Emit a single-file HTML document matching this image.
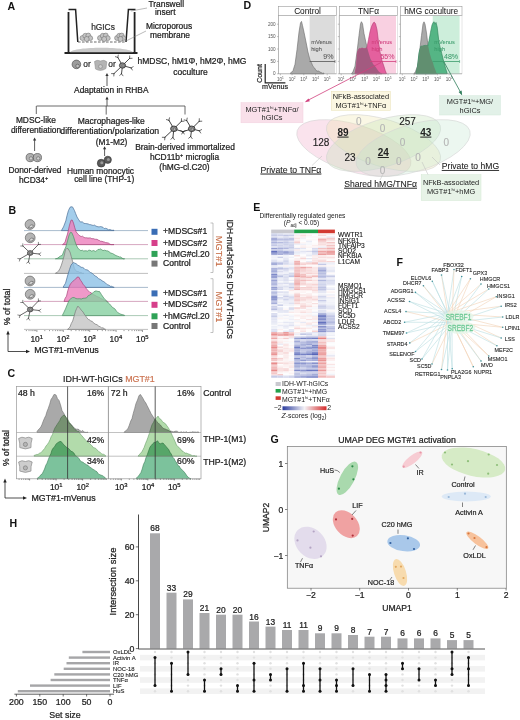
<!DOCTYPE html><html><head><meta charset="utf-8"><style>html,body{margin:0;padding:0;background:#fff;width:520px;height:720px;overflow:hidden}svg{display:block}text{font-family:"Liberation Sans",sans-serif}</style></head><body>
<svg width="520" height="720" viewBox="0 0 520 720">
<rect width="520" height="720" fill="#fff"/>
<text x="7.6" y="10.2" font-size="10.6" text-anchor="start" fill="#111" stroke="#111" stroke-width="0" font-weight="bold" >A</text>
<path d="M68.5,12 L68.5,53 M64.5,53 L137.5,53 M134.6,12 L134.6,53" stroke="#222" stroke-width="1.8" fill="none"/>
<path d="M70,52.2 C73,46.2 130,46.2 133,52.2 Z" fill="#c9c9c9"/>
<path d="M68.5,9.5 L75.6,9.5 L77.8,42 M126,42 L128.4,9.5 L135.5,9.5" stroke="#222" stroke-width="1.5" fill="none"/>
<line x1="78" y1="42" x2="126" y2="42" stroke="#444" stroke-width="0.8" stroke-dasharray="2.6,1.4"/>
<circle cx="82.5" cy="38" r="2.5" fill="#c4c4c4" stroke="#666" stroke-width="0.5"/>
<circle cx="85.3" cy="35.8" r="2.5" fill="#c4c4c4" stroke="#666" stroke-width="0.5"/>
<circle cx="88.3" cy="35.5" r="2.4" fill="#c4c4c4" stroke="#666" stroke-width="0.5"/>
<circle cx="90.3" cy="38.2" r="2.4" fill="#c4c4c4" stroke="#666" stroke-width="0.5"/>
<circle cx="86.7" cy="39" r="2.5" fill="#c4c4c4" stroke="#666" stroke-width="0.5"/>
<circle cx="100.0" cy="38" r="2.5" fill="#c4c4c4" stroke="#666" stroke-width="0.5"/>
<circle cx="102.8" cy="35.8" r="2.5" fill="#c4c4c4" stroke="#666" stroke-width="0.5"/>
<circle cx="105.8" cy="35.5" r="2.4" fill="#c4c4c4" stroke="#666" stroke-width="0.5"/>
<circle cx="107.8" cy="38.2" r="2.4" fill="#c4c4c4" stroke="#666" stroke-width="0.5"/>
<circle cx="104.2" cy="39" r="2.5" fill="#c4c4c4" stroke="#666" stroke-width="0.5"/>
<circle cx="117.1" cy="38" r="2.5" fill="#c4c4c4" stroke="#666" stroke-width="0.5"/>
<circle cx="119.3" cy="35.8" r="2.5" fill="#c4c4c4" stroke="#666" stroke-width="0.5"/>
<circle cx="121.7" cy="35.5" r="2.4" fill="#c4c4c4" stroke="#666" stroke-width="0.5"/>
<circle cx="123.3" cy="38.2" r="2.4" fill="#c4c4c4" stroke="#666" stroke-width="0.5"/>
<circle cx="120.5" cy="39" r="2.5" fill="#c4c4c4" stroke="#666" stroke-width="0.5"/>
<text x="103" y="29.5" font-size="8.4" text-anchor="middle" fill="#333" stroke="#333" stroke-width="0.235" font-weight="normal" >hGICs</text>
<line x1="131" y1="11" x2="147" y2="8" stroke="#777" stroke-width="0.5" />
<line x1="126" y1="41" x2="146" y2="31" stroke="#777" stroke-width="0.5" />
<text x="148.5" y="7.1" font-size="8.4" text-anchor="start" fill="#222" stroke="#222" stroke-width="0.235" font-weight="normal" >Transwell</text>
<text x="155" y="15.3" font-size="8.4" text-anchor="start" fill="#222" stroke="#222" stroke-width="0.235" font-weight="normal" >insert</text>
<text x="146" y="29.3" font-size="8.4" text-anchor="start" fill="#222" stroke="#222" stroke-width="0.235" font-weight="normal" >Microporous</text>
<text x="150" y="37.6" font-size="8.4" text-anchor="start" fill="#222" stroke="#222" stroke-width="0.235" font-weight="normal" >membrane</text>
<circle cx="76.4" cy="64.4" r="4.3" fill="#9c9c9c" stroke="#555" stroke-width="0.7"/>
<circle cx="77.6" cy="66" r="1.8" fill="#bdbdbd" stroke="#444" stroke-width="0.5"/>
<text x="87" y="66.6" font-size="8.4" text-anchor="middle" fill="#333" stroke="#333" stroke-width="0.235" font-weight="normal" >or</text>
<path d="M94.5,61.5 Q97,59.5 100.5,61 Q104,59.3 106.8,61.8 L106,68.5 Q100.5,72 95.5,69 Z" fill="#b4b4b4" stroke="#888" stroke-width="0.5"/>
<circle cx="100.5" cy="66.5" r="1.9" fill="#cfcfcf" stroke="#777" stroke-width="0.5"/>
<text x="112" y="66.6" font-size="8.4" text-anchor="middle" fill="#333" stroke="#333" stroke-width="0.235" font-weight="normal" >or</text>
<line x1="122.5" y1="65.5" x2="117.8" y2="57.4" stroke="#2a2a2a" stroke-width="0.85" stroke-linecap="round"/>
<line x1="117.8" y1="57.4" x2="118.3" y2="55.0" stroke="#2a2a2a" stroke-width="0.66" stroke-linecap="round"/>
<line x1="117.8" y1="57.4" x2="115.4" y2="56.7" stroke="#2a2a2a" stroke-width="0.66" stroke-linecap="round"/>
<line x1="122.5" y1="65.5" x2="129.6" y2="58.4" stroke="#2a2a2a" stroke-width="0.85" stroke-linecap="round"/>
<line x1="129.6" y1="58.4" x2="132.1" y2="58.3" stroke="#2a2a2a" stroke-width="0.66" stroke-linecap="round"/>
<line x1="129.6" y1="58.4" x2="129.7" y2="55.9" stroke="#2a2a2a" stroke-width="0.66" stroke-linecap="round"/>
<line x1="122.5" y1="65.5" x2="114.0" y2="73.6" stroke="#2a2a2a" stroke-width="0.85" stroke-linecap="round"/>
<line x1="114.0" y1="73.6" x2="111.5" y2="73.6" stroke="#2a2a2a" stroke-width="0.66" stroke-linecap="round"/>
<line x1="114.0" y1="73.6" x2="113.8" y2="76.0" stroke="#2a2a2a" stroke-width="0.66" stroke-linecap="round"/>
<line x1="122.5" y1="65.5" x2="121.5" y2="73.8" stroke="#2a2a2a" stroke-width="0.85" stroke-linecap="round"/>
<line x1="121.5" y1="73.8" x2="119.7" y2="75.4" stroke="#2a2a2a" stroke-width="0.66" stroke-linecap="round"/>
<line x1="121.5" y1="73.8" x2="123.0" y2="75.8" stroke="#2a2a2a" stroke-width="0.66" stroke-linecap="round"/>
<line x1="122.5" y1="65.5" x2="131.1" y2="67.9" stroke="#2a2a2a" stroke-width="0.85" stroke-linecap="round"/>
<line x1="131.1" y1="67.9" x2="132.3" y2="70.0" stroke="#2a2a2a" stroke-width="0.66" stroke-linecap="round"/>
<line x1="131.1" y1="67.9" x2="133.2" y2="66.7" stroke="#2a2a2a" stroke-width="0.66" stroke-linecap="round"/>
<ellipse cx="122.5" cy="65.5" rx="3.1" ry="2.7" fill="#8a8a8a" stroke="#2a2a2a" stroke-width="0.76"/>
<circle cx="123.1" cy="65.9" r="1.1" fill="#bbb" stroke="#2a2a2a" stroke-width="0.4"/>
<text x="137.5" y="64" font-size="8.5" text-anchor="start" fill="#222" stroke="#222" stroke-width="0.238" font-weight="normal" >hMDSC, hM1Φ, hM2Φ, hMG</text>
<text x="190.5" y="74.6" font-size="8.5" text-anchor="middle" fill="#222" stroke="#222" stroke-width="0.238" font-weight="normal" >coculture</text>
<line x1="107" y1="86" x2="107" y2="75" stroke="#333" stroke-width="0.8" />
<path d="M105.4,76 L107,73 L108.6,76 Z" fill="#333"/>
<text x="111.3" y="93.4" font-size="8.4" text-anchor="middle" fill="#222" stroke="#222" stroke-width="0.235" font-weight="normal" >Adaptation in RHBA</text>
<line x1="107" y1="106" x2="107" y2="98.5" stroke="#333" stroke-width="0.8" />
<path d="M105.4,99.5 L107,96.5 L108.6,99.5 Z" fill="#333"/>
<line x1="36.5" y1="106" x2="185" y2="106" stroke="#444" stroke-width="0.8" />
<line x1="36.3" y1="106" x2="36.3" y2="114" stroke="#444" stroke-width="0.8" />
<line x1="106.2" y1="106" x2="106.2" y2="114.6" stroke="#444" stroke-width="0.8" />
<line x1="185" y1="106" x2="185" y2="114.5" stroke="#444" stroke-width="0.8" />
<text x="35.9" y="123.2" font-size="8.4" text-anchor="middle" fill="#222" stroke="#222" stroke-width="0.235" font-weight="normal" >MDSC-like</text>
<text x="36" y="133" font-size="8.4" text-anchor="middle" fill="#222" stroke="#222" stroke-width="0.235" font-weight="normal" >differentiation</text>
<text x="111.3" y="123.8" font-size="8.5" text-anchor="middle" fill="#222" stroke="#222" stroke-width="0.238" font-weight="normal" >Macrophages-like</text>
<text x="109.8" y="133.6" font-size="8.7" text-anchor="middle" fill="#222" stroke="#222" stroke-width="0.244" font-weight="normal" >differentiation/polarization</text>
<text x="111.6" y="144.5" font-size="8.4" text-anchor="middle" fill="#222" stroke="#222" stroke-width="0.235" font-weight="normal" >(M1-M2)</text>
<line x1="34.6" y1="151" x2="34.6" y2="139.5" stroke="#333" stroke-width="0.8" />
<path d="M33.0,140.5 L34.6,137.5 L36.2,140.5 Z" fill="#333"/>
<line x1="104.6" y1="156" x2="104.6" y2="148.3" stroke="#333" stroke-width="0.8" />
<path d="M103.0,149.3 L104.6,146.3 L106.19999999999999,149.3 Z" fill="#333"/>
<circle cx="30.2" cy="157.6" r="4.1" fill="#b0b0b0" stroke="#555" stroke-width="0.7"/>
<circle cx="31.0" cy="158.4" r="1.7" fill="#d0d0d0" stroke="#555" stroke-width="0.5"/>
<circle cx="37.4" cy="157.6" r="4.1" fill="#b0b0b0" stroke="#555" stroke-width="0.7"/>
<circle cx="38.199999999999996" cy="158.4" r="1.7" fill="#d0d0d0" stroke="#555" stroke-width="0.5"/>
<text x="35" y="173.4" font-size="8.4" text-anchor="middle" fill="#222" stroke="#222" stroke-width="0.235" font-weight="normal" >Donor-derived</text>
<text x="33.6" y="183" font-size="8.4" text-anchor="middle" fill="#222" stroke="#222" stroke-width="0.235" font-weight="normal" >hCD34<tspan font-size="5.5" dy="-3">+</tspan></text>
<circle cx="107.8" cy="159.8" r="3.6" fill="#5a5a5a" stroke="#333" stroke-width="0.6"/>
<circle cx="108.39999999999999" cy="159.4" r="1.5" fill="#999"/>
<circle cx="101.2" cy="163.2" r="3.9" fill="#5a5a5a" stroke="#333" stroke-width="0.6"/>
<circle cx="101.8" cy="162.79999999999998" r="1.5" fill="#999"/>
<text x="100.5" y="173.8" font-size="8.4" text-anchor="middle" fill="#222" stroke="#222" stroke-width="0.235" font-weight="normal" >Human monocytic</text>
<text x="104.2" y="182.3" font-size="8.4" text-anchor="middle" fill="#222" stroke="#222" stroke-width="0.235" font-weight="normal" >cell line (THP-1)</text>
<line x1="173.9" y1="128.8" x2="168.9" y2="120.3" stroke="#2a2a2a" stroke-width="0.90" stroke-linecap="round"/>
<line x1="168.9" y1="120.3" x2="169.5" y2="117.8" stroke="#2a2a2a" stroke-width="0.70" stroke-linecap="round"/>
<line x1="168.9" y1="120.3" x2="166.4" y2="119.6" stroke="#2a2a2a" stroke-width="0.70" stroke-linecap="round"/>
<line x1="173.9" y1="128.8" x2="181.4" y2="121.3" stroke="#2a2a2a" stroke-width="0.90" stroke-linecap="round"/>
<line x1="181.4" y1="121.3" x2="184.0" y2="121.2" stroke="#2a2a2a" stroke-width="0.70" stroke-linecap="round"/>
<line x1="181.4" y1="121.3" x2="181.5" y2="118.7" stroke="#2a2a2a" stroke-width="0.70" stroke-linecap="round"/>
<line x1="173.9" y1="128.8" x2="164.9" y2="137.3" stroke="#2a2a2a" stroke-width="0.90" stroke-linecap="round"/>
<line x1="164.9" y1="137.3" x2="162.3" y2="137.3" stroke="#2a2a2a" stroke-width="0.70" stroke-linecap="round"/>
<line x1="164.9" y1="137.3" x2="164.7" y2="139.9" stroke="#2a2a2a" stroke-width="0.70" stroke-linecap="round"/>
<line x1="173.9" y1="128.8" x2="172.9" y2="137.5" stroke="#2a2a2a" stroke-width="0.90" stroke-linecap="round"/>
<line x1="172.9" y1="137.5" x2="170.9" y2="139.2" stroke="#2a2a2a" stroke-width="0.70" stroke-linecap="round"/>
<line x1="172.9" y1="137.5" x2="174.4" y2="139.6" stroke="#2a2a2a" stroke-width="0.70" stroke-linecap="round"/>
<line x1="173.9" y1="128.8" x2="182.9" y2="131.7" stroke="#2a2a2a" stroke-width="0.90" stroke-linecap="round"/>
<line x1="182.9" y1="131.7" x2="184.2" y2="134.0" stroke="#2a2a2a" stroke-width="0.70" stroke-linecap="round"/>
<line x1="182.9" y1="131.7" x2="185.3" y2="130.6" stroke="#2a2a2a" stroke-width="0.70" stroke-linecap="round"/>
<ellipse cx="173.9" cy="128.8" rx="3.3" ry="2.8" fill="#8a8a8a" stroke="#2a2a2a" stroke-width="0.80"/>
<circle cx="174.5" cy="129.2" r="1.2" fill="#bbb" stroke="#2a2a2a" stroke-width="0.4"/>
<line x1="191.7" y1="128.8" x2="186.7" y2="120.6" stroke="#2a2a2a" stroke-width="0.90" stroke-linecap="round"/>
<line x1="186.7" y1="120.6" x2="187.2" y2="118.1" stroke="#2a2a2a" stroke-width="0.70" stroke-linecap="round"/>
<line x1="186.7" y1="120.6" x2="184.2" y2="119.9" stroke="#2a2a2a" stroke-width="0.70" stroke-linecap="round"/>
<line x1="191.7" y1="128.8" x2="199.2" y2="121.3" stroke="#2a2a2a" stroke-width="0.90" stroke-linecap="round"/>
<line x1="199.2" y1="121.3" x2="201.8" y2="121.2" stroke="#2a2a2a" stroke-width="0.70" stroke-linecap="round"/>
<line x1="199.2" y1="121.3" x2="199.3" y2="118.7" stroke="#2a2a2a" stroke-width="0.70" stroke-linecap="round"/>
<line x1="191.7" y1="128.8" x2="183.0" y2="131.7" stroke="#2a2a2a" stroke-width="0.90" stroke-linecap="round"/>
<line x1="183.0" y1="131.7" x2="180.6" y2="130.6" stroke="#2a2a2a" stroke-width="0.70" stroke-linecap="round"/>
<line x1="183.0" y1="131.7" x2="181.8" y2="134.0" stroke="#2a2a2a" stroke-width="0.70" stroke-linecap="round"/>
<line x1="191.7" y1="128.8" x2="190.7" y2="136.5" stroke="#2a2a2a" stroke-width="0.90" stroke-linecap="round"/>
<line x1="190.7" y1="136.5" x2="188.7" y2="138.2" stroke="#2a2a2a" stroke-width="0.70" stroke-linecap="round"/>
<line x1="190.7" y1="136.5" x2="192.2" y2="138.6" stroke="#2a2a2a" stroke-width="0.70" stroke-linecap="round"/>
<line x1="191.7" y1="128.8" x2="199.3" y2="130.8" stroke="#2a2a2a" stroke-width="0.90" stroke-linecap="round"/>
<line x1="199.3" y1="130.8" x2="200.7" y2="133.0" stroke="#2a2a2a" stroke-width="0.70" stroke-linecap="round"/>
<line x1="199.3" y1="130.8" x2="201.6" y2="129.6" stroke="#2a2a2a" stroke-width="0.70" stroke-linecap="round"/>
<ellipse cx="191.7" cy="128.8" rx="3.3" ry="2.8" fill="#8a8a8a" stroke="#2a2a2a" stroke-width="0.80"/>
<circle cx="192.3" cy="129.2" r="1.2" fill="#bbb" stroke="#2a2a2a" stroke-width="0.4"/>
<text x="185" y="149.6" font-size="8.4" text-anchor="middle" fill="#222" stroke="#222" stroke-width="0.235" font-weight="normal" >Brain-derived immortalized</text>
<text x="184.5" y="159.7" font-size="8.4" text-anchor="middle" fill="#222" stroke="#222" stroke-width="0.235" font-weight="normal" >hCD11b<tspan font-size="5.5" dy="-3">+</tspan><tspan dy="3"> microglia</tspan></text>
<text x="184.5" y="170.2" font-size="8.4" text-anchor="middle" fill="#222" stroke="#222" stroke-width="0.235" font-weight="normal" >(hMG-cl.C20)</text>
<text x="8.4" y="214.2" font-size="10.6" text-anchor="start" fill="#111" stroke="#111" stroke-width="0" font-weight="bold" >B</text>
<line x1="24" y1="230.6" x2="148" y2="230.6" stroke="#4a6f96" stroke-width="0.6" stroke-opacity="0.8"/>
<path d="M61.4,230.6 L61.4,230.6 L63.5,226.9 L65.8,220.9 L67.1,215.3 L68.4,210.7 L70.0,207.3 L71.0,206.8 L72.5,206.9 L74.4,210.4 L75.7,213.7 L77.0,217.0 L78.8,219.9 L80.5,222.1 L82.2,221.8 L84.0,223.4 L85.4,223.5 L86.9,223.7 L88.3,224.0 L89.5,224.6 L90.8,224.7 L92.0,225.2 L93.3,225.4 L94.5,225.1 L95.8,226.0 L97.0,226.5 L98.2,226.8 L99.4,226.8 L100.6,226.6 L101.9,226.9 L103.1,227.4 L104.3,228.6 L105.5,228.3 L107.0,228.8 L108.5,229.8 L110.0,229.6 L111.3,230.1 L112.7,230.3 L114.0,230.2 L114.0,230.6 Z" fill="#8cc0e6" fill-opacity="0.8" stroke="#4a6f96" stroke-width="0.7" />
<line x1="24" y1="244.6" x2="148" y2="244.6" stroke="#a8457a" stroke-width="0.6" stroke-opacity="0.8"/>
<path d="M62.5,244.6 L62.5,244.6 L63.8,243.4 L65.0,242.4 L66.2,238.0 L67.5,234.0 L69.5,225.1 L71.0,220.2 L72.2,220.0 L73.5,223.1 L74.8,227.8 L76.0,231.6 L77.2,233.3 L78.5,234.6 L79.9,236.0 L81.3,236.5 L82.6,236.2 L84.0,237.5 L85.3,237.8 L86.7,237.8 L88.0,238.1 L89.3,237.9 L90.6,238.0 L91.9,238.8 L93.1,238.6 L94.4,239.0 L95.7,239.3 L97.0,239.3 L98.2,240.1 L99.4,240.5 L100.6,241.3 L101.9,241.3 L103.1,241.8 L104.3,242.0 L105.5,242.6 L107.0,242.8 L108.5,243.1 L110.0,244.3 L111.3,244.6 L112.7,244.6 L114.0,244.6 L114.0,244.6 Z" fill="#ec7fbc" fill-opacity="0.8" stroke="#a8457a" stroke-width="0.7" />
<line x1="24" y1="258.8" x2="148" y2="258.8" stroke="#4f8f66" stroke-width="0.6" stroke-opacity="0.8"/>
<path d="M55.4,258.8 L55.4,258.8 L56.6,258.5 L57.8,258.1 L59.0,257.1 L60.6,256.0 L62.3,255.3 L64.0,250.8 L65.8,247.0 L67.5,240.8 L69.2,234.7 L70.5,232.3 L71.8,232.7 L73.5,236.6 L74.8,240.9 L76.1,244.7 L77.8,248.0 L79.6,249.8 L80.9,250.7 L82.3,250.2 L83.7,251.0 L85.0,250.8 L86.2,250.8 L87.5,251.1 L88.8,250.2 L90.0,250.2 L91.3,251.1 L92.6,250.8 L93.9,250.5 L95.2,251.5 L96.6,250.8 L98.0,249.4 L99.2,249.5 L100.4,248.9 L101.7,249.7 L103.0,250.6 L104.7,250.2 L106.4,250.8 L107.7,250.9 L109.0,251.7 L110.8,253.1 L112.5,253.5 L114.2,254.5 L116.0,255.6 L117.7,256.2 L119.4,256.9 L120.7,257.0 L122.0,258.1 L123.3,258.8 L124.6,258.8 L124.6,258.8 Z" fill="#86d0a0" fill-opacity="0.8" stroke="#4f8f66" stroke-width="0.7" />
<line x1="24" y1="273.4" x2="148" y2="273.4" stroke="#7a7a7a" stroke-width="0.6" stroke-opacity="0.8"/>
<path d="M55.4,273.4 L55.4,273.2 L57.0,272.4 L58.5,271.2 L60.0,268.5 L61.4,265.1 L62.7,260.8 L64.0,256.3 L65.5,249.7 L66.6,248.6 L68.0,248.6 L70.0,252.0 L71.3,256.7 L72.7,261.8 L74.4,268.7 L75.7,270.5 L77.0,271.6 L78.3,271.6 L79.6,272.4 L81.1,272.5 L82.5,273.4 L84.0,273.4 L84.0,273.4 Z" fill="#c4c4c4" fill-opacity="0.8" stroke="#7a7a7a" stroke-width="0.7" />
<line x1="24" y1="287.4" x2="148" y2="287.4" stroke="#4a6f96" stroke-width="0.6" stroke-opacity="0.8"/>
<path d="M63.2,287.4 L63.2,287.0 L65.5,283.2 L67.5,276.0 L69.5,269.4 L71.0,265.2 L72.2,263.6 L73.5,262.5 L74.8,263.2 L76.0,263.6 L77.8,265.2 L79.6,266.1 L81.1,267.3 L82.5,267.4 L84.0,268.3 L85.4,269.7 L86.9,269.8 L88.3,270.4 L89.5,271.9 L90.8,272.7 L92.0,273.1 L93.6,274.7 L95.2,276.0 L96.8,276.8 L98.5,278.7 L100.3,279.4 L102.1,280.8 L103.8,281.7 L105.5,282.9 L107.2,284.7 L109.0,285.2 L110.3,286.3 L111.6,286.3 L112.9,287.0 L114.2,287.4 L114.2,287.4 Z" fill="#8cc0e6" fill-opacity="0.8" stroke="#4a6f96" stroke-width="0.7" />
<line x1="24" y1="301.4" x2="148" y2="301.4" stroke="#a8457a" stroke-width="0.6" stroke-opacity="0.8"/>
<path d="M64.0,301.4 L64.0,301.4 L65.2,298.2 L66.5,296.2 L67.8,290.7 L69.2,286.6 L70.6,283.6 L72.0,282.4 L73.2,280.9 L74.5,279.9 L75.8,279.0 L77.0,277.2 L78.7,277.0 L80.5,280.2 L81.8,282.0 L83.0,284.2 L84.8,286.2 L86.5,288.9 L88.2,290.7 L90.0,292.5 L91.3,292.8 L92.6,294.4 L93.9,294.8 L95.2,295.4 L96.6,296.3 L98.0,297.0 L99.3,297.3 L100.7,298.5 L102.1,299.0 L103.4,299.7 L104.7,300.7 L106.0,301.0 L107.3,301.3 L107.3,301.4 Z" fill="#ec7fbc" fill-opacity="0.8" stroke="#a8457a" stroke-width="0.7" />
<line x1="24" y1="315.6" x2="148" y2="315.6" stroke="#4f8f66" stroke-width="0.6" stroke-opacity="0.8"/>
<path d="M62.3,315.6 L62.3,315.5 L63.9,312.3 L65.5,308.9 L66.7,305.9 L68.0,302.9 L69.2,300.2 L71.0,298.5 L72.7,297.5 L74.3,297.6 L76.0,298.6 L77.8,298.8 L79.6,298.7 L81.3,299.0 L83.0,298.3 L84.8,298.2 L86.5,297.9 L88.2,295.7 L90.0,294.9 L91.7,293.7 L93.4,292.4 L95.0,291.1 L96.5,291.0 L98.0,291.5 L99.5,291.5 L101.5,294.7 L103.8,298.1 L105.4,299.7 L107.0,301.8 L108.2,302.6 L109.5,303.9 L110.7,305.3 L112.3,307.3 L114.0,308.3 L115.2,309.2 L116.5,311.4 L117.7,312.4 L119.3,313.5 L121.0,314.3 L122.8,314.7 L124.6,315.3 L124.6,315.6 Z" fill="#86d0a0" fill-opacity="0.8" stroke="#4f8f66" stroke-width="0.7" />
<line x1="24" y1="329.4" x2="148" y2="329.4" stroke="#7a7a7a" stroke-width="0.6" stroke-opacity="0.8"/>
<path d="M67.5,329.4 L67.5,329.4 L68.8,328.3 L70.0,327.0 L71.3,323.4 L72.7,321.0 L74.1,316.1 L75.5,311.2 L76.7,308.4 L77.9,306.1 L80.0,308.4 L81.5,310.5 L83.0,311.9 L84.2,314.1 L85.5,315.8 L86.9,317.8 L88.3,319.4 L89.6,319.8 L90.8,321.2 L92.1,321.2 L93.4,322.8 L95.2,324.1 L97.0,324.7 L98.7,326.1 L100.4,326.9 L101.7,327.9 L103.0,327.8 L104.3,328.8 L105.6,329.4 L105.6,329.4 Z" fill="#c4c4c4" fill-opacity="0.8" stroke="#7a7a7a" stroke-width="0.7" />
<line x1="24" y1="331.5" x2="148" y2="331.5" stroke="#fff" stroke-width="0.1" />
<line x1="26.4" y1="330.2" x2="26.4" y2="331.09999999999997" stroke="#333" stroke-width="0.6" />
<line x1="29.0" y1="330.2" x2="29.0" y2="331.09999999999997" stroke="#333" stroke-width="0.6" />
<line x1="31.0" y1="330.2" x2="31.0" y2="331.09999999999997" stroke="#333" stroke-width="0.6" />
<line x1="32.8" y1="330.2" x2="32.8" y2="331.09999999999997" stroke="#333" stroke-width="0.6" />
<line x1="34.3" y1="330.2" x2="34.3" y2="331.09999999999997" stroke="#333" stroke-width="0.6" />
<line x1="35.7" y1="330.2" x2="35.7" y2="331.09999999999997" stroke="#333" stroke-width="0.6" />
<line x1="36.9" y1="330.2" x2="36.9" y2="331.8" stroke="#333" stroke-width="0.6" />
<line x1="44.8" y1="330.2" x2="44.8" y2="331.09999999999997" stroke="#333" stroke-width="0.6" />
<line x1="49.5" y1="330.2" x2="49.5" y2="331.09999999999997" stroke="#333" stroke-width="0.6" />
<line x1="52.8" y1="330.2" x2="52.8" y2="331.09999999999997" stroke="#333" stroke-width="0.6" />
<line x1="55.4" y1="330.2" x2="55.4" y2="331.09999999999997" stroke="#333" stroke-width="0.6" />
<line x1="57.4" y1="330.2" x2="57.4" y2="331.09999999999997" stroke="#333" stroke-width="0.6" />
<line x1="59.2" y1="330.2" x2="59.2" y2="331.09999999999997" stroke="#333" stroke-width="0.6" />
<line x1="60.7" y1="330.2" x2="60.7" y2="331.09999999999997" stroke="#333" stroke-width="0.6" />
<line x1="62.1" y1="330.2" x2="62.1" y2="331.09999999999997" stroke="#333" stroke-width="0.6" />
<line x1="63.3" y1="330.2" x2="63.3" y2="331.8" stroke="#333" stroke-width="0.6" />
<line x1="71.2" y1="330.2" x2="71.2" y2="331.09999999999997" stroke="#333" stroke-width="0.6" />
<line x1="75.9" y1="330.2" x2="75.9" y2="331.09999999999997" stroke="#333" stroke-width="0.6" />
<line x1="79.2" y1="330.2" x2="79.2" y2="331.09999999999997" stroke="#333" stroke-width="0.6" />
<line x1="81.8" y1="330.2" x2="81.8" y2="331.09999999999997" stroke="#333" stroke-width="0.6" />
<line x1="83.8" y1="330.2" x2="83.8" y2="331.09999999999997" stroke="#333" stroke-width="0.6" />
<line x1="85.6" y1="330.2" x2="85.6" y2="331.09999999999997" stroke="#333" stroke-width="0.6" />
<line x1="87.1" y1="330.2" x2="87.1" y2="331.09999999999997" stroke="#333" stroke-width="0.6" />
<line x1="88.5" y1="330.2" x2="88.5" y2="331.09999999999997" stroke="#333" stroke-width="0.6" />
<line x1="89.7" y1="330.2" x2="89.7" y2="331.8" stroke="#333" stroke-width="0.6" />
<line x1="97.6" y1="330.2" x2="97.6" y2="331.09999999999997" stroke="#333" stroke-width="0.6" />
<line x1="102.3" y1="330.2" x2="102.3" y2="331.09999999999997" stroke="#333" stroke-width="0.6" />
<line x1="105.6" y1="330.2" x2="105.6" y2="331.09999999999997" stroke="#333" stroke-width="0.6" />
<line x1="108.2" y1="330.2" x2="108.2" y2="331.09999999999997" stroke="#333" stroke-width="0.6" />
<line x1="110.2" y1="330.2" x2="110.2" y2="331.09999999999997" stroke="#333" stroke-width="0.6" />
<line x1="112.0" y1="330.2" x2="112.0" y2="331.09999999999997" stroke="#333" stroke-width="0.6" />
<line x1="113.5" y1="330.2" x2="113.5" y2="331.09999999999997" stroke="#333" stroke-width="0.6" />
<line x1="114.9" y1="330.2" x2="114.9" y2="331.09999999999997" stroke="#333" stroke-width="0.6" />
<line x1="116.1" y1="330.2" x2="116.1" y2="331.8" stroke="#333" stroke-width="0.6" />
<line x1="124.0" y1="330.2" x2="124.0" y2="331.09999999999997" stroke="#333" stroke-width="0.6" />
<line x1="128.7" y1="330.2" x2="128.7" y2="331.09999999999997" stroke="#333" stroke-width="0.6" />
<line x1="132.0" y1="330.2" x2="132.0" y2="331.09999999999997" stroke="#333" stroke-width="0.6" />
<line x1="134.6" y1="330.2" x2="134.6" y2="331.09999999999997" stroke="#333" stroke-width="0.6" />
<line x1="136.6" y1="330.2" x2="136.6" y2="331.09999999999997" stroke="#333" stroke-width="0.6" />
<line x1="138.4" y1="330.2" x2="138.4" y2="331.09999999999997" stroke="#333" stroke-width="0.6" />
<line x1="139.9" y1="330.2" x2="139.9" y2="331.09999999999997" stroke="#333" stroke-width="0.6" />
<line x1="141.3" y1="330.2" x2="141.3" y2="331.09999999999997" stroke="#333" stroke-width="0.6" />
<line x1="142.5" y1="330.2" x2="142.5" y2="331.8" stroke="#333" stroke-width="0.6" />
<text x="36.7" y="342.3" font-size="8.4" text-anchor="middle" fill="#222" stroke="#222" stroke-width="0.235" font-weight="normal" >10<tspan font-size="5.8" dy="-3.3">1</tspan></text>
<text x="63.10000000000001" y="342.3" font-size="8.4" text-anchor="middle" fill="#222" stroke="#222" stroke-width="0.235" font-weight="normal" >10<tspan font-size="5.8" dy="-3.3">2</tspan></text>
<text x="89.5" y="342.3" font-size="8.4" text-anchor="middle" fill="#222" stroke="#222" stroke-width="0.235" font-weight="normal" >10<tspan font-size="5.8" dy="-3.3">3</tspan></text>
<text x="115.9" y="342.3" font-size="8.4" text-anchor="middle" fill="#222" stroke="#222" stroke-width="0.235" font-weight="normal" >10<tspan font-size="5.8" dy="-3.3">4</tspan></text>
<text x="142.29999999999998" y="342.3" font-size="8.4" text-anchor="middle" fill="#222" stroke="#222" stroke-width="0.235" font-weight="normal" >10<tspan font-size="5.8" dy="-3.3">5</tspan></text>
<path d="M8,351.5 L8,333 M8,351.5 L27,351.5" stroke="#222" stroke-width="0.8" fill="none"/>
<path d="M6.3,334.5 L8,330.5 L9.7,334.5 Z" fill="#222"/>
<path d="M26,349.8 L30,351.5 L26,353.2 Z" fill="#222"/>
<text x="34.2" y="353" font-size="8.9" text-anchor="start" fill="#222" stroke="#222" stroke-width="0.249" font-weight="normal" >MGT#1-mVenus</text>
<text x="10.2" y="307" font-size="8.8" text-anchor="middle" fill="#222" stroke="#222" stroke-width="0.246" font-weight="normal" transform="rotate(-90 10.2 307)">% of total</text>
<circle cx="30" cy="224.5" r="4.9" fill="#b4b4b4" stroke="#666" stroke-width="0.7"/>
<path d="M28.4,227.7 Q33.4,228.5 33.2,225.1 Q31,224.1 29.4,226.1 Z" fill="#dadada" stroke="#555" stroke-width="0.6"/>
<circle cx="30.2" cy="237.8" r="4.9" fill="#b4b4b4" stroke="#666" stroke-width="0.7"/>
<path d="M28.599999999999998,241.0 Q33.6,241.8 33.4,238.4 Q31.2,237.4 29.599999999999998,239.4 Z" fill="#dadada" stroke="#555" stroke-width="0.6"/>
<line x1="30.2" y1="253" x2="22.9" y2="246.0" stroke="#3a3a3a" stroke-width="0.77" stroke-linecap="round"/>
<line x1="22.9" y1="246.0" x2="22.8" y2="243.8" stroke="#3a3a3a" stroke-width="0.59" stroke-linecap="round"/>
<line x1="22.9" y1="246.0" x2="20.7" y2="246.0" stroke="#3a3a3a" stroke-width="0.59" stroke-linecap="round"/>
<line x1="30.2" y1="253" x2="38.4" y2="244.5" stroke="#3a3a3a" stroke-width="0.77" stroke-linecap="round"/>
<line x1="38.4" y1="244.5" x2="40.6" y2="244.4" stroke="#3a3a3a" stroke-width="0.59" stroke-linecap="round"/>
<line x1="38.4" y1="244.5" x2="38.4" y2="242.3" stroke="#3a3a3a" stroke-width="0.59" stroke-linecap="round"/>
<line x1="30.2" y1="253" x2="20.0" y2="258.9" stroke="#3a3a3a" stroke-width="0.77" stroke-linecap="round"/>
<line x1="20.0" y1="258.9" x2="17.8" y2="258.5" stroke="#3a3a3a" stroke-width="0.59" stroke-linecap="round"/>
<line x1="20.0" y1="258.9" x2="19.4" y2="261.1" stroke="#3a3a3a" stroke-width="0.59" stroke-linecap="round"/>
<line x1="30.2" y1="253" x2="28.5" y2="261.8" stroke="#3a3a3a" stroke-width="0.77" stroke-linecap="round"/>
<line x1="28.5" y1="261.8" x2="26.7" y2="263.1" stroke="#3a3a3a" stroke-width="0.59" stroke-linecap="round"/>
<line x1="28.5" y1="261.8" x2="29.7" y2="263.7" stroke="#3a3a3a" stroke-width="0.59" stroke-linecap="round"/>
<line x1="30.2" y1="253" x2="39.1" y2="254.0" stroke="#3a3a3a" stroke-width="0.77" stroke-linecap="round"/>
<line x1="39.1" y1="254.0" x2="40.6" y2="255.7" stroke="#3a3a3a" stroke-width="0.59" stroke-linecap="round"/>
<line x1="39.1" y1="254.0" x2="40.9" y2="252.7" stroke="#3a3a3a" stroke-width="0.59" stroke-linecap="round"/>
<ellipse cx="30.2" cy="253" rx="2.8" ry="2.4" fill="#8a8a8a" stroke="#3a3a3a" stroke-width="0.68"/>
<circle cx="30.7" cy="253.3" r="1.0" fill="#bbb" stroke="#3a3a3a" stroke-width="0.4"/>
<circle cx="30" cy="281.0" r="4.9" fill="#b4b4b4" stroke="#666" stroke-width="0.7"/>
<path d="M28.4,284.2 Q33.4,285.0 33.2,281.6 Q31,280.6 29.4,282.6 Z" fill="#dadada" stroke="#555" stroke-width="0.6"/>
<circle cx="30.2" cy="294.3" r="4.9" fill="#b4b4b4" stroke="#666" stroke-width="0.7"/>
<path d="M28.599999999999998,297.5 Q33.6,298.3 33.4,294.90000000000003 Q31.2,293.90000000000003 29.599999999999998,295.90000000000003 Z" fill="#dadada" stroke="#555" stroke-width="0.6"/>
<line x1="30.2" y1="309.5" x2="22.9" y2="302.5" stroke="#3a3a3a" stroke-width="0.77" stroke-linecap="round"/>
<line x1="22.9" y1="302.5" x2="22.8" y2="300.3" stroke="#3a3a3a" stroke-width="0.59" stroke-linecap="round"/>
<line x1="22.9" y1="302.5" x2="20.7" y2="302.5" stroke="#3a3a3a" stroke-width="0.59" stroke-linecap="round"/>
<line x1="30.2" y1="309.5" x2="38.4" y2="301.0" stroke="#3a3a3a" stroke-width="0.77" stroke-linecap="round"/>
<line x1="38.4" y1="301.0" x2="40.6" y2="300.9" stroke="#3a3a3a" stroke-width="0.59" stroke-linecap="round"/>
<line x1="38.4" y1="301.0" x2="38.4" y2="298.8" stroke="#3a3a3a" stroke-width="0.59" stroke-linecap="round"/>
<line x1="30.2" y1="309.5" x2="20.0" y2="315.4" stroke="#3a3a3a" stroke-width="0.77" stroke-linecap="round"/>
<line x1="20.0" y1="315.4" x2="17.8" y2="315.0" stroke="#3a3a3a" stroke-width="0.59" stroke-linecap="round"/>
<line x1="20.0" y1="315.4" x2="19.4" y2="317.6" stroke="#3a3a3a" stroke-width="0.59" stroke-linecap="round"/>
<line x1="30.2" y1="309.5" x2="28.5" y2="318.3" stroke="#3a3a3a" stroke-width="0.77" stroke-linecap="round"/>
<line x1="28.5" y1="318.3" x2="26.7" y2="319.6" stroke="#3a3a3a" stroke-width="0.59" stroke-linecap="round"/>
<line x1="28.5" y1="318.3" x2="29.7" y2="320.2" stroke="#3a3a3a" stroke-width="0.59" stroke-linecap="round"/>
<line x1="30.2" y1="309.5" x2="39.1" y2="310.5" stroke="#3a3a3a" stroke-width="0.77" stroke-linecap="round"/>
<line x1="39.1" y1="310.5" x2="40.6" y2="312.2" stroke="#3a3a3a" stroke-width="0.59" stroke-linecap="round"/>
<line x1="39.1" y1="310.5" x2="40.9" y2="309.2" stroke="#3a3a3a" stroke-width="0.59" stroke-linecap="round"/>
<ellipse cx="30.2" cy="309.5" rx="2.8" ry="2.4" fill="#8a8a8a" stroke="#3a3a3a" stroke-width="0.68"/>
<circle cx="30.7" cy="309.8" r="1.0" fill="#bbb" stroke="#3a3a3a" stroke-width="0.4"/>
<rect x="151.5" y="228.8" width="6" height="6" fill="#3a6db5"/>
<text x="163" y="234.4" font-size="8.6" text-anchor="start" fill="#222" stroke="#222" stroke-width="0.241" font-weight="normal" >+MDSCs#1</text>
<rect x="151.5" y="240.0" width="6" height="6" fill="#d63f8a"/>
<text x="163" y="245.6" font-size="8.6" text-anchor="start" fill="#222" stroke="#222" stroke-width="0.241" font-weight="normal" >+MDSCs#2</text>
<rect x="151.5" y="250.9" width="6" height="6" fill="#2ea256"/>
<text x="163" y="256.5" font-size="8.6" text-anchor="start" fill="#222" stroke="#222" stroke-width="0.241" font-weight="normal" >+hMG#cl.20</text>
<rect x="151.5" y="260.6" width="6" height="6" fill="#777"/>
<text x="163" y="266.2" font-size="8.6" text-anchor="start" fill="#222" stroke="#222" stroke-width="0.241" font-weight="normal" >Control</text>
<rect x="151.5" y="290.4" width="6" height="6" fill="#3a6db5"/>
<text x="163" y="296" font-size="8.6" text-anchor="start" fill="#222" stroke="#222" stroke-width="0.241" font-weight="normal" >+MDSCs#1</text>
<rect x="151.5" y="301.8" width="6" height="6" fill="#d63f8a"/>
<text x="163" y="307.4" font-size="8.6" text-anchor="start" fill="#222" stroke="#222" stroke-width="0.241" font-weight="normal" >+MDSCs#2</text>
<rect x="151.5" y="313.3" width="6" height="6" fill="#2ea256"/>
<text x="163" y="318.9" font-size="8.6" text-anchor="start" fill="#222" stroke="#222" stroke-width="0.241" font-weight="normal" >+hMG#cl.20</text>
<rect x="151.5" y="323.0" width="6" height="6" fill="#777"/>
<text x="163" y="328.6" font-size="8.6" text-anchor="start" fill="#222" stroke="#222" stroke-width="0.241" font-weight="normal" >Control</text>
<path d="M210.5,223 L213,223 L213,272.5 L210.5,272.5" stroke="#999" stroke-width="0.6" fill="none"/>
<path d="M210.5,278.7 L213,278.7 L213,332.5 L210.5,332.5" stroke="#999" stroke-width="0.6" fill="none"/>
<text x="0" y="0" font-size="9.3" text-anchor="middle" fill="#c66e48" stroke="#c66e48" stroke-width="0.1" font-weight="normal" transform="translate(216.1 251.2) rotate(90)">MGT#1</text>
<text x="0" y="0" font-size="9.3" text-anchor="middle" fill="#c66e48" stroke="#c66e48" stroke-width="0.1" font-weight="normal" transform="translate(216.1 307) rotate(90)">MGT#1</text>
<text x="0" y="0" font-size="8.6" text-anchor="middle" fill="#222" stroke="#222" stroke-width="0.241" font-weight="normal" transform="translate(226.6 249) rotate(90)">IDH-mut-hGICs</text>
<text x="0" y="0" font-size="8.6" text-anchor="middle" fill="#222" stroke="#222" stroke-width="0.241" font-weight="normal" transform="translate(226.6 310) rotate(90)">IDH-WT-hGICs</text>
<text x="7.5" y="376.5" font-size="10.6" text-anchor="start" fill="#111" stroke="#111" stroke-width="0" font-weight="bold" >C</text>
<text x="63" y="381.6" font-size="8.9" fill="#222" stroke="#222" stroke-width="0.2">IDH-WT-hGICs <tspan fill="#cc7452" stroke="#cc7452">MGT#1</tspan></text>
<path d="M37.0,432.5 L37.0,431.6 L38.2,429.9 L39.5,428.5 L40.8,427.1 L42.0,424.5 L43.2,421.2 L44.5,418.1 L45.8,415.6 L47.0,411.5 L48.3,408.3 L49.7,404.2 L51.0,399.5 L52.5,397.3 L54.0,394.4 L56.0,394.9 L57.5,398.7 L59.0,400.4 L60.5,404.8 L62.0,410.6 L63.3,412.5 L64.7,414.9 L66.0,417.8 L67.5,420.2 L69.0,423.3 L70.2,423.5 L71.5,424.7 L72.8,426.4 L74.0,427.6 L75.2,428.8 L76.5,429.2 L77.8,429.2 L79.0,429.6 L80.2,430.8 L81.4,431.4 L82.6,430.4 L83.8,431.8 L85.0,432.3 L86.5,432.4 L88.0,432.1 L88.0,432.5 Z" fill="#a9a9a9" fill-opacity="1" stroke="#6f6f6f" stroke-width="0.6" />
<path d="M34.0,456.2 L34.0,455.5 L35.3,455.0 L36.7,454.4 L38.0,454.5 L39.3,453.3 L40.7,452.9 L42.0,451.5 L43.3,450.0 L44.7,448.4 L46.0,446.0 L47.3,444.5 L48.7,442.5 L50.0,439.8 L51.2,436.6 L52.4,434.7 L53.6,431.2 L54.8,428.2 L56.0,426.3 L57.2,424.4 L58.5,422.4 L59.8,420.5 L61.0,417.6 L62.5,416.2 L64.0,415.0 L66.0,417.1 L67.3,418.5 L68.7,421.1 L70.0,423.4 L71.2,425.0 L72.5,426.4 L73.8,428.3 L75.0,429.6 L76.3,430.4 L77.7,431.8 L79.0,431.6 L80.3,434.0 L81.7,435.6 L83.0,437.1 L84.3,438.6 L85.7,440.3 L87.0,441.6 L88.2,442.3 L89.5,443.5 L90.8,444.6 L92.0,445.9 L93.3,447.6 L94.6,447.9 L95.9,448.5 L97.2,450.0 L98.5,451.4 L100.2,452.4 L102.0,454.2 L103.3,454.2 L104.7,454.9 L106.0,456.2 L106.0,456.2 Z" fill="#b2dbab" fill-opacity="1" stroke="#6a9f6a" stroke-width="0.6" style="mix-blend-mode:multiply"/>
<path d="M37.0,478.8 L37.0,478.6 L38.2,477.6 L39.5,476.7 L40.8,474.8 L42.0,474.2 L43.2,471.8 L44.5,469.1 L45.8,465.3 L47.0,463.2 L48.2,459.9 L49.5,456.5 L50.8,453.9 L52.0,450.0 L53.3,447.9 L54.7,446.6 L56.0,444.2 L57.3,442.9 L58.7,442.1 L60.0,441.5 L61.2,441.6 L62.5,443.2 L63.8,444.8 L65.0,445.9 L66.3,447.1 L67.7,447.9 L69.3,449.2 L71.0,451.3 L72.5,451.8 L73.9,453.0 L75.4,455.7 L77.2,456.7 L79.0,458.6 L80.3,460.8 L81.7,461.8 L83.0,462.2 L84.2,463.3 L85.5,464.0 L86.8,464.9 L88.0,465.3 L89.6,467.1 L91.1,467.9 L92.7,469.1 L94.1,469.9 L95.6,470.9 L97.0,471.8 L98.3,473.9 L99.7,474.6 L101.0,475.2 L102.3,475.5 L103.5,476.4 L104.8,477.3 L106.0,478.5 L106.0,478.8 Z" fill="#7cc29c" fill-opacity="1" stroke="#3b7d58" stroke-width="0.6" style="mix-blend-mode:multiply"/>
<path d="M124.0,432.5 L124.0,432.3 L125.3,431.0 L126.7,429.9 L128.0,428.6 L129.3,425.2 L130.7,421.1 L132.0,418.6 L133.3,413.2 L134.7,408.4 L136.0,403.4 L137.5,400.0 L139.0,395.5 L140.5,394.5 L141.8,396.6 L143.0,398.4 L144.3,401.0 L145.7,402.8 L147.0,405.4 L148.3,408.0 L149.7,410.7 L151.0,413.5 L152.5,415.8 L154.0,418.3 L155.3,419.6 L156.7,421.4 L158.0,422.7 L159.2,424.0 L160.5,425.1 L161.8,426.8 L163.0,428.2 L164.2,428.7 L165.5,429.1 L166.8,429.8 L168.0,430.1 L169.4,431.2 L170.8,431.1 L172.2,431.5 L173.6,431.8 L175.0,431.3 L176.2,431.1 L177.5,431.4 L178.8,432.4 L180.0,432.3 L181.2,431.8 L182.5,432.4 L183.8,431.9 L185.0,432.5 L186.3,431.7 L187.5,432.5 L188.8,432.5 L190.1,432.2 L191.4,432.3 L192.6,431.8 L193.9,432.1 L195.2,432.0 L196.5,432.2 L197.7,431.9 L199.0,432.2 L199.0,432.5 Z" fill="#a9a9a9" fill-opacity="1" stroke="#6f6f6f" stroke-width="0.6" />
<path d="M138.0,456.2 L138.0,456.1 L139.2,454.8 L140.5,453.3 L141.8,451.9 L143.0,449.7 L144.2,447.3 L145.5,443.6 L146.8,440.5 L148.0,437.3 L149.3,433.5 L150.7,428.7 L152.0,424.8 L153.5,422.3 L155.0,419.1 L156.5,418.0 L158.0,416.1 L159.5,418.7 L161.0,419.4 L162.5,421.8 L164.0,422.8 L165.5,423.8 L167.0,426.0 L168.3,427.7 L169.7,430.3 L171.0,432.8 L172.3,435.6 L173.7,438.6 L175.0,441.5 L176.5,445.1 L178.0,446.8 L179.2,447.8 L180.4,448.7 L181.6,450.6 L182.8,451.1 L184.0,452.4 L185.2,453.1 L186.4,453.1 L187.6,453.6 L188.8,454.1 L190.0,454.5 L191.4,455.2 L192.8,455.9 L194.2,455.6 L195.6,456.2 L197.0,456.2 L197.0,456.2 Z" fill="#b2dbab" fill-opacity="1" stroke="#6a9f6a" stroke-width="0.6" style="mix-blend-mode:multiply"/>
<path d="M136.0,478.8 L136.0,478.3 L137.2,477.6 L138.5,475.9 L139.8,474.2 L141.0,472.4 L142.2,469.0 L143.5,464.3 L144.8,461.7 L146.0,457.6 L147.3,454.7 L148.7,450.6 L150.0,447.1 L151.3,445.4 L152.7,443.8 L154.0,442.5 L155.8,442.2 L157.5,440.8 L158.8,442.7 L160.0,444.0 L161.5,443.3 L163.0,443.0 L164.5,444.7 L166.0,446.4 L167.3,448.0 L168.7,449.6 L170.0,452.3 L171.3,454.1 L172.7,457.2 L174.0,458.5 L175.3,461.1 L176.7,462.8 L178.0,465.7 L179.2,466.0 L180.5,468.5 L181.8,469.4 L183.0,470.8 L184.3,472.1 L185.7,474.0 L187.0,476.1 L188.3,477.3 L189.7,478.3 L191.0,478.8 L191.0,478.8 Z" fill="#7cc29c" fill-opacity="1" stroke="#3b7d58" stroke-width="0.6" style="mix-blend-mode:multiply"/>
<rect x="16.6" y="386.5" width="91.69999999999999" height="92.3" fill="none" stroke="#999" stroke-width="0.7"/>
<line x1="16.6" y1="432.5" x2="108.3" y2="432.5" stroke="#999" stroke-width="0.6" />
<line x1="16.6" y1="456.2" x2="108.3" y2="456.2" stroke="#999" stroke-width="0.6" />
<line x1="67.6" y1="386.5" x2="67.6" y2="478.8" stroke="#333" stroke-width="0.8" />
<line x1="19.1" y1="478.8" x2="19.1" y2="479.7" stroke="#333" stroke-width="0.6" />
<line x1="21.6" y1="478.8" x2="21.6" y2="479.7" stroke="#333" stroke-width="0.6" />
<line x1="23.7" y1="478.8" x2="23.7" y2="479.7" stroke="#333" stroke-width="0.6" />
<line x1="25.5" y1="478.8" x2="25.5" y2="479.7" stroke="#333" stroke-width="0.6" />
<line x1="27.0" y1="478.8" x2="27.0" y2="479.7" stroke="#333" stroke-width="0.6" />
<line x1="28.4" y1="478.8" x2="28.4" y2="479.7" stroke="#333" stroke-width="0.6" />
<line x1="29.6" y1="478.8" x2="29.6" y2="480.40000000000003" stroke="#333" stroke-width="0.6" />
<line x1="37.6" y1="478.8" x2="37.6" y2="479.7" stroke="#333" stroke-width="0.6" />
<line x1="42.2" y1="478.8" x2="42.2" y2="479.7" stroke="#333" stroke-width="0.6" />
<line x1="45.6" y1="478.8" x2="45.6" y2="479.7" stroke="#333" stroke-width="0.6" />
<line x1="48.1" y1="478.8" x2="48.1" y2="479.7" stroke="#333" stroke-width="0.6" />
<line x1="50.2" y1="478.8" x2="50.2" y2="479.7" stroke="#333" stroke-width="0.6" />
<line x1="52.0" y1="478.8" x2="52.0" y2="479.7" stroke="#333" stroke-width="0.6" />
<line x1="53.5" y1="478.8" x2="53.5" y2="479.7" stroke="#333" stroke-width="0.6" />
<line x1="54.9" y1="478.8" x2="54.9" y2="479.7" stroke="#333" stroke-width="0.6" />
<line x1="56.1" y1="478.8" x2="56.1" y2="480.40000000000003" stroke="#333" stroke-width="0.6" />
<line x1="64.1" y1="478.8" x2="64.1" y2="479.7" stroke="#333" stroke-width="0.6" />
<line x1="68.7" y1="478.8" x2="68.7" y2="479.7" stroke="#333" stroke-width="0.6" />
<line x1="72.1" y1="478.8" x2="72.1" y2="479.7" stroke="#333" stroke-width="0.6" />
<line x1="74.6" y1="478.8" x2="74.6" y2="479.7" stroke="#333" stroke-width="0.6" />
<line x1="76.7" y1="478.8" x2="76.7" y2="479.7" stroke="#333" stroke-width="0.6" />
<line x1="78.5" y1="478.8" x2="78.5" y2="479.7" stroke="#333" stroke-width="0.6" />
<line x1="80.0" y1="478.8" x2="80.0" y2="479.7" stroke="#333" stroke-width="0.6" />
<line x1="81.4" y1="478.8" x2="81.4" y2="479.7" stroke="#333" stroke-width="0.6" />
<line x1="82.6" y1="478.8" x2="82.6" y2="480.40000000000003" stroke="#333" stroke-width="0.6" />
<line x1="90.6" y1="478.8" x2="90.6" y2="479.7" stroke="#333" stroke-width="0.6" />
<line x1="95.2" y1="478.8" x2="95.2" y2="479.7" stroke="#333" stroke-width="0.6" />
<line x1="98.6" y1="478.8" x2="98.6" y2="479.7" stroke="#333" stroke-width="0.6" />
<line x1="101.1" y1="478.8" x2="101.1" y2="479.7" stroke="#333" stroke-width="0.6" />
<line x1="103.2" y1="478.8" x2="103.2" y2="479.7" stroke="#333" stroke-width="0.6" />
<line x1="105.0" y1="478.8" x2="105.0" y2="479.7" stroke="#333" stroke-width="0.6" />
<line x1="106.5" y1="478.8" x2="106.5" y2="479.7" stroke="#333" stroke-width="0.6" />
<rect x="108.3" y="386.5" width="92.7" height="92.3" fill="none" stroke="#999" stroke-width="0.7"/>
<line x1="108.3" y1="432.5" x2="201" y2="432.5" stroke="#999" stroke-width="0.6" />
<line x1="108.3" y1="456.2" x2="201" y2="456.2" stroke="#999" stroke-width="0.6" />
<line x1="155.2" y1="386.5" x2="155.2" y2="478.8" stroke="#333" stroke-width="0.8" />
<line x1="110.8" y1="478.8" x2="110.8" y2="479.7" stroke="#333" stroke-width="0.6" />
<line x1="113.3" y1="478.8" x2="113.3" y2="479.7" stroke="#333" stroke-width="0.6" />
<line x1="115.4" y1="478.8" x2="115.4" y2="479.7" stroke="#333" stroke-width="0.6" />
<line x1="117.2" y1="478.8" x2="117.2" y2="479.7" stroke="#333" stroke-width="0.6" />
<line x1="118.7" y1="478.8" x2="118.7" y2="479.7" stroke="#333" stroke-width="0.6" />
<line x1="120.1" y1="478.8" x2="120.1" y2="479.7" stroke="#333" stroke-width="0.6" />
<line x1="121.3" y1="478.8" x2="121.3" y2="480.40000000000003" stroke="#333" stroke-width="0.6" />
<line x1="129.3" y1="478.8" x2="129.3" y2="479.7" stroke="#333" stroke-width="0.6" />
<line x1="133.9" y1="478.8" x2="133.9" y2="479.7" stroke="#333" stroke-width="0.6" />
<line x1="137.3" y1="478.8" x2="137.3" y2="479.7" stroke="#333" stroke-width="0.6" />
<line x1="139.8" y1="478.8" x2="139.8" y2="479.7" stroke="#333" stroke-width="0.6" />
<line x1="141.9" y1="478.8" x2="141.9" y2="479.7" stroke="#333" stroke-width="0.6" />
<line x1="143.7" y1="478.8" x2="143.7" y2="479.7" stroke="#333" stroke-width="0.6" />
<line x1="145.2" y1="478.8" x2="145.2" y2="479.7" stroke="#333" stroke-width="0.6" />
<line x1="146.6" y1="478.8" x2="146.6" y2="479.7" stroke="#333" stroke-width="0.6" />
<line x1="147.8" y1="478.8" x2="147.8" y2="480.40000000000003" stroke="#333" stroke-width="0.6" />
<line x1="155.8" y1="478.8" x2="155.8" y2="479.7" stroke="#333" stroke-width="0.6" />
<line x1="160.4" y1="478.8" x2="160.4" y2="479.7" stroke="#333" stroke-width="0.6" />
<line x1="163.8" y1="478.8" x2="163.8" y2="479.7" stroke="#333" stroke-width="0.6" />
<line x1="166.3" y1="478.8" x2="166.3" y2="479.7" stroke="#333" stroke-width="0.6" />
<line x1="168.4" y1="478.8" x2="168.4" y2="479.7" stroke="#333" stroke-width="0.6" />
<line x1="170.2" y1="478.8" x2="170.2" y2="479.7" stroke="#333" stroke-width="0.6" />
<line x1="171.7" y1="478.8" x2="171.7" y2="479.7" stroke="#333" stroke-width="0.6" />
<line x1="173.1" y1="478.8" x2="173.1" y2="479.7" stroke="#333" stroke-width="0.6" />
<line x1="174.3" y1="478.8" x2="174.3" y2="480.40000000000003" stroke="#333" stroke-width="0.6" />
<line x1="182.3" y1="478.8" x2="182.3" y2="479.7" stroke="#333" stroke-width="0.6" />
<line x1="186.9" y1="478.8" x2="186.9" y2="479.7" stroke="#333" stroke-width="0.6" />
<line x1="190.3" y1="478.8" x2="190.3" y2="479.7" stroke="#333" stroke-width="0.6" />
<line x1="192.8" y1="478.8" x2="192.8" y2="479.7" stroke="#333" stroke-width="0.6" />
<line x1="194.9" y1="478.8" x2="194.9" y2="479.7" stroke="#333" stroke-width="0.6" />
<line x1="196.7" y1="478.8" x2="196.7" y2="479.7" stroke="#333" stroke-width="0.6" />
<line x1="198.2" y1="478.8" x2="198.2" y2="479.7" stroke="#333" stroke-width="0.6" />
<line x1="199.6" y1="478.8" x2="199.6" y2="479.7" stroke="#333" stroke-width="0.6" />
<text x="18" y="395.7" font-size="8.7" text-anchor="start" fill="#222" stroke="#222" stroke-width="0.244" font-weight="normal" >48 h</text>
<text x="110.8" y="395.7" font-size="8.7" text-anchor="start" fill="#222" stroke="#222" stroke-width="0.244" font-weight="normal" >72 h</text>
<text x="104.3" y="395.7" font-size="8.7" text-anchor="end" fill="#222" stroke="#222" stroke-width="0.244" font-weight="normal" >16%</text>
<text x="104.3" y="443.2" font-size="8.7" text-anchor="end" fill="#222" stroke="#222" stroke-width="0.244" font-weight="normal" >42%</text>
<text x="104.3" y="464.2" font-size="8.7" text-anchor="end" fill="#222" stroke="#222" stroke-width="0.244" font-weight="normal" >34%</text>
<text x="194.5" y="395.7" font-size="8.7" text-anchor="end" fill="#222" stroke="#222" stroke-width="0.244" font-weight="normal" >16%</text>
<text x="194.5" y="443.2" font-size="8.7" text-anchor="end" fill="#222" stroke="#222" stroke-width="0.244" font-weight="normal" >69%</text>
<text x="194.5" y="464.2" font-size="8.7" text-anchor="end" fill="#222" stroke="#222" stroke-width="0.244" font-weight="normal" >60%</text>
<text x="203.2" y="395.5" font-size="8.7" text-anchor="start" fill="#222" stroke="#222" stroke-width="0.244" font-weight="normal" >Control</text>
<text x="203.2" y="442.4" font-size="8.7" text-anchor="start" fill="#222" stroke="#222" stroke-width="0.244" font-weight="normal" >THP-1(M1)</text>
<text x="203.2" y="464.5" font-size="8.7" text-anchor="start" fill="#222" stroke="#222" stroke-width="0.244" font-weight="normal" >THP-1(M2)</text>
<text x="56.2" y="490.2" font-size="8.4" text-anchor="middle" fill="#222" stroke="#222" stroke-width="0.235" font-weight="normal" >10<tspan font-size="5.8" dy="-3.3">1</tspan></text>
<text x="82.7" y="490.2" font-size="8.4" text-anchor="middle" fill="#222" stroke="#222" stroke-width="0.235" font-weight="normal" >10<tspan font-size="5.8" dy="-3.3">2</tspan></text>
<text x="121.2" y="490.2" font-size="8.4" text-anchor="middle" fill="#222" stroke="#222" stroke-width="0.235" font-weight="normal" >10<tspan font-size="5.8" dy="-3.3">3</tspan></text>
<text x="148.0" y="490.2" font-size="8.4" text-anchor="middle" fill="#222" stroke="#222" stroke-width="0.235" font-weight="normal" >10<tspan font-size="5.8" dy="-3.3">4</tspan></text>
<text x="174.2" y="490.2" font-size="8.4" text-anchor="middle" fill="#222" stroke="#222" stroke-width="0.235" font-weight="normal" >10<tspan font-size="5.8" dy="-3.3">5</tspan></text>
<path d="M5,498 L5,481 M5,498 L24,498" stroke="#222" stroke-width="0.8" fill="none"/>
<path d="M3.3,482.5 L5,478.5 L6.7,482.5 Z" fill="#222"/>
<path d="M23,496.3 L27,498 L23,499.7 Z" fill="#222"/>
<text x="31.5" y="501" font-size="8.8" text-anchor="start" fill="#222" stroke="#222" stroke-width="0.246" font-weight="normal" >MGT#1-mVenus</text>
<text x="8.5" y="448" font-size="8.6" text-anchor="middle" fill="#222" stroke="#222" stroke-width="0.241" font-weight="normal" transform="rotate(-90 8.5 448)">% of total</text>
<path d="M18.599999999999998,438.5 Q21.9,436.2 25.4,438 Q28.9,436.1 32.199999999999996,438.5 Q30.599999999999998,443 31.0,447.6 Q25.4,450.2 19.799999999999997,447.6 Q20.2,443 18.599999999999998,438.5 Z" fill="#cdcdcd" stroke="#7a7a7a" stroke-width="0.6"/>
<circle cx="25.4" cy="444.4" r="2.1" fill="#b5b5b5" stroke="#666" stroke-width="0.5"/>
<path d="M18.599999999999998,462.0 Q21.9,459.7 25.4,461.5 Q28.9,459.6 32.199999999999996,462.0 Q30.599999999999998,466.5 31.0,471.1 Q25.4,473.7 19.799999999999997,471.1 Q20.2,466.5 18.599999999999998,462.0 Z" fill="#cdcdcd" stroke="#7a7a7a" stroke-width="0.6"/>
<circle cx="25.4" cy="467.9" r="2.1" fill="#b5b5b5" stroke="#666" stroke-width="0.5"/>
<text x="9.6" y="527" font-size="10.6" text-anchor="start" fill="#111" stroke="#111" stroke-width="0" font-weight="bold" >H</text>
<rect x="140" y="654.8" width="345" height="5.6" fill="#f2f2f2"/>
<rect x="140" y="666.0" width="345" height="5.6" fill="#f2f2f2"/>
<rect x="140" y="677.2" width="345" height="5.6" fill="#f2f2f2"/>
<rect x="140" y="688.4" width="345" height="5.6" fill="#f2f2f2"/>
<rect x="150.0" y="533.3" width="10" height="115.3" fill="#a9a9ab"/>
<text x="155.0" y="531.3" font-size="8.4" text-anchor="middle" fill="#222" stroke="#222" stroke-width="0.235" font-weight="normal" >68</text>
<circle cx="155.0" cy="652.0" r="1.2" fill="#e0e0e0"/>
<circle cx="155.0" cy="657.6" r="1.2" fill="#e0e0e0"/>
<circle cx="155.0" cy="663.2" r="1.2" fill="#e0e0e0"/>
<circle cx="155.0" cy="668.8" r="1.2" fill="#e0e0e0"/>
<circle cx="155.0" cy="674.4" r="1.2" fill="#e0e0e0"/>
<circle cx="155.0" cy="680.0" r="1.2" fill="#e0e0e0"/>
<circle cx="155.0" cy="685.6" r="1.2" fill="#e0e0e0"/>
<circle cx="155.0" cy="691.2" r="1.2" fill="#e0e0e0"/>
<line x1="155.0" y1="657.6" x2="155.0" y2="685.6" stroke="#111" stroke-width="1.3" />
<circle cx="155.0" cy="657.6" r="1.5" fill="#111"/>
<circle cx="155.0" cy="685.6" r="1.5" fill="#111"/>
<rect x="166.5" y="592.7" width="10" height="55.9" fill="#a9a9ab"/>
<text x="171.5" y="590.7" font-size="8.4" text-anchor="middle" fill="#222" stroke="#222" stroke-width="0.235" font-weight="normal" >33</text>
<circle cx="171.5" cy="652.0" r="1.2" fill="#e0e0e0"/>
<circle cx="171.5" cy="657.6" r="1.2" fill="#e0e0e0"/>
<circle cx="171.5" cy="663.2" r="1.2" fill="#e0e0e0"/>
<circle cx="171.5" cy="668.8" r="1.2" fill="#e0e0e0"/>
<circle cx="171.5" cy="674.4" r="1.2" fill="#e0e0e0"/>
<circle cx="171.5" cy="680.0" r="1.2" fill="#e0e0e0"/>
<circle cx="171.5" cy="685.6" r="1.2" fill="#e0e0e0"/>
<circle cx="171.5" cy="691.2" r="1.2" fill="#e0e0e0"/>
<line x1="171.5" y1="663.2" x2="171.5" y2="691.2" stroke="#111" stroke-width="1.3" />
<circle cx="171.5" cy="663.2" r="1.5" fill="#111"/>
<circle cx="171.5" cy="691.2" r="1.5" fill="#111"/>
<rect x="183.0" y="599.4" width="10" height="49.2" fill="#a9a9ab"/>
<text x="188.0" y="597.4" font-size="8.4" text-anchor="middle" fill="#222" stroke="#222" stroke-width="0.235" font-weight="normal" >29</text>
<circle cx="188.0" cy="652.0" r="1.2" fill="#e0e0e0"/>
<circle cx="188.0" cy="657.6" r="1.2" fill="#e0e0e0"/>
<circle cx="188.0" cy="663.2" r="1.2" fill="#e0e0e0"/>
<circle cx="188.0" cy="668.8" r="1.2" fill="#e0e0e0"/>
<circle cx="188.0" cy="674.4" r="1.2" fill="#e0e0e0"/>
<circle cx="188.0" cy="680.0" r="1.2" fill="#e0e0e0"/>
<circle cx="188.0" cy="685.6" r="1.2" fill="#e0e0e0"/>
<circle cx="188.0" cy="691.2" r="1.2" fill="#e0e0e0"/>
<line x1="188.0" y1="652.0" x2="188.0" y2="674.4" stroke="#111" stroke-width="1.3" />
<circle cx="188.0" cy="652.0" r="1.5" fill="#111"/>
<circle cx="188.0" cy="674.4" r="1.5" fill="#111"/>
<rect x="199.5" y="613.0" width="10" height="35.6" fill="#a9a9ab"/>
<text x="204.5" y="611.0" font-size="8.4" text-anchor="middle" fill="#222" stroke="#222" stroke-width="0.235" font-weight="normal" >21</text>
<circle cx="204.5" cy="652.0" r="1.2" fill="#e0e0e0"/>
<circle cx="204.5" cy="657.6" r="1.2" fill="#e0e0e0"/>
<circle cx="204.5" cy="663.2" r="1.2" fill="#e0e0e0"/>
<circle cx="204.5" cy="668.8" r="1.2" fill="#e0e0e0"/>
<circle cx="204.5" cy="674.4" r="1.2" fill="#e0e0e0"/>
<circle cx="204.5" cy="680.0" r="1.2" fill="#e0e0e0"/>
<circle cx="204.5" cy="685.6" r="1.2" fill="#e0e0e0"/>
<circle cx="204.5" cy="691.2" r="1.2" fill="#e0e0e0"/>
<line x1="204.5" y1="680.0" x2="204.5" y2="691.2" stroke="#111" stroke-width="1.3" />
<circle cx="204.5" cy="680.0" r="1.5" fill="#111"/>
<circle cx="204.5" cy="691.2" r="1.5" fill="#111"/>
<rect x="216.0" y="614.7" width="10" height="33.9" fill="#a9a9ab"/>
<text x="221.0" y="612.7" font-size="8.4" text-anchor="middle" fill="#222" stroke="#222" stroke-width="0.235" font-weight="normal" >20</text>
<circle cx="221.0" cy="652.0" r="1.2" fill="#e0e0e0"/>
<circle cx="221.0" cy="657.6" r="1.2" fill="#e0e0e0"/>
<circle cx="221.0" cy="663.2" r="1.2" fill="#e0e0e0"/>
<circle cx="221.0" cy="668.8" r="1.2" fill="#e0e0e0"/>
<circle cx="221.0" cy="674.4" r="1.2" fill="#e0e0e0"/>
<circle cx="221.0" cy="680.0" r="1.2" fill="#e0e0e0"/>
<circle cx="221.0" cy="685.6" r="1.2" fill="#e0e0e0"/>
<circle cx="221.0" cy="691.2" r="1.2" fill="#e0e0e0"/>
<line x1="221.0" y1="668.8" x2="221.0" y2="674.4" stroke="#111" stroke-width="1.3" />
<circle cx="221.0" cy="668.8" r="1.5" fill="#111"/>
<circle cx="221.0" cy="674.4" r="1.5" fill="#111"/>
<rect x="232.5" y="614.7" width="10" height="33.9" fill="#a9a9ab"/>
<text x="237.5" y="612.7" font-size="8.4" text-anchor="middle" fill="#222" stroke="#222" stroke-width="0.235" font-weight="normal" >20</text>
<circle cx="237.5" cy="652.0" r="1.2" fill="#e0e0e0"/>
<circle cx="237.5" cy="657.6" r="1.2" fill="#e0e0e0"/>
<circle cx="237.5" cy="663.2" r="1.2" fill="#e0e0e0"/>
<circle cx="237.5" cy="668.8" r="1.2" fill="#e0e0e0"/>
<circle cx="237.5" cy="674.4" r="1.2" fill="#e0e0e0"/>
<circle cx="237.5" cy="680.0" r="1.2" fill="#e0e0e0"/>
<circle cx="237.5" cy="685.6" r="1.2" fill="#e0e0e0"/>
<circle cx="237.5" cy="691.2" r="1.2" fill="#e0e0e0"/>
<line x1="237.5" y1="685.6" x2="237.5" y2="691.2" stroke="#111" stroke-width="1.3" />
<circle cx="237.5" cy="685.6" r="1.5" fill="#111"/>
<circle cx="237.5" cy="691.2" r="1.5" fill="#111"/>
<rect x="249.0" y="621.5" width="10" height="27.1" fill="#a9a9ab"/>
<text x="254.0" y="619.5" font-size="8.4" text-anchor="middle" fill="#222" stroke="#222" stroke-width="0.235" font-weight="normal" >16</text>
<circle cx="254.0" cy="652.0" r="1.2" fill="#e0e0e0"/>
<circle cx="254.0" cy="657.6" r="1.2" fill="#e0e0e0"/>
<circle cx="254.0" cy="663.2" r="1.2" fill="#e0e0e0"/>
<circle cx="254.0" cy="668.8" r="1.2" fill="#e0e0e0"/>
<circle cx="254.0" cy="674.4" r="1.2" fill="#e0e0e0"/>
<circle cx="254.0" cy="680.0" r="1.2" fill="#e0e0e0"/>
<circle cx="254.0" cy="685.6" r="1.2" fill="#e0e0e0"/>
<circle cx="254.0" cy="691.2" r="1.2" fill="#e0e0e0"/>
<line x1="254.0" y1="663.2" x2="254.0" y2="691.2" stroke="#111" stroke-width="1.3" />
<circle cx="254.0" cy="663.2" r="1.5" fill="#111"/>
<circle cx="254.0" cy="680.0" r="1.5" fill="#111"/>
<circle cx="254.0" cy="691.2" r="1.5" fill="#111"/>
<rect x="265.5" y="626.6" width="10" height="22.0" fill="#a9a9ab"/>
<text x="270.5" y="624.6" font-size="8.4" text-anchor="middle" fill="#222" stroke="#222" stroke-width="0.235" font-weight="normal" >13</text>
<circle cx="270.5" cy="652.0" r="1.2" fill="#e0e0e0"/>
<circle cx="270.5" cy="657.6" r="1.2" fill="#e0e0e0"/>
<circle cx="270.5" cy="663.2" r="1.2" fill="#e0e0e0"/>
<circle cx="270.5" cy="668.8" r="1.2" fill="#e0e0e0"/>
<circle cx="270.5" cy="674.4" r="1.2" fill="#e0e0e0"/>
<circle cx="270.5" cy="680.0" r="1.2" fill="#e0e0e0"/>
<circle cx="270.5" cy="685.6" r="1.2" fill="#e0e0e0"/>
<circle cx="270.5" cy="691.2" r="1.2" fill="#e0e0e0"/>
<line x1="270.5" y1="674.4" x2="270.5" y2="680.0" stroke="#111" stroke-width="1.3" />
<circle cx="270.5" cy="674.4" r="1.5" fill="#111"/>
<circle cx="270.5" cy="680.0" r="1.5" fill="#111"/>
<rect x="282.0" y="630.0" width="10" height="18.6" fill="#a9a9ab"/>
<text x="287.0" y="628.0" font-size="8.4" text-anchor="middle" fill="#222" stroke="#222" stroke-width="0.235" font-weight="normal" >11</text>
<circle cx="287.0" cy="652.0" r="1.2" fill="#e0e0e0"/>
<circle cx="287.0" cy="657.6" r="1.2" fill="#e0e0e0"/>
<circle cx="287.0" cy="663.2" r="1.2" fill="#e0e0e0"/>
<circle cx="287.0" cy="668.8" r="1.2" fill="#e0e0e0"/>
<circle cx="287.0" cy="674.4" r="1.2" fill="#e0e0e0"/>
<circle cx="287.0" cy="680.0" r="1.2" fill="#e0e0e0"/>
<circle cx="287.0" cy="685.6" r="1.2" fill="#e0e0e0"/>
<circle cx="287.0" cy="691.2" r="1.2" fill="#e0e0e0"/>
<line x1="287.0" y1="668.8" x2="287.0" y2="691.2" stroke="#111" stroke-width="1.3" />
<circle cx="287.0" cy="668.8" r="1.5" fill="#111"/>
<circle cx="287.0" cy="691.2" r="1.5" fill="#111"/>
<rect x="298.5" y="630.0" width="10" height="18.6" fill="#a9a9ab"/>
<text x="303.5" y="628.0" font-size="8.4" text-anchor="middle" fill="#222" stroke="#222" stroke-width="0.235" font-weight="normal" >11</text>
<circle cx="303.5" cy="652.0" r="1.2" fill="#e0e0e0"/>
<circle cx="303.5" cy="657.6" r="1.2" fill="#e0e0e0"/>
<circle cx="303.5" cy="663.2" r="1.2" fill="#e0e0e0"/>
<circle cx="303.5" cy="668.8" r="1.2" fill="#e0e0e0"/>
<circle cx="303.5" cy="674.4" r="1.2" fill="#e0e0e0"/>
<circle cx="303.5" cy="680.0" r="1.2" fill="#e0e0e0"/>
<circle cx="303.5" cy="685.6" r="1.2" fill="#e0e0e0"/>
<circle cx="303.5" cy="691.2" r="1.2" fill="#e0e0e0"/>
<line x1="303.5" y1="663.2" x2="303.5" y2="691.2" stroke="#111" stroke-width="1.3" />
<circle cx="303.5" cy="663.2" r="1.5" fill="#111"/>
<circle cx="303.5" cy="685.6" r="1.5" fill="#111"/>
<circle cx="303.5" cy="691.2" r="1.5" fill="#111"/>
<rect x="315.0" y="633.3" width="10" height="15.3" fill="#a9a9ab"/>
<text x="320.0" y="631.3" font-size="8.4" text-anchor="middle" fill="#222" stroke="#222" stroke-width="0.235" font-weight="normal" >9</text>
<circle cx="320.0" cy="652.0" r="1.2" fill="#e0e0e0"/>
<circle cx="320.0" cy="657.6" r="1.2" fill="#e0e0e0"/>
<circle cx="320.0" cy="663.2" r="1.2" fill="#e0e0e0"/>
<circle cx="320.0" cy="668.8" r="1.2" fill="#e0e0e0"/>
<circle cx="320.0" cy="674.4" r="1.2" fill="#e0e0e0"/>
<circle cx="320.0" cy="680.0" r="1.2" fill="#e0e0e0"/>
<circle cx="320.0" cy="685.6" r="1.2" fill="#e0e0e0"/>
<circle cx="320.0" cy="691.2" r="1.2" fill="#e0e0e0"/>
<line x1="320.0" y1="668.8" x2="320.0" y2="691.2" stroke="#111" stroke-width="1.3" />
<circle cx="320.0" cy="668.8" r="1.5" fill="#111"/>
<circle cx="320.0" cy="680.0" r="1.5" fill="#111"/>
<circle cx="320.0" cy="691.2" r="1.5" fill="#111"/>
<rect x="331.5" y="633.3" width="10" height="15.3" fill="#a9a9ab"/>
<text x="336.5" y="631.3" font-size="8.4" text-anchor="middle" fill="#222" stroke="#222" stroke-width="0.235" font-weight="normal" >9</text>
<circle cx="336.5" cy="652.0" r="1.2" fill="#e0e0e0"/>
<circle cx="336.5" cy="657.6" r="1.2" fill="#e0e0e0"/>
<circle cx="336.5" cy="663.2" r="1.2" fill="#e0e0e0"/>
<circle cx="336.5" cy="668.8" r="1.2" fill="#e0e0e0"/>
<circle cx="336.5" cy="674.4" r="1.2" fill="#e0e0e0"/>
<circle cx="336.5" cy="680.0" r="1.2" fill="#e0e0e0"/>
<circle cx="336.5" cy="685.6" r="1.2" fill="#e0e0e0"/>
<circle cx="336.5" cy="691.2" r="1.2" fill="#e0e0e0"/>
<line x1="336.5" y1="680.0" x2="336.5" y2="691.2" stroke="#111" stroke-width="1.3" />
<circle cx="336.5" cy="680.0" r="1.5" fill="#111"/>
<circle cx="336.5" cy="685.6" r="1.5" fill="#111"/>
<circle cx="336.5" cy="691.2" r="1.5" fill="#111"/>
<rect x="348.0" y="635.0" width="10" height="13.6" fill="#a9a9ab"/>
<text x="353.0" y="633.0" font-size="8.4" text-anchor="middle" fill="#222" stroke="#222" stroke-width="0.235" font-weight="normal" >8</text>
<circle cx="353.0" cy="652.0" r="1.2" fill="#e0e0e0"/>
<circle cx="353.0" cy="657.6" r="1.2" fill="#e0e0e0"/>
<circle cx="353.0" cy="663.2" r="1.2" fill="#e0e0e0"/>
<circle cx="353.0" cy="668.8" r="1.2" fill="#e0e0e0"/>
<circle cx="353.0" cy="674.4" r="1.2" fill="#e0e0e0"/>
<circle cx="353.0" cy="680.0" r="1.2" fill="#e0e0e0"/>
<circle cx="353.0" cy="685.6" r="1.2" fill="#e0e0e0"/>
<circle cx="353.0" cy="691.2" r="1.2" fill="#e0e0e0"/>
<line x1="353.0" y1="668.8" x2="353.0" y2="685.6" stroke="#111" stroke-width="1.3" />
<circle cx="353.0" cy="668.8" r="1.5" fill="#111"/>
<circle cx="353.0" cy="685.6" r="1.5" fill="#111"/>
<rect x="364.5" y="636.7" width="10" height="11.9" fill="#a9a9ab"/>
<text x="369.5" y="634.7" font-size="8.4" text-anchor="middle" fill="#222" stroke="#222" stroke-width="0.235" font-weight="normal" >7</text>
<circle cx="369.5" cy="652.0" r="1.2" fill="#e0e0e0"/>
<circle cx="369.5" cy="657.6" r="1.2" fill="#e0e0e0"/>
<circle cx="369.5" cy="663.2" r="1.2" fill="#e0e0e0"/>
<circle cx="369.5" cy="668.8" r="1.2" fill="#e0e0e0"/>
<circle cx="369.5" cy="674.4" r="1.2" fill="#e0e0e0"/>
<circle cx="369.5" cy="680.0" r="1.2" fill="#e0e0e0"/>
<circle cx="369.5" cy="685.6" r="1.2" fill="#e0e0e0"/>
<circle cx="369.5" cy="691.2" r="1.2" fill="#e0e0e0"/>
<line x1="369.5" y1="674.4" x2="369.5" y2="691.2" stroke="#111" stroke-width="1.3" />
<circle cx="369.5" cy="674.4" r="1.5" fill="#111"/>
<circle cx="369.5" cy="691.2" r="1.5" fill="#111"/>
<rect x="381.0" y="636.7" width="10" height="11.9" fill="#a9a9ab"/>
<text x="386.0" y="634.7" font-size="8.4" text-anchor="middle" fill="#222" stroke="#222" stroke-width="0.235" font-weight="normal" >7</text>
<circle cx="386.0" cy="652.0" r="1.2" fill="#e0e0e0"/>
<circle cx="386.0" cy="657.6" r="1.2" fill="#e0e0e0"/>
<circle cx="386.0" cy="663.2" r="1.2" fill="#e0e0e0"/>
<circle cx="386.0" cy="668.8" r="1.2" fill="#e0e0e0"/>
<circle cx="386.0" cy="674.4" r="1.2" fill="#e0e0e0"/>
<circle cx="386.0" cy="680.0" r="1.2" fill="#e0e0e0"/>
<circle cx="386.0" cy="685.6" r="1.2" fill="#e0e0e0"/>
<circle cx="386.0" cy="691.2" r="1.2" fill="#e0e0e0"/>
<line x1="386.0" y1="674.4" x2="386.0" y2="691.2" stroke="#111" stroke-width="1.3" />
<circle cx="386.0" cy="674.4" r="1.5" fill="#111"/>
<circle cx="386.0" cy="680.0" r="1.5" fill="#111"/>
<circle cx="386.0" cy="685.6" r="1.5" fill="#111"/>
<circle cx="386.0" cy="691.2" r="1.5" fill="#111"/>
<rect x="397.5" y="638.4" width="10" height="10.2" fill="#a9a9ab"/>
<text x="402.5" y="636.4" font-size="8.4" text-anchor="middle" fill="#222" stroke="#222" stroke-width="0.235" font-weight="normal" >6</text>
<circle cx="402.5" cy="652.0" r="1.2" fill="#e0e0e0"/>
<circle cx="402.5" cy="657.6" r="1.2" fill="#e0e0e0"/>
<circle cx="402.5" cy="663.2" r="1.2" fill="#e0e0e0"/>
<circle cx="402.5" cy="668.8" r="1.2" fill="#e0e0e0"/>
<circle cx="402.5" cy="674.4" r="1.2" fill="#e0e0e0"/>
<circle cx="402.5" cy="680.0" r="1.2" fill="#e0e0e0"/>
<circle cx="402.5" cy="685.6" r="1.2" fill="#e0e0e0"/>
<circle cx="402.5" cy="691.2" r="1.2" fill="#e0e0e0"/>
<line x1="402.5" y1="663.2" x2="402.5" y2="668.8" stroke="#111" stroke-width="1.3" />
<circle cx="402.5" cy="663.2" r="1.5" fill="#111"/>
<circle cx="402.5" cy="668.8" r="1.5" fill="#111"/>
<rect x="414.0" y="638.4" width="10" height="10.2" fill="#a9a9ab"/>
<text x="419.0" y="636.4" font-size="8.4" text-anchor="middle" fill="#222" stroke="#222" stroke-width="0.235" font-weight="normal" >6</text>
<circle cx="419.0" cy="652.0" r="1.2" fill="#e0e0e0"/>
<circle cx="419.0" cy="657.6" r="1.2" fill="#e0e0e0"/>
<circle cx="419.0" cy="663.2" r="1.2" fill="#e0e0e0"/>
<circle cx="419.0" cy="668.8" r="1.2" fill="#e0e0e0"/>
<circle cx="419.0" cy="674.4" r="1.2" fill="#e0e0e0"/>
<circle cx="419.0" cy="680.0" r="1.2" fill="#e0e0e0"/>
<circle cx="419.0" cy="685.6" r="1.2" fill="#e0e0e0"/>
<circle cx="419.0" cy="691.2" r="1.2" fill="#e0e0e0"/>
<line x1="419.0" y1="668.8" x2="419.0" y2="680.0" stroke="#111" stroke-width="1.3" />
<circle cx="419.0" cy="668.8" r="1.5" fill="#111"/>
<circle cx="419.0" cy="680.0" r="1.5" fill="#111"/>
<rect x="430.5" y="638.4" width="10" height="10.2" fill="#a9a9ab"/>
<text x="435.5" y="636.4" font-size="8.4" text-anchor="middle" fill="#222" stroke="#222" stroke-width="0.235" font-weight="normal" >6</text>
<circle cx="435.5" cy="652.0" r="1.2" fill="#e0e0e0"/>
<circle cx="435.5" cy="657.6" r="1.2" fill="#e0e0e0"/>
<circle cx="435.5" cy="663.2" r="1.2" fill="#e0e0e0"/>
<circle cx="435.5" cy="668.8" r="1.2" fill="#e0e0e0"/>
<circle cx="435.5" cy="674.4" r="1.2" fill="#e0e0e0"/>
<circle cx="435.5" cy="680.0" r="1.2" fill="#e0e0e0"/>
<circle cx="435.5" cy="685.6" r="1.2" fill="#e0e0e0"/>
<circle cx="435.5" cy="691.2" r="1.2" fill="#e0e0e0"/>
<line x1="435.5" y1="680.0" x2="435.5" y2="685.6" stroke="#111" stroke-width="1.3" />
<circle cx="435.5" cy="680.0" r="1.5" fill="#111"/>
<circle cx="435.5" cy="685.6" r="1.5" fill="#111"/>
<rect x="447.0" y="640.1" width="10" height="8.5" fill="#a9a9ab"/>
<text x="452.0" y="638.1" font-size="8.4" text-anchor="middle" fill="#222" stroke="#222" stroke-width="0.235" font-weight="normal" >5</text>
<circle cx="452.0" cy="652.0" r="1.2" fill="#e0e0e0"/>
<circle cx="452.0" cy="657.6" r="1.2" fill="#e0e0e0"/>
<circle cx="452.0" cy="663.2" r="1.2" fill="#e0e0e0"/>
<circle cx="452.0" cy="668.8" r="1.2" fill="#e0e0e0"/>
<circle cx="452.0" cy="674.4" r="1.2" fill="#e0e0e0"/>
<circle cx="452.0" cy="680.0" r="1.2" fill="#e0e0e0"/>
<circle cx="452.0" cy="685.6" r="1.2" fill="#e0e0e0"/>
<circle cx="452.0" cy="691.2" r="1.2" fill="#e0e0e0"/>
<line x1="452.0" y1="652.0" x2="452.0" y2="674.4" stroke="#111" stroke-width="1.3" />
<circle cx="452.0" cy="652.0" r="1.5" fill="#111"/>
<circle cx="452.0" cy="668.8" r="1.5" fill="#111"/>
<circle cx="452.0" cy="674.4" r="1.5" fill="#111"/>
<rect x="463.5" y="640.1" width="10" height="8.5" fill="#a9a9ab"/>
<text x="468.5" y="638.1" font-size="8.4" text-anchor="middle" fill="#222" stroke="#222" stroke-width="0.235" font-weight="normal" >5</text>
<circle cx="468.5" cy="652.0" r="1.2" fill="#e0e0e0"/>
<circle cx="468.5" cy="657.6" r="1.2" fill="#e0e0e0"/>
<circle cx="468.5" cy="663.2" r="1.2" fill="#e0e0e0"/>
<circle cx="468.5" cy="668.8" r="1.2" fill="#e0e0e0"/>
<circle cx="468.5" cy="674.4" r="1.2" fill="#e0e0e0"/>
<circle cx="468.5" cy="680.0" r="1.2" fill="#e0e0e0"/>
<circle cx="468.5" cy="685.6" r="1.2" fill="#e0e0e0"/>
<circle cx="468.5" cy="691.2" r="1.2" fill="#e0e0e0"/>
<line x1="468.5" y1="657.6" x2="468.5" y2="685.6" stroke="#111" stroke-width="1.3" />
<circle cx="468.5" cy="657.6" r="1.5" fill="#111"/>
<circle cx="468.5" cy="668.8" r="1.5" fill="#111"/>
<circle cx="468.5" cy="685.6" r="1.5" fill="#111"/>
<line x1="138.5" y1="514.5" x2="138.5" y2="649.1" stroke="#333" stroke-width="0.9" />
<line x1="138.5" y1="649.0" x2="485" y2="649.0" stroke="#555" stroke-width="1.2" />
<line x1="135.8" y1="648.6" x2="138.5" y2="648.6" stroke="#333" stroke-width="0.7" />
<text x="134.5" y="651.8" font-size="8.8" text-anchor="end" fill="#222" stroke="#222" stroke-width="0.246" font-weight="normal" >0</text>
<line x1="135.8" y1="614.7" x2="138.5" y2="614.7" stroke="#333" stroke-width="0.7" />
<text x="134.5" y="617.9" font-size="8.8" text-anchor="end" fill="#222" stroke="#222" stroke-width="0.246" font-weight="normal" >20</text>
<line x1="135.8" y1="580.8" x2="138.5" y2="580.8" stroke="#333" stroke-width="0.7" />
<text x="134.5" y="584.0" font-size="8.8" text-anchor="end" fill="#222" stroke="#222" stroke-width="0.246" font-weight="normal" >40</text>
<line x1="135.8" y1="546.9" x2="138.5" y2="546.9" stroke="#333" stroke-width="0.7" />
<text x="134.5" y="550.1" font-size="8.8" text-anchor="end" fill="#222" stroke="#222" stroke-width="0.246" font-weight="normal" >60</text>
<text x="0" y="0" font-size="9.4" text-anchor="middle" fill="#222" stroke="#222" stroke-width="0.263" font-weight="normal" transform="translate(116.4 581.5) rotate(-90)">Intersection size</text>
<rect x="82.4" y="650.8" width="27.6" height="2.4" fill="#a6a6a8"/>
<text x="113" y="654.1" font-size="5.9" text-anchor="start" fill="#1a1a1a" stroke="#1a1a1a" stroke-width="0.1" font-weight="normal" >OxLDL</text>
<rect x="68.8" y="656.4" width="41.2" height="2.4" fill="#a6a6a8"/>
<text x="113" y="659.7" font-size="5.9" text-anchor="start" fill="#1a1a1a" stroke="#1a1a1a" stroke-width="0.1" font-weight="normal" >Activin A</text>
<rect x="66.5" y="662.0" width="43.5" height="2.4" fill="#a6a6a8"/>
<text x="113" y="665.3" font-size="5.9" text-anchor="start" fill="#1a1a1a" stroke="#1a1a1a" stroke-width="0.1" font-weight="normal" >IR</text>
<rect x="63.7" y="667.6" width="46.3" height="2.4" fill="#a6a6a8"/>
<text x="113" y="670.9" font-size="5.9" text-anchor="start" fill="#1a1a1a" stroke="#1a1a1a" stroke-width="0.1" font-weight="normal" >NOC-18</text>
<rect x="54.3" y="673.2" width="55.7" height="2.4" fill="#a6a6a8"/>
<text x="113" y="676.5" font-size="5.9" text-anchor="start" fill="#1a1a1a" stroke="#1a1a1a" stroke-width="0.1" font-weight="normal" >C20 hMG</text>
<rect x="50.6" y="678.8" width="59.4" height="2.4" fill="#a6a6a8"/>
<text x="113" y="682.1" font-size="5.9" text-anchor="start" fill="#1a1a1a" stroke="#1a1a1a" stroke-width="0.1" font-weight="normal" >TNFα</text>
<rect x="30.0" y="684.4" width="80.0" height="2.4" fill="#a6a6a8"/>
<text x="113" y="687.7" font-size="5.9" text-anchor="start" fill="#1a1a1a" stroke="#1a1a1a" stroke-width="0.1" font-weight="normal" >LIF</text>
<rect x="17.8" y="690.0" width="92.2" height="2.4" fill="#a6a6a8"/>
<text x="113" y="693.3" font-size="5.9" text-anchor="start" fill="#1a1a1a" stroke="#1a1a1a" stroke-width="0.1" font-weight="normal" >HuS</text>
<line x1="14.4" y1="694.2" x2="114" y2="694.2" stroke="#333" stroke-width="0.8" />
<line x1="110.0" y1="694.2" x2="110.0" y2="696.5" stroke="#333" stroke-width="0.7" />
<text x="110.0" y="705.3" font-size="8.8" text-anchor="middle" fill="#222" stroke="#222" stroke-width="0.246" font-weight="normal" >0</text>
<line x1="86.6" y1="694.2" x2="86.6" y2="696.5" stroke="#333" stroke-width="0.7" />
<text x="86.6" y="705.3" font-size="8.8" text-anchor="middle" fill="#222" stroke="#222" stroke-width="0.246" font-weight="normal" >50</text>
<line x1="63.2" y1="694.2" x2="63.2" y2="696.5" stroke="#333" stroke-width="0.7" />
<text x="63.2" y="705.3" font-size="8.8" text-anchor="middle" fill="#222" stroke="#222" stroke-width="0.246" font-weight="normal" >100</text>
<line x1="39.8" y1="694.2" x2="39.8" y2="696.5" stroke="#333" stroke-width="0.7" />
<text x="39.8" y="705.3" font-size="8.8" text-anchor="middle" fill="#222" stroke="#222" stroke-width="0.246" font-weight="normal" >150</text>
<line x1="16.4" y1="694.2" x2="16.4" y2="696.5" stroke="#333" stroke-width="0.7" />
<text x="16.4" y="705.3" font-size="8.8" text-anchor="middle" fill="#222" stroke="#222" stroke-width="0.246" font-weight="normal" >200</text>
<text x="65" y="717.5" font-size="8.8" text-anchor="middle" fill="#222" stroke="#222" stroke-width="0.246" font-weight="normal" >Set size</text>
<text x="270.6" y="443.2" font-size="10.6" text-anchor="start" fill="#111" stroke="#111" stroke-width="0" font-weight="bold" >G</text>
<text x="397" y="443" font-size="8.75" text-anchor="middle" fill="#222" stroke="#222" stroke-width="0.245" font-weight="normal" >UMAP DEG MGT#1 activation</text>
<rect x="287.3" y="446.5" width="219" height="141.7" fill="#f7f7f7" stroke="#777" stroke-width="0.7"/>
<ellipse cx="0" cy="0" rx="32.5" ry="13.5" fill="#d6ebc6" fill-opacity="1" transform="translate(473.5 462.5) rotate(13)"/>
<circle cx="445" cy="452.5" r="1.1" fill="#8fbf7a"/>
<circle cx="488.7" cy="454.5" r="1.1" fill="#8fbf7a"/>
<circle cx="468" cy="461.2" r="1.1" fill="#8fbf7a"/>
<circle cx="452" cy="464.5" r="1.1" fill="#8fbf7a"/>
<circle cx="497" cy="465" r="1.1" fill="#8fbf7a"/>
<circle cx="488.2" cy="473.7" r="1.1" fill="#8fbf7a"/>
<ellipse cx="0" cy="0" rx="12.3" ry="3.9" fill="#f7ccd3" fill-opacity="1" transform="translate(412.3 459.6) rotate(-38)"/>
<circle cx="403.7" cy="466.7" r="1.1" fill="#e898a8"/>
<circle cx="420.5" cy="452.5" r="1.1" fill="#e898a8"/>
<ellipse cx="0" cy="0" rx="18.5" ry="7.2" fill="#a9d9ad" fill-opacity="1" transform="translate(347.3 478.3) rotate(-62)"/>
<circle cx="352.4" cy="466.3" r="1.1" fill="#2c8a48"/>
<circle cx="353.4" cy="479.3" r="1.1" fill="#2c8a48"/>
<circle cx="338.9" cy="488.7" r="1.1" fill="#2c8a48"/>
<ellipse cx="0" cy="0" rx="24.5" ry="5" fill="#dde9f6" fill-opacity="1" transform="translate(466.3 496.5) rotate(0)"/>
<circle cx="448.7" cy="497" r="1.1" fill="#9ab8d8"/>
<circle cx="465" cy="493.7" r="1.1" fill="#9ab8d8"/>
<circle cx="485.7" cy="497" r="1.1" fill="#9ab8d8"/>
<ellipse cx="0" cy="0" rx="16" ry="11" fill="#f0a2a2" fill-opacity="1" transform="translate(346.3 524.2) rotate(48)"/>
<circle cx="336" cy="519.4" r="1.1" fill="#b2303a"/>
<circle cx="352.2" cy="518.9" r="1.1" fill="#b2303a"/>
<circle cx="352.7" cy="535.6" r="1.1" fill="#b2303a"/>
<ellipse cx="0" cy="0" rx="18" ry="14" fill="#e3dcec" fill-opacity="1" transform="translate(310.5 542.8) rotate(45)"/>
<circle cx="313.7" cy="531.5" r="1.1" fill="#b4a4c4"/>
<circle cx="297.5" cy="540.4" r="1.1" fill="#b4a4c4"/>
<circle cx="310.4" cy="547.7" r="1.1" fill="#b4a4c4"/>
<circle cx="321" cy="556.3" r="1.1" fill="#b4a4c4"/>
<ellipse cx="0" cy="0" rx="16.5" ry="8" fill="#a9c8ea" fill-opacity="1" transform="translate(403.7 543.2) rotate(8)"/>
<circle cx="390.4" cy="543" r="1.1" fill="#2f5f9f"/>
<circle cx="407.9" cy="538.3" r="1.1" fill="#2f5f9f"/>
<circle cx="414" cy="549" r="1.1" fill="#2f5f9f"/>
<ellipse cx="0" cy="0" rx="14" ry="6" fill="#f7dbae" fill-opacity="1" transform="translate(400 572.5) rotate(72)"/>
<circle cx="395.8" cy="566.8" r="1.1" fill="#e2a860"/>
<circle cx="401" cy="566.6" r="1.1" fill="#e2a860"/>
<circle cx="403.5" cy="578" r="1.1" fill="#e2a860"/>
<ellipse cx="0" cy="0" rx="13.5" ry="4.0" fill="#f7c29c" fill-opacity="1" transform="translate(477.3 540.3) rotate(37)"/>
<circle cx="468.5" cy="533.5" r="1.1" fill="#d8763c"/>
<circle cx="474.5" cy="538" r="1.1" fill="#d8763c"/>
<circle cx="486.5" cy="547.2" r="1.1" fill="#d8763c"/>
<text x="327" y="473" font-size="7.2" text-anchor="middle" fill="#222" stroke="#222" stroke-width="0.202" font-weight="normal" >HuS</text>
<path d="M334.5,470 Q337.5,469.8 339.8,472.6" stroke="#333" stroke-width="0.6" fill="none"/>
<text x="357.5" y="508" font-size="7.2" text-anchor="middle" fill="#222" stroke="#222" stroke-width="0.202" font-weight="normal" >LIF</text>
<path d="M356,510.5 L352,515" stroke="#333" stroke-width="0.6" fill="none"/>
<text x="304" y="567.9" font-size="7.2" text-anchor="middle" fill="#222" stroke="#222" stroke-width="0.202" font-weight="normal" >TNFα</text>
<path d="M302.5,558.2 L300.5,562" stroke="#333" stroke-width="0.6" fill="none"/>
<text x="397" y="526.7" font-size="7.2" text-anchor="middle" fill="#222" stroke="#222" stroke-width="0.202" font-weight="normal" >C20 hMG</text>
<line x1="398" y1="529.5" x2="398" y2="533.8" stroke="#333" stroke-width="0.6" />
<text x="381" y="585.4" font-size="7.2" text-anchor="middle" fill="#222" stroke="#222" stroke-width="0.202" font-weight="normal" >NOC-18</text>
<path d="M392,577 L389.5,580.5" stroke="#333" stroke-width="0.6" fill="none"/>
<text x="420" y="475.3" font-size="7.2" text-anchor="middle" fill="#222" stroke="#222" stroke-width="0.202" font-weight="normal" >IR</text>
<path d="M415.5,464.5 L419,468.5" stroke="#333" stroke-width="0.6" fill="none"/>
<text x="463" y="487.3" font-size="7.2" text-anchor="middle" fill="#222" stroke="#222" stroke-width="0.202" font-weight="normal" >Control</text>
<path d="M465,476.5 L464,481" stroke="#333" stroke-width="0.6" fill="none"/>
<text x="469" y="514.5" font-size="7.2" text-anchor="middle" fill="#222" stroke="#222" stroke-width="0.202" font-weight="normal" >Activin A</text>
<line x1="462.5" y1="502.5" x2="462.5" y2="507" stroke="#333" stroke-width="0.6" />
<text x="474.5" y="557.6" font-size="7.2" text-anchor="middle" fill="#222" stroke="#222" stroke-width="0.202" font-weight="normal" >OxLDL</text>
<path d="M475.5,545.5 L473,549.8" stroke="#333" stroke-width="0.6" fill="none"/>
<line x1="311" y1="588.2" x2="311" y2="590.5" stroke="#333" stroke-width="0.6" />
<text x="311" y="597.8" font-size="8.6" text-anchor="middle" fill="#222" stroke="#222" stroke-width="0.241" font-weight="normal" >−2</text>
<line x1="359.7" y1="588.2" x2="359.7" y2="590.5" stroke="#333" stroke-width="0.6" />
<text x="359.7" y="597.8" font-size="8.6" text-anchor="middle" fill="#222" stroke="#222" stroke-width="0.241" font-weight="normal" >−1</text>
<line x1="408.5" y1="588.2" x2="408.5" y2="590.5" stroke="#333" stroke-width="0.6" />
<text x="408.5" y="597.8" font-size="8.6" text-anchor="middle" fill="#222" stroke="#222" stroke-width="0.241" font-weight="normal" >0</text>
<line x1="457.3" y1="588.2" x2="457.3" y2="590.5" stroke="#333" stroke-width="0.6" />
<text x="457.3" y="597.8" font-size="8.6" text-anchor="middle" fill="#222" stroke="#222" stroke-width="0.241" font-weight="normal" >1</text>
<line x1="506.1" y1="588.2" x2="506.1" y2="590.5" stroke="#333" stroke-width="0.6" />
<text x="506.1" y="597.8" font-size="8.6" text-anchor="middle" fill="#222" stroke="#222" stroke-width="0.241" font-weight="normal" >2</text>
<line x1="285" y1="463.5" x2="287.3" y2="463.5" stroke="#333" stroke-width="0.6" />
<text x="283.3" y="466.5" font-size="8.6" text-anchor="end" fill="#222" stroke="#222" stroke-width="0.241" font-weight="normal" >1</text>
<line x1="285" y1="509.5" x2="287.3" y2="509.5" stroke="#333" stroke-width="0.6" />
<text x="283.3" y="512.5" font-size="8.6" text-anchor="end" fill="#222" stroke="#222" stroke-width="0.241" font-weight="normal" >0</text>
<line x1="285" y1="555.5" x2="287.3" y2="555.5" stroke="#333" stroke-width="0.6" />
<text x="283.3" y="558.5" font-size="8.6" text-anchor="end" fill="#222" stroke="#222" stroke-width="0.241" font-weight="normal" >−1</text>
<text x="397" y="611" font-size="8.6" text-anchor="middle" fill="#222" stroke="#222" stroke-width="0.241" font-weight="normal" >UMAP1</text>
<text x="0" y="0" font-size="8.6" text-anchor="middle" fill="#222" stroke="#222" stroke-width="0.241" font-weight="normal" transform="translate(268.8 517.5) rotate(-90)">UMAP2</text>
<text x="253.2" y="210.5" font-size="10.6" text-anchor="start" fill="#111" stroke="#111" stroke-width="0" font-weight="bold" >E</text>
<text x="302.5" y="217.5" font-size="6.65" text-anchor="middle" fill="#222" stroke="#222" stroke-width="0" font-weight="normal" >Differentially regulated genes</text>
<text x="301.5" y="225.3" font-size="6.65" text-anchor="middle" fill="#222">(<tspan font-style="italic">P</tspan><tspan font-size="4.6" dy="1.6">adj</tspan><tspan dy="-1.6"> &lt; 0.05)</tspan></text>
<rect x="271.2" y="229.6" width="23" height="3.8" fill="#c9c9cf"/>
<rect x="294.2" y="229.6" width="23.8" height="3.8" fill="#22a04a"/>
<rect x="318" y="229.6" width="16.9" height="3.8" fill="#d23a32"/>
<rect x="271.2" y="233.40" width="6.35" height="1.50" fill="#ced3ea"/>
<rect x="277.5" y="233.40" width="5.75" height="1.50" fill="#d8dcef"/>
<rect x="283.2" y="233.40" width="5.65" height="1.50" fill="#e4e6f3"/>
<rect x="288.8" y="233.40" width="5.45" height="1.50" fill="#e1e4f2"/>
<rect x="294.2" y="233.40" width="6.05" height="1.50" fill="#f2f3f9"/>
<rect x="300.2" y="233.40" width="5.95" height="1.50" fill="#fcf1f1"/>
<rect x="306.1" y="233.40" width="5.95" height="1.50" fill="#fdf9f9"/>
<rect x="312.0" y="233.40" width="6.05" height="1.50" fill="#fbfcfd"/>
<rect x="318.0" y="233.40" width="8.55" height="1.50" fill="#fbebeb"/>
<rect x="326.5" y="233.40" width="8.45" height="1.50" fill="#fae9e9"/>
<rect x="271.2" y="234.85" width="6.35" height="1.50" fill="#c8cce7"/>
<rect x="277.5" y="234.85" width="5.75" height="1.50" fill="#cdd1ea"/>
<rect x="283.2" y="234.85" width="5.65" height="1.50" fill="#c1c6e4"/>
<rect x="288.8" y="234.85" width="5.45" height="1.50" fill="#c9cee8"/>
<rect x="294.2" y="234.85" width="6.05" height="1.50" fill="#fbeeee"/>
<rect x="300.2" y="234.85" width="5.95" height="1.50" fill="#f8dfdf"/>
<rect x="306.1" y="234.85" width="5.95" height="1.50" fill="#fcf1f1"/>
<rect x="312.0" y="234.85" width="6.05" height="1.50" fill="#fdfdfe"/>
<rect x="318.0" y="234.85" width="8.55" height="1.50" fill="#f8dddd"/>
<rect x="326.5" y="234.85" width="8.45" height="1.50" fill="#fefafa"/>
<rect x="271.2" y="236.30" width="6.35" height="1.50" fill="#daddef"/>
<rect x="277.5" y="236.30" width="5.75" height="1.50" fill="#e8eaf5"/>
<rect x="283.2" y="236.30" width="5.65" height="1.50" fill="#d9dcef"/>
<rect x="288.8" y="236.30" width="5.45" height="1.50" fill="#eaecf6"/>
<rect x="294.2" y="236.30" width="6.05" height="1.50" fill="#fcf2f2"/>
<rect x="300.2" y="236.30" width="5.95" height="1.50" fill="#fbebeb"/>
<rect x="306.1" y="236.30" width="5.95" height="1.50" fill="#f7f8fb"/>
<rect x="312.0" y="236.30" width="6.05" height="1.50" fill="#fdf6f6"/>
<rect x="318.0" y="236.30" width="8.55" height="1.50" fill="#fafbfd"/>
<rect x="326.5" y="236.30" width="8.45" height="1.50" fill="#eaecf6"/>
<rect x="271.2" y="237.75" width="6.35" height="1.50" fill="#a4abd8"/>
<rect x="277.5" y="237.75" width="5.75" height="1.50" fill="#cdd1ea"/>
<rect x="283.2" y="237.75" width="5.65" height="1.50" fill="#cacee8"/>
<rect x="288.8" y="237.75" width="5.45" height="1.50" fill="#bec4e4"/>
<rect x="294.2" y="237.75" width="6.05" height="1.50" fill="#f9e3e3"/>
<rect x="300.2" y="237.75" width="5.95" height="1.50" fill="#f0f1f8"/>
<rect x="306.1" y="237.75" width="5.95" height="1.50" fill="#fdfdfe"/>
<rect x="312.0" y="237.75" width="6.05" height="1.50" fill="#fefbfb"/>
<rect x="318.0" y="237.75" width="8.55" height="1.50" fill="#f6d6d6"/>
<rect x="326.5" y="237.75" width="8.45" height="1.50" fill="#f4cccc"/>
<rect x="271.2" y="239.20" width="6.35" height="1.50" fill="#929bd1"/>
<rect x="277.5" y="239.20" width="5.75" height="1.50" fill="#adb4dc"/>
<rect x="283.2" y="239.20" width="5.65" height="1.50" fill="#abb2db"/>
<rect x="288.8" y="239.20" width="5.45" height="1.50" fill="#b1b8de"/>
<rect x="294.2" y="239.20" width="6.05" height="1.50" fill="#fcf2f2"/>
<rect x="300.2" y="239.20" width="5.95" height="1.50" fill="#f8f8fc"/>
<rect x="306.1" y="239.20" width="5.95" height="1.50" fill="#fdf7f7"/>
<rect x="312.0" y="239.20" width="6.05" height="1.50" fill="#fdf7f7"/>
<rect x="318.0" y="239.20" width="8.55" height="1.50" fill="#eda4a4"/>
<rect x="326.5" y="239.20" width="8.45" height="1.50" fill="#f6d1d1"/>
<rect x="271.2" y="240.65" width="6.35" height="1.50" fill="#cacee8"/>
<rect x="277.5" y="240.65" width="5.75" height="1.50" fill="#e0e2f2"/>
<rect x="283.2" y="240.65" width="5.65" height="1.50" fill="#d3d6ec"/>
<rect x="288.8" y="240.65" width="5.45" height="1.50" fill="#e4e6f3"/>
<rect x="294.2" y="240.65" width="6.05" height="1.50" fill="#f8dddd"/>
<rect x="300.2" y="240.65" width="5.95" height="1.50" fill="#fdfdfe"/>
<rect x="306.1" y="240.65" width="5.95" height="1.50" fill="#eaecf6"/>
<rect x="312.0" y="240.65" width="6.05" height="1.50" fill="#fdfdfe"/>
<rect x="318.0" y="240.65" width="8.55" height="1.50" fill="#f5d1d1"/>
<rect x="326.5" y="240.65" width="8.45" height="1.50" fill="#fcf3f3"/>
<rect x="271.2" y="242.10" width="6.35" height="1.50" fill="#a2aad8"/>
<rect x="277.5" y="242.10" width="5.75" height="1.50" fill="#adb4dc"/>
<rect x="283.2" y="242.10" width="5.65" height="1.50" fill="#bcc2e3"/>
<rect x="288.8" y="242.10" width="5.45" height="1.50" fill="#cdd1ea"/>
<rect x="294.2" y="242.10" width="6.05" height="1.50" fill="#f4caca"/>
<rect x="300.2" y="242.10" width="5.95" height="1.50" fill="#fdf6f6"/>
<rect x="306.1" y="242.10" width="5.95" height="1.50" fill="#f6f7fb"/>
<rect x="312.0" y="242.10" width="6.05" height="1.50" fill="#fefdfd"/>
<rect x="318.0" y="242.10" width="8.55" height="1.50" fill="#f7dada"/>
<rect x="326.5" y="242.10" width="8.45" height="1.50" fill="#f2c1c1"/>
<rect x="271.2" y="243.55" width="6.35" height="1.50" fill="#ced2ea"/>
<rect x="277.5" y="243.55" width="5.75" height="1.50" fill="#daddef"/>
<rect x="283.2" y="243.55" width="5.65" height="1.50" fill="#cdd1ea"/>
<rect x="288.8" y="243.55" width="5.45" height="1.50" fill="#d3d7ec"/>
<rect x="294.2" y="243.55" width="6.05" height="1.50" fill="#eceef7"/>
<rect x="300.2" y="243.55" width="5.95" height="1.50" fill="#eff0f8"/>
<rect x="306.1" y="243.55" width="5.95" height="1.50" fill="#f6f7fb"/>
<rect x="312.0" y="243.55" width="6.05" height="1.50" fill="#fdf9f9"/>
<rect x="318.0" y="243.55" width="8.55" height="1.50" fill="#f8dede"/>
<rect x="326.5" y="243.55" width="8.45" height="1.50" fill="#fae7e7"/>
<rect x="271.2" y="245.00" width="6.35" height="1.50" fill="#c3c8e6"/>
<rect x="277.5" y="245.00" width="5.75" height="1.50" fill="#d0d4eb"/>
<rect x="283.2" y="245.00" width="5.65" height="1.50" fill="#d8dbee"/>
<rect x="288.8" y="245.00" width="5.45" height="1.50" fill="#cfd3eb"/>
<rect x="294.2" y="245.00" width="6.05" height="1.50" fill="#fafbfd"/>
<rect x="300.2" y="245.00" width="5.95" height="1.50" fill="#fcf2f2"/>
<rect x="306.1" y="245.00" width="5.95" height="1.50" fill="#fdf9f9"/>
<rect x="312.0" y="245.00" width="6.05" height="1.50" fill="#fbeded"/>
<rect x="318.0" y="245.00" width="8.55" height="1.50" fill="#fbeaea"/>
<rect x="326.5" y="245.00" width="8.45" height="1.50" fill="#f3c4c4"/>
<rect x="271.2" y="246.45" width="6.35" height="1.50" fill="#e2e5f3"/>
<rect x="277.5" y="246.45" width="5.75" height="1.50" fill="#cdd1ea"/>
<rect x="283.2" y="246.45" width="5.65" height="1.50" fill="#cdd1ea"/>
<rect x="288.8" y="246.45" width="5.45" height="1.50" fill="#c4c9e6"/>
<rect x="294.2" y="246.45" width="6.05" height="1.50" fill="#fdf8f8"/>
<rect x="300.2" y="246.45" width="5.95" height="1.50" fill="#faeaea"/>
<rect x="306.1" y="246.45" width="5.95" height="1.50" fill="#fcf3f3"/>
<rect x="312.0" y="246.45" width="6.05" height="1.50" fill="#fdf5f5"/>
<rect x="318.0" y="246.45" width="8.55" height="1.50" fill="#eeeff7"/>
<rect x="326.5" y="246.45" width="8.45" height="1.50" fill="#f7dbdb"/>
<rect x="271.2" y="247.90" width="6.35" height="1.50" fill="#939cd1"/>
<rect x="277.5" y="247.90" width="5.75" height="1.50" fill="#a8afda"/>
<rect x="283.2" y="247.90" width="5.65" height="1.50" fill="#b1b7de"/>
<rect x="288.8" y="247.90" width="5.45" height="1.50" fill="#d4d8ed"/>
<rect x="294.2" y="247.90" width="6.05" height="1.50" fill="#d9dcef"/>
<rect x="300.2" y="247.90" width="5.95" height="1.50" fill="#e2e5f3"/>
<rect x="306.1" y="247.90" width="5.95" height="1.50" fill="#fcfcfd"/>
<rect x="312.0" y="247.90" width="6.05" height="1.50" fill="#d7daee"/>
<rect x="318.0" y="247.90" width="8.55" height="1.50" fill="#f2c1c1"/>
<rect x="326.5" y="247.90" width="8.45" height="1.50" fill="#efafaf"/>
<rect x="271.2" y="249.35" width="6.35" height="1.50" fill="#ccd0e9"/>
<rect x="277.5" y="249.35" width="5.75" height="1.50" fill="#c3c9e6"/>
<rect x="283.2" y="249.35" width="5.65" height="1.50" fill="#e1e4f2"/>
<rect x="288.8" y="249.35" width="5.45" height="1.50" fill="#dbdeef"/>
<rect x="294.2" y="249.35" width="6.05" height="1.50" fill="#faeaea"/>
<rect x="300.2" y="249.35" width="5.95" height="1.50" fill="#f7f7fb"/>
<rect x="306.1" y="249.35" width="5.95" height="1.50" fill="#fdf7f7"/>
<rect x="312.0" y="249.35" width="6.05" height="1.50" fill="#daddef"/>
<rect x="318.0" y="249.35" width="8.55" height="1.50" fill="#f8dcdc"/>
<rect x="326.5" y="249.35" width="8.45" height="1.50" fill="#f5d0d0"/>
<rect x="271.2" y="250.80" width="6.35" height="1.50" fill="#6471be"/>
<rect x="277.5" y="250.80" width="5.75" height="1.50" fill="#a7afda"/>
<rect x="283.2" y="250.80" width="5.65" height="1.50" fill="#a1a9d7"/>
<rect x="288.8" y="250.80" width="5.45" height="1.50" fill="#bdc3e3"/>
<rect x="294.2" y="250.80" width="6.05" height="1.50" fill="#ecedf7"/>
<rect x="300.2" y="250.80" width="5.95" height="1.50" fill="#e2e5f3"/>
<rect x="306.1" y="250.80" width="5.95" height="1.50" fill="#daddef"/>
<rect x="312.0" y="250.80" width="6.05" height="1.50" fill="#c1c6e5"/>
<rect x="318.0" y="250.80" width="8.55" height="1.50" fill="#eda5a5"/>
<rect x="326.5" y="250.80" width="8.45" height="1.50" fill="#eb9c9c"/>
<rect x="271.2" y="252.25" width="6.35" height="1.50" fill="#6c79c1"/>
<rect x="277.5" y="252.25" width="5.75" height="1.50" fill="#98a1d3"/>
<rect x="283.2" y="252.25" width="5.65" height="1.50" fill="#7d88c8"/>
<rect x="288.8" y="252.25" width="5.45" height="1.50" fill="#9da6d6"/>
<rect x="294.2" y="252.25" width="6.05" height="1.50" fill="#e4e6f3"/>
<rect x="300.2" y="252.25" width="5.95" height="1.50" fill="#ecedf7"/>
<rect x="306.1" y="252.25" width="5.95" height="1.50" fill="#f5f5fa"/>
<rect x="312.0" y="252.25" width="6.05" height="1.50" fill="#d0d4eb"/>
<rect x="318.0" y="252.25" width="8.55" height="1.50" fill="#efb3b3"/>
<rect x="326.5" y="252.25" width="8.45" height="1.50" fill="#e88d8d"/>
<rect x="271.2" y="253.70" width="6.35" height="1.50" fill="#a3abd8"/>
<rect x="277.5" y="253.70" width="5.75" height="1.50" fill="#a8afda"/>
<rect x="283.2" y="253.70" width="5.65" height="1.50" fill="#c2c7e5"/>
<rect x="288.8" y="253.70" width="5.45" height="1.50" fill="#bec3e3"/>
<rect x="294.2" y="253.70" width="6.05" height="1.50" fill="#f2f4f9"/>
<rect x="300.2" y="253.70" width="5.95" height="1.50" fill="#fbfbfd"/>
<rect x="306.1" y="253.70" width="5.95" height="1.50" fill="#f1f2f9"/>
<rect x="312.0" y="253.70" width="6.05" height="1.50" fill="#e2e4f2"/>
<rect x="318.0" y="253.70" width="8.55" height="1.50" fill="#eb9e9e"/>
<rect x="326.5" y="253.70" width="8.45" height="1.50" fill="#efaeae"/>
<rect x="271.2" y="255.15" width="6.35" height="1.50" fill="#eff0f8"/>
<rect x="277.5" y="255.15" width="5.75" height="1.50" fill="#fafafc"/>
<rect x="283.2" y="255.15" width="5.65" height="1.50" fill="#eff0f8"/>
<rect x="288.8" y="255.15" width="5.45" height="1.50" fill="#fdfdfe"/>
<rect x="294.2" y="255.15" width="6.05" height="1.50" fill="#f8dcdc"/>
<rect x="300.2" y="255.15" width="5.95" height="1.50" fill="#fefdfd"/>
<rect x="306.1" y="255.15" width="5.95" height="1.50" fill="#e6e8f4"/>
<rect x="312.0" y="255.15" width="6.05" height="1.50" fill="#fae9e9"/>
<rect x="318.0" y="255.15" width="8.55" height="1.50" fill="#faeaea"/>
<rect x="326.5" y="255.15" width="8.45" height="1.50" fill="#fdf6f6"/>
<rect x="271.2" y="256.60" width="6.35" height="1.50" fill="#eff0f8"/>
<rect x="277.5" y="256.60" width="5.75" height="1.50" fill="#ccd1e9"/>
<rect x="283.2" y="256.60" width="5.65" height="1.50" fill="#eeeff8"/>
<rect x="288.8" y="256.60" width="5.45" height="1.50" fill="#f0f1f8"/>
<rect x="294.2" y="256.60" width="6.05" height="1.50" fill="#fefcfc"/>
<rect x="300.2" y="256.60" width="5.95" height="1.50" fill="#fbecec"/>
<rect x="306.1" y="256.60" width="5.95" height="1.50" fill="#fefefe"/>
<rect x="312.0" y="256.60" width="6.05" height="1.50" fill="#fcf1f1"/>
<rect x="318.0" y="256.60" width="8.55" height="1.50" fill="#f8dfdf"/>
<rect x="326.5" y="256.60" width="8.45" height="1.50" fill="#f8e0e0"/>
<rect x="271.2" y="258.05" width="6.35" height="1.50" fill="#f4f5fa"/>
<rect x="277.5" y="258.05" width="5.75" height="1.50" fill="#f5f6fb"/>
<rect x="283.2" y="258.05" width="5.65" height="1.50" fill="#e5e7f4"/>
<rect x="288.8" y="258.05" width="5.45" height="1.50" fill="#fcfcfd"/>
<rect x="294.2" y="258.05" width="6.05" height="1.50" fill="#fbefef"/>
<rect x="300.2" y="258.05" width="5.95" height="1.50" fill="#f7d6d6"/>
<rect x="306.1" y="258.05" width="5.95" height="1.50" fill="#e4e6f3"/>
<rect x="312.0" y="258.05" width="6.05" height="1.50" fill="#f9e5e5"/>
<rect x="318.0" y="258.05" width="8.55" height="1.50" fill="#fcf3f3"/>
<rect x="326.5" y="258.05" width="8.45" height="1.50" fill="#fcf0f0"/>
<rect x="271.2" y="259.50" width="6.35" height="1.50" fill="#e0e3f2"/>
<rect x="277.5" y="259.50" width="5.75" height="1.50" fill="#f2f3f9"/>
<rect x="283.2" y="259.50" width="5.65" height="1.50" fill="#daddef"/>
<rect x="288.8" y="259.50" width="5.45" height="1.50" fill="#f5f5fa"/>
<rect x="294.2" y="259.50" width="6.05" height="1.50" fill="#fae8e8"/>
<rect x="300.2" y="259.50" width="5.95" height="1.50" fill="#fdf9f9"/>
<rect x="306.1" y="259.50" width="5.95" height="1.50" fill="#fefefe"/>
<rect x="312.0" y="259.50" width="6.05" height="1.50" fill="#f9e5e5"/>
<rect x="318.0" y="259.50" width="8.55" height="1.50" fill="#f8dede"/>
<rect x="326.5" y="259.50" width="8.45" height="1.50" fill="#fefefe"/>
<rect x="271.2" y="260.95" width="6.35" height="1.50" fill="#dee0f1"/>
<rect x="277.5" y="260.95" width="5.75" height="1.50" fill="#eaebf6"/>
<rect x="283.2" y="260.95" width="5.65" height="1.50" fill="#d2d6ec"/>
<rect x="288.8" y="260.95" width="5.45" height="1.50" fill="#f3f4fa"/>
<rect x="294.2" y="260.95" width="6.05" height="1.50" fill="#f0b3b3"/>
<rect x="300.2" y="260.95" width="5.95" height="1.50" fill="#fefcfc"/>
<rect x="306.1" y="260.95" width="5.95" height="1.50" fill="#e9ebf6"/>
<rect x="312.0" y="260.95" width="6.05" height="1.50" fill="#fae8e8"/>
<rect x="318.0" y="260.95" width="8.55" height="1.50" fill="#f7d9d9"/>
<rect x="326.5" y="260.95" width="8.45" height="1.50" fill="#f7d6d6"/>
<rect x="271.2" y="262.40" width="6.35" height="1.50" fill="#9ea7d6"/>
<rect x="277.5" y="262.40" width="5.75" height="1.50" fill="#b3b9df"/>
<rect x="283.2" y="262.40" width="5.65" height="1.50" fill="#d1d5eb"/>
<rect x="288.8" y="262.40" width="5.45" height="1.50" fill="#e9eaf5"/>
<rect x="294.2" y="262.40" width="6.05" height="1.50" fill="#eda9a9"/>
<rect x="300.2" y="262.40" width="5.95" height="1.50" fill="#f7d8d8"/>
<rect x="306.1" y="262.40" width="5.95" height="1.50" fill="#f4caca"/>
<rect x="312.0" y="262.40" width="6.05" height="1.50" fill="#f0b6b6"/>
<rect x="318.0" y="262.40" width="8.55" height="1.50" fill="#e8eaf5"/>
<rect x="326.5" y="262.40" width="8.45" height="1.50" fill="#eceef7"/>
<rect x="271.2" y="263.85" width="6.35" height="1.50" fill="#a4acd8"/>
<rect x="277.5" y="263.85" width="5.75" height="1.50" fill="#c9cee8"/>
<rect x="283.2" y="263.85" width="5.65" height="1.50" fill="#e0e3f2"/>
<rect x="288.8" y="263.85" width="5.45" height="1.50" fill="#e6e9f4"/>
<rect x="294.2" y="263.85" width="6.05" height="1.50" fill="#f0b8b8"/>
<rect x="300.2" y="263.85" width="5.95" height="1.50" fill="#f6d1d1"/>
<rect x="306.1" y="263.85" width="5.95" height="1.50" fill="#fae5e5"/>
<rect x="312.0" y="263.85" width="6.05" height="1.50" fill="#f8e0e0"/>
<rect x="318.0" y="263.85" width="8.55" height="1.50" fill="#c4c9e6"/>
<rect x="326.5" y="263.85" width="8.45" height="1.50" fill="#f3f4fa"/>
<rect x="271.2" y="265.30" width="6.35" height="1.50" fill="#e5e8f4"/>
<rect x="277.5" y="265.30" width="5.75" height="1.50" fill="#f9fafc"/>
<rect x="283.2" y="265.30" width="5.65" height="1.50" fill="#fcf2f2"/>
<rect x="288.8" y="265.30" width="5.45" height="1.50" fill="#f7f7fb"/>
<rect x="294.2" y="265.30" width="6.05" height="1.50" fill="#f8dfdf"/>
<rect x="300.2" y="265.30" width="5.95" height="1.50" fill="#fdf6f6"/>
<rect x="306.1" y="265.30" width="5.95" height="1.50" fill="#fefdfd"/>
<rect x="312.0" y="265.30" width="6.05" height="1.50" fill="#fefcfc"/>
<rect x="318.0" y="265.30" width="8.55" height="1.50" fill="#fcf4f4"/>
<rect x="326.5" y="265.30" width="8.45" height="1.50" fill="#fdf6f6"/>
<rect x="271.2" y="266.75" width="6.35" height="1.50" fill="#e2e4f2"/>
<rect x="277.5" y="266.75" width="5.75" height="1.50" fill="#d2d6ec"/>
<rect x="283.2" y="266.75" width="5.65" height="1.50" fill="#e7e9f4"/>
<rect x="288.8" y="266.75" width="5.45" height="1.50" fill="#e2e5f3"/>
<rect x="294.2" y="266.75" width="6.05" height="1.50" fill="#f2c0c0"/>
<rect x="300.2" y="266.75" width="5.95" height="1.50" fill="#eda7a7"/>
<rect x="306.1" y="266.75" width="5.95" height="1.50" fill="#f2bdbd"/>
<rect x="312.0" y="266.75" width="6.05" height="1.50" fill="#fae7e7"/>
<rect x="318.0" y="266.75" width="8.55" height="1.50" fill="#cdd1ea"/>
<rect x="326.5" y="266.75" width="8.45" height="1.50" fill="#eff0f8"/>
<rect x="271.2" y="268.20" width="6.35" height="1.50" fill="#99a2d4"/>
<rect x="277.5" y="268.20" width="5.75" height="1.50" fill="#afb6dd"/>
<rect x="283.2" y="268.20" width="5.65" height="1.50" fill="#c0c5e4"/>
<rect x="288.8" y="268.20" width="5.45" height="1.50" fill="#daddef"/>
<rect x="294.2" y="268.20" width="6.05" height="1.50" fill="#f1b9b9"/>
<rect x="300.2" y="268.20" width="5.95" height="1.50" fill="#f2bfbf"/>
<rect x="306.1" y="268.20" width="5.95" height="1.50" fill="#f7dada"/>
<rect x="312.0" y="268.20" width="6.05" height="1.50" fill="#f9e1e1"/>
<rect x="318.0" y="268.20" width="8.55" height="1.50" fill="#b3b9df"/>
<rect x="326.5" y="268.20" width="8.45" height="1.50" fill="#ecedf7"/>
<rect x="271.2" y="269.65" width="6.35" height="1.50" fill="#adb5dc"/>
<rect x="277.5" y="269.65" width="5.75" height="1.50" fill="#eaecf6"/>
<rect x="283.2" y="269.65" width="5.65" height="1.50" fill="#dcdff0"/>
<rect x="288.8" y="269.65" width="5.45" height="1.50" fill="#f2f3f9"/>
<rect x="294.2" y="269.65" width="6.05" height="1.50" fill="#f2c1c1"/>
<rect x="300.2" y="269.65" width="5.95" height="1.50" fill="#f6d3d3"/>
<rect x="306.1" y="269.65" width="5.95" height="1.50" fill="#f8dcdc"/>
<rect x="312.0" y="269.65" width="6.05" height="1.50" fill="#fae7e7"/>
<rect x="318.0" y="269.65" width="8.55" height="1.50" fill="#a0a8d7"/>
<rect x="326.5" y="269.65" width="8.45" height="1.50" fill="#e6e8f4"/>
<rect x="271.2" y="271.10" width="6.35" height="1.50" fill="#9da6d6"/>
<rect x="277.5" y="271.10" width="5.75" height="1.50" fill="#d6d9ed"/>
<rect x="283.2" y="271.10" width="5.65" height="1.50" fill="#e5e7f4"/>
<rect x="288.8" y="271.10" width="5.45" height="1.50" fill="#f8f9fc"/>
<rect x="294.2" y="271.10" width="6.05" height="1.50" fill="#f2c1c1"/>
<rect x="300.2" y="271.10" width="5.95" height="1.50" fill="#f6d3d3"/>
<rect x="306.1" y="271.10" width="5.95" height="1.50" fill="#f8dede"/>
<rect x="312.0" y="271.10" width="6.05" height="1.50" fill="#f9e1e1"/>
<rect x="318.0" y="271.10" width="8.55" height="1.50" fill="#afb6dd"/>
<rect x="326.5" y="271.10" width="8.45" height="1.50" fill="#e3e6f3"/>
<rect x="271.2" y="272.55" width="6.35" height="1.50" fill="#c2c7e5"/>
<rect x="277.5" y="272.55" width="5.75" height="1.50" fill="#eff0f8"/>
<rect x="283.2" y="272.55" width="5.65" height="1.50" fill="#f0f1f8"/>
<rect x="288.8" y="272.55" width="5.45" height="1.50" fill="#d7dbee"/>
<rect x="294.2" y="272.55" width="6.05" height="1.50" fill="#f1bbbb"/>
<rect x="300.2" y="272.55" width="5.95" height="1.50" fill="#f8dede"/>
<rect x="306.1" y="272.55" width="5.95" height="1.50" fill="#f6d3d3"/>
<rect x="312.0" y="272.55" width="6.05" height="1.50" fill="#f8dbdb"/>
<rect x="318.0" y="272.55" width="8.55" height="1.50" fill="#b9bfe1"/>
<rect x="326.5" y="272.55" width="8.45" height="1.50" fill="#fefafa"/>
<rect x="271.2" y="274.00" width="6.35" height="1.50" fill="#7f8ac9"/>
<rect x="277.5" y="274.00" width="5.75" height="1.50" fill="#e5e7f4"/>
<rect x="283.2" y="274.00" width="5.65" height="1.50" fill="#d7dbee"/>
<rect x="288.8" y="274.00" width="5.45" height="1.50" fill="#dde0f0"/>
<rect x="294.2" y="274.00" width="6.05" height="1.50" fill="#f0b5b5"/>
<rect x="300.2" y="274.00" width="5.95" height="1.50" fill="#f2c1c1"/>
<rect x="306.1" y="274.00" width="5.95" height="1.50" fill="#fbefef"/>
<rect x="312.0" y="274.00" width="6.05" height="1.50" fill="#fbeeee"/>
<rect x="318.0" y="274.00" width="8.55" height="1.50" fill="#c7cce7"/>
<rect x="326.5" y="274.00" width="8.45" height="1.50" fill="#f5f6fb"/>
<rect x="271.2" y="275.45" width="6.35" height="1.50" fill="#929bd1"/>
<rect x="277.5" y="275.45" width="5.75" height="1.50" fill="#b4bbdf"/>
<rect x="283.2" y="275.45" width="5.65" height="1.50" fill="#dde0f0"/>
<rect x="288.8" y="275.45" width="5.45" height="1.50" fill="#b6bde0"/>
<rect x="294.2" y="275.45" width="6.05" height="1.50" fill="#e88e8e"/>
<rect x="300.2" y="275.45" width="5.95" height="1.50" fill="#efb0b0"/>
<rect x="306.1" y="275.45" width="5.95" height="1.50" fill="#f6d3d3"/>
<rect x="312.0" y="275.45" width="6.05" height="1.50" fill="#f0b5b5"/>
<rect x="318.0" y="275.45" width="8.55" height="1.50" fill="#aeb5dd"/>
<rect x="326.5" y="275.45" width="8.45" height="1.50" fill="#bec4e3"/>
<rect x="271.2" y="276.90" width="6.35" height="1.50" fill="#97a0d3"/>
<rect x="277.5" y="276.90" width="5.75" height="1.50" fill="#e1e4f2"/>
<rect x="283.2" y="276.90" width="5.65" height="1.50" fill="#d9dcef"/>
<rect x="288.8" y="276.90" width="5.45" height="1.50" fill="#f3f4fa"/>
<rect x="294.2" y="276.90" width="6.05" height="1.50" fill="#f6d5d5"/>
<rect x="300.2" y="276.90" width="5.95" height="1.50" fill="#f3c6c6"/>
<rect x="306.1" y="276.90" width="5.95" height="1.50" fill="#f1bbbb"/>
<rect x="312.0" y="276.90" width="6.05" height="1.50" fill="#fbebeb"/>
<rect x="318.0" y="276.90" width="8.55" height="1.50" fill="#c3c8e6"/>
<rect x="326.5" y="276.90" width="8.45" height="1.50" fill="#e7e9f5"/>
<rect x="271.2" y="278.35" width="6.35" height="1.50" fill="#c4c9e6"/>
<rect x="277.5" y="278.35" width="5.75" height="1.50" fill="#e9ebf6"/>
<rect x="283.2" y="278.35" width="5.65" height="1.50" fill="#dadeef"/>
<rect x="288.8" y="278.35" width="5.45" height="1.50" fill="#fefcfc"/>
<rect x="294.2" y="278.35" width="6.05" height="1.50" fill="#f3c6c6"/>
<rect x="300.2" y="278.35" width="5.95" height="1.50" fill="#f7dbdb"/>
<rect x="306.1" y="278.35" width="5.95" height="1.50" fill="#fae9e9"/>
<rect x="312.0" y="278.35" width="6.05" height="1.50" fill="#fcf3f3"/>
<rect x="318.0" y="278.35" width="8.55" height="1.50" fill="#e3e5f3"/>
<rect x="326.5" y="278.35" width="8.45" height="1.50" fill="#eaebf6"/>
<rect x="271.2" y="279.80" width="6.35" height="1.50" fill="#9aa3d4"/>
<rect x="277.5" y="279.80" width="5.75" height="1.50" fill="#e7e9f5"/>
<rect x="283.2" y="279.80" width="5.65" height="1.50" fill="#dcdff0"/>
<rect x="288.8" y="279.80" width="5.45" height="1.50" fill="#e9ebf5"/>
<rect x="294.2" y="279.80" width="6.05" height="1.50" fill="#f2c0c0"/>
<rect x="300.2" y="279.80" width="5.95" height="1.50" fill="#f1bcbc"/>
<rect x="306.1" y="279.80" width="5.95" height="1.50" fill="#f4caca"/>
<rect x="312.0" y="279.80" width="6.05" height="1.50" fill="#f8e0e0"/>
<rect x="318.0" y="279.80" width="8.55" height="1.50" fill="#b1b8de"/>
<rect x="326.5" y="279.80" width="8.45" height="1.50" fill="#d6daed"/>
<rect x="271.2" y="281.25" width="6.35" height="1.50" fill="#aeb5dd"/>
<rect x="277.5" y="281.25" width="5.75" height="1.50" fill="#f5f6fa"/>
<rect x="283.2" y="281.25" width="5.65" height="1.50" fill="#e8eaf5"/>
<rect x="288.8" y="281.25" width="5.45" height="1.50" fill="#fefefe"/>
<rect x="294.2" y="281.25" width="6.05" height="1.50" fill="#efb2b2"/>
<rect x="300.2" y="281.25" width="5.95" height="1.50" fill="#f7d9d9"/>
<rect x="306.1" y="281.25" width="5.95" height="1.50" fill="#fdf7f7"/>
<rect x="312.0" y="281.25" width="6.05" height="1.50" fill="#fbeeee"/>
<rect x="318.0" y="281.25" width="8.55" height="1.50" fill="#d1d5eb"/>
<rect x="326.5" y="281.25" width="8.45" height="1.50" fill="#d7daee"/>
<rect x="271.2" y="282.70" width="6.35" height="1.50" fill="#b3badf"/>
<rect x="277.5" y="282.70" width="5.75" height="1.50" fill="#dee0f1"/>
<rect x="283.2" y="282.70" width="5.65" height="1.50" fill="#d9dcef"/>
<rect x="288.8" y="282.70" width="5.45" height="1.50" fill="#d9dcef"/>
<rect x="294.2" y="282.70" width="6.05" height="1.50" fill="#efb0b0"/>
<rect x="300.2" y="282.70" width="5.95" height="1.50" fill="#f6d5d5"/>
<rect x="306.1" y="282.70" width="5.95" height="1.50" fill="#fae7e7"/>
<rect x="312.0" y="282.70" width="6.05" height="1.50" fill="#fae9e9"/>
<rect x="318.0" y="282.70" width="8.55" height="1.50" fill="#d7dbee"/>
<rect x="326.5" y="282.70" width="8.45" height="1.50" fill="#dfe1f1"/>
<rect x="271.2" y="284.15" width="6.35" height="1.50" fill="#a7aeda"/>
<rect x="277.5" y="284.15" width="5.75" height="1.50" fill="#e9eaf5"/>
<rect x="283.2" y="284.15" width="5.65" height="1.50" fill="#f2f3f9"/>
<rect x="288.8" y="284.15" width="5.45" height="1.50" fill="#d6d9ed"/>
<rect x="294.2" y="284.15" width="6.05" height="1.50" fill="#eeadad"/>
<rect x="300.2" y="284.15" width="5.95" height="1.50" fill="#f6d3d3"/>
<rect x="306.1" y="284.15" width="5.95" height="1.50" fill="#f7d9d9"/>
<rect x="312.0" y="284.15" width="6.05" height="1.50" fill="#f5cdcd"/>
<rect x="318.0" y="284.15" width="8.55" height="1.50" fill="#c9cee8"/>
<rect x="326.5" y="284.15" width="8.45" height="1.50" fill="#e3e6f3"/>
<rect x="271.2" y="285.60" width="6.35" height="1.50" fill="#cfd4eb"/>
<rect x="277.5" y="285.60" width="5.75" height="1.50" fill="#e3e6f3"/>
<rect x="283.2" y="285.60" width="5.65" height="1.50" fill="#dfe2f1"/>
<rect x="288.8" y="285.60" width="5.45" height="1.50" fill="#e3e5f3"/>
<rect x="294.2" y="285.60" width="6.05" height="1.50" fill="#f7d6d6"/>
<rect x="300.2" y="285.60" width="5.95" height="1.50" fill="#fefefe"/>
<rect x="306.1" y="285.60" width="5.95" height="1.50" fill="#f9e1e1"/>
<rect x="312.0" y="285.60" width="6.05" height="1.50" fill="#faeaea"/>
<rect x="318.0" y="285.60" width="8.55" height="1.50" fill="#d1d5ec"/>
<rect x="326.5" y="285.60" width="8.45" height="1.50" fill="#fefefe"/>
<rect x="271.2" y="287.05" width="6.35" height="1.50" fill="#909ad0"/>
<rect x="277.5" y="287.05" width="5.75" height="1.50" fill="#d3d7ec"/>
<rect x="283.2" y="287.05" width="5.65" height="1.50" fill="#e7e9f4"/>
<rect x="288.8" y="287.05" width="5.45" height="1.50" fill="#c7cce7"/>
<rect x="294.2" y="287.05" width="6.05" height="1.50" fill="#f2c0c0"/>
<rect x="300.2" y="287.05" width="5.95" height="1.50" fill="#f5cfcf"/>
<rect x="306.1" y="287.05" width="5.95" height="1.50" fill="#f5d0d0"/>
<rect x="312.0" y="287.05" width="6.05" height="1.50" fill="#f7dada"/>
<rect x="318.0" y="287.05" width="8.55" height="1.50" fill="#bbc1e2"/>
<rect x="326.5" y="287.05" width="8.45" height="1.50" fill="#f3f4f9"/>
<rect x="271.2" y="288.50" width="6.35" height="1.50" fill="#9ea7d6"/>
<rect x="277.5" y="288.50" width="5.75" height="1.50" fill="#cfd3ea"/>
<rect x="283.2" y="288.50" width="5.65" height="1.50" fill="#eaecf6"/>
<rect x="288.8" y="288.50" width="5.45" height="1.50" fill="#e8eaf5"/>
<rect x="294.2" y="288.50" width="6.05" height="1.50" fill="#eeadad"/>
<rect x="300.2" y="288.50" width="5.95" height="1.50" fill="#f7d6d6"/>
<rect x="306.1" y="288.50" width="5.95" height="1.50" fill="#f6d5d5"/>
<rect x="312.0" y="288.50" width="6.05" height="1.50" fill="#f9e1e1"/>
<rect x="318.0" y="288.50" width="8.55" height="1.50" fill="#c0c6e4"/>
<rect x="326.5" y="288.50" width="8.45" height="1.50" fill="#e5e7f4"/>
<rect x="271.2" y="289.95" width="6.35" height="1.50" fill="#e5e7f4"/>
<rect x="277.5" y="289.95" width="5.75" height="1.50" fill="#fefefe"/>
<rect x="283.2" y="289.95" width="5.65" height="1.50" fill="#fefcfc"/>
<rect x="288.8" y="289.95" width="5.45" height="1.50" fill="#fae8e8"/>
<rect x="294.2" y="289.95" width="6.05" height="1.50" fill="#fcf1f1"/>
<rect x="300.2" y="289.95" width="5.95" height="1.50" fill="#fcf1f1"/>
<rect x="306.1" y="289.95" width="5.95" height="1.50" fill="#fcf0f0"/>
<rect x="312.0" y="289.95" width="6.05" height="1.50" fill="#f7dada"/>
<rect x="318.0" y="289.95" width="8.55" height="1.50" fill="#d8dbee"/>
<rect x="326.5" y="289.95" width="8.45" height="1.50" fill="#fefcfc"/>
<rect x="271.2" y="291.40" width="6.35" height="1.50" fill="#afb6dd"/>
<rect x="277.5" y="291.40" width="5.75" height="1.50" fill="#d7daee"/>
<rect x="283.2" y="291.40" width="5.65" height="1.50" fill="#dbdeef"/>
<rect x="288.8" y="291.40" width="5.45" height="1.50" fill="#fefafa"/>
<rect x="294.2" y="291.40" width="6.05" height="1.50" fill="#fdf6f6"/>
<rect x="300.2" y="291.40" width="5.95" height="1.50" fill="#fcf2f2"/>
<rect x="306.1" y="291.40" width="5.95" height="1.50" fill="#fefefe"/>
<rect x="312.0" y="291.40" width="6.05" height="1.50" fill="#fbebeb"/>
<rect x="318.0" y="291.40" width="8.55" height="1.50" fill="#dfe2f1"/>
<rect x="326.5" y="291.40" width="8.45" height="1.50" fill="#fcf1f1"/>
<rect x="271.2" y="292.85" width="6.35" height="1.50" fill="#bec4e3"/>
<rect x="277.5" y="292.85" width="5.75" height="1.50" fill="#f3f4fa"/>
<rect x="283.2" y="292.85" width="5.65" height="1.50" fill="#ebedf6"/>
<rect x="288.8" y="292.85" width="5.45" height="1.50" fill="#fdf8f8"/>
<rect x="294.2" y="292.85" width="6.05" height="1.50" fill="#f9e2e2"/>
<rect x="300.2" y="292.85" width="5.95" height="1.50" fill="#fefcfc"/>
<rect x="306.1" y="292.85" width="5.95" height="1.50" fill="#fcf2f2"/>
<rect x="312.0" y="292.85" width="6.05" height="1.50" fill="#fdf9f9"/>
<rect x="318.0" y="292.85" width="8.55" height="1.50" fill="#f5f6fa"/>
<rect x="326.5" y="292.85" width="8.45" height="1.50" fill="#fdfdfe"/>
<rect x="271.2" y="294.30" width="6.35" height="1.50" fill="#c1c7e5"/>
<rect x="277.5" y="294.30" width="5.75" height="1.50" fill="#e5e7f4"/>
<rect x="283.2" y="294.30" width="5.65" height="1.50" fill="#e1e4f2"/>
<rect x="288.8" y="294.30" width="5.45" height="1.50" fill="#eff0f8"/>
<rect x="294.2" y="294.30" width="6.05" height="1.50" fill="#f3c4c4"/>
<rect x="300.2" y="294.30" width="5.95" height="1.50" fill="#f9e4e4"/>
<rect x="306.1" y="294.30" width="5.95" height="1.50" fill="#fae8e8"/>
<rect x="312.0" y="294.30" width="6.05" height="1.50" fill="#fefbfb"/>
<rect x="318.0" y="294.30" width="8.55" height="1.50" fill="#edeef7"/>
<rect x="326.5" y="294.30" width="8.45" height="1.50" fill="#edeef7"/>
<rect x="271.2" y="295.75" width="6.35" height="1.50" fill="#8f99d0"/>
<rect x="277.5" y="295.75" width="5.75" height="1.50" fill="#f8f9fc"/>
<rect x="283.2" y="295.75" width="5.65" height="1.50" fill="#ccd0e9"/>
<rect x="288.8" y="295.75" width="5.45" height="1.50" fill="#dee1f1"/>
<rect x="294.2" y="295.75" width="6.05" height="1.50" fill="#f3c5c5"/>
<rect x="300.2" y="295.75" width="5.95" height="1.50" fill="#fcf2f2"/>
<rect x="306.1" y="295.75" width="5.95" height="1.50" fill="#f8e0e0"/>
<rect x="312.0" y="295.75" width="6.05" height="1.50" fill="#fae8e8"/>
<rect x="318.0" y="295.75" width="8.55" height="1.50" fill="#d1d5eb"/>
<rect x="326.5" y="295.75" width="8.45" height="1.50" fill="#fdf6f6"/>
<rect x="271.2" y="297.20" width="6.35" height="1.50" fill="#7480c4"/>
<rect x="277.5" y="297.20" width="5.75" height="1.50" fill="#ced2ea"/>
<rect x="283.2" y="297.20" width="5.65" height="1.50" fill="#e1e3f2"/>
<rect x="288.8" y="297.20" width="5.45" height="1.50" fill="#d0d4eb"/>
<rect x="294.2" y="297.20" width="6.05" height="1.50" fill="#f5cdcd"/>
<rect x="300.2" y="297.20" width="5.95" height="1.50" fill="#f6d3d3"/>
<rect x="306.1" y="297.20" width="5.95" height="1.50" fill="#f4cbcb"/>
<rect x="312.0" y="297.20" width="6.05" height="1.50" fill="#fae6e6"/>
<rect x="318.0" y="297.20" width="8.55" height="1.50" fill="#d6daee"/>
<rect x="326.5" y="297.20" width="8.45" height="1.50" fill="#e6e8f4"/>
<rect x="271.2" y="298.65" width="6.35" height="1.50" fill="#8e98cf"/>
<rect x="277.5" y="298.65" width="5.75" height="1.50" fill="#e9ebf5"/>
<rect x="283.2" y="298.65" width="5.65" height="1.50" fill="#d0d4eb"/>
<rect x="288.8" y="298.65" width="5.45" height="1.50" fill="#e6e8f4"/>
<rect x="294.2" y="298.65" width="6.05" height="1.50" fill="#f5cccc"/>
<rect x="300.2" y="298.65" width="5.95" height="1.50" fill="#f7d9d9"/>
<rect x="306.1" y="298.65" width="5.95" height="1.50" fill="#fae5e5"/>
<rect x="312.0" y="298.65" width="6.05" height="1.50" fill="#f7d9d9"/>
<rect x="318.0" y="298.65" width="8.55" height="1.50" fill="#ebedf6"/>
<rect x="326.5" y="298.65" width="8.45" height="1.50" fill="#f5f6fa"/>
<rect x="271.2" y="300.10" width="6.35" height="1.50" fill="#aeb5dc"/>
<rect x="277.5" y="300.10" width="5.75" height="1.50" fill="#f5f5fa"/>
<rect x="283.2" y="300.10" width="5.65" height="1.50" fill="#e0e3f2"/>
<rect x="288.8" y="300.10" width="5.45" height="1.50" fill="#eaecf6"/>
<rect x="294.2" y="300.10" width="6.05" height="1.50" fill="#f3c4c4"/>
<rect x="300.2" y="300.10" width="5.95" height="1.50" fill="#f7dbdb"/>
<rect x="306.1" y="300.10" width="5.95" height="1.50" fill="#faeaea"/>
<rect x="312.0" y="300.10" width="6.05" height="1.50" fill="#fae7e7"/>
<rect x="318.0" y="300.10" width="8.55" height="1.50" fill="#c1c6e5"/>
<rect x="326.5" y="300.10" width="8.45" height="1.50" fill="#f3f4fa"/>
<rect x="271.2" y="301.55" width="6.35" height="1.50" fill="#bbc0e2"/>
<rect x="277.5" y="301.55" width="5.75" height="1.50" fill="#ebedf6"/>
<rect x="283.2" y="301.55" width="5.65" height="1.50" fill="#ecedf7"/>
<rect x="288.8" y="301.55" width="5.45" height="1.50" fill="#e9ebf6"/>
<rect x="294.2" y="301.55" width="6.05" height="1.50" fill="#f9e2e2"/>
<rect x="300.2" y="301.55" width="5.95" height="1.50" fill="#fcf3f3"/>
<rect x="306.1" y="301.55" width="5.95" height="1.50" fill="#fbecec"/>
<rect x="312.0" y="301.55" width="6.05" height="1.50" fill="#fefdfd"/>
<rect x="318.0" y="301.55" width="8.55" height="1.50" fill="#e7e9f5"/>
<rect x="326.5" y="301.55" width="8.45" height="1.50" fill="#f1f2f9"/>
<rect x="271.2" y="303.00" width="6.35" height="1.50" fill="#a6aed9"/>
<rect x="277.5" y="303.00" width="5.75" height="1.50" fill="#f7f8fb"/>
<rect x="283.2" y="303.00" width="5.65" height="1.50" fill="#eceef7"/>
<rect x="288.8" y="303.00" width="5.45" height="1.50" fill="#dfe2f1"/>
<rect x="294.2" y="303.00" width="6.05" height="1.50" fill="#f6d6d6"/>
<rect x="300.2" y="303.00" width="5.95" height="1.50" fill="#f9e5e5"/>
<rect x="306.1" y="303.00" width="5.95" height="1.50" fill="#fcf4f4"/>
<rect x="312.0" y="303.00" width="6.05" height="1.50" fill="#f8dfdf"/>
<rect x="318.0" y="303.00" width="8.55" height="1.50" fill="#eeeff8"/>
<rect x="326.5" y="303.00" width="8.45" height="1.50" fill="#f3f4fa"/>
<rect x="271.2" y="304.45" width="6.35" height="1.50" fill="#eeeff7"/>
<rect x="277.5" y="304.45" width="5.75" height="1.50" fill="#c5cae6"/>
<rect x="283.2" y="304.45" width="5.65" height="1.50" fill="#f1f2f9"/>
<rect x="288.8" y="304.45" width="5.45" height="1.50" fill="#f0f2f9"/>
<rect x="294.2" y="304.45" width="6.05" height="1.50" fill="#fdf6f6"/>
<rect x="300.2" y="304.45" width="5.95" height="1.50" fill="#f7dada"/>
<rect x="306.1" y="304.45" width="5.95" height="1.50" fill="#fae9e9"/>
<rect x="312.0" y="304.45" width="6.05" height="1.50" fill="#fefafa"/>
<rect x="318.0" y="304.45" width="8.55" height="1.50" fill="#d5d8ed"/>
<rect x="326.5" y="304.45" width="8.45" height="1.50" fill="#e9ebf5"/>
<rect x="271.2" y="305.90" width="6.35" height="1.50" fill="#ccd0e9"/>
<rect x="277.5" y="305.90" width="5.75" height="1.50" fill="#fafafd"/>
<rect x="283.2" y="305.90" width="5.65" height="1.50" fill="#fdfdfe"/>
<rect x="288.8" y="305.90" width="5.45" height="1.50" fill="#fafafd"/>
<rect x="294.2" y="305.90" width="6.05" height="1.50" fill="#fefefe"/>
<rect x="300.2" y="305.90" width="5.95" height="1.50" fill="#f5d1d1"/>
<rect x="306.1" y="305.90" width="5.95" height="1.50" fill="#f7dada"/>
<rect x="312.0" y="305.90" width="6.05" height="1.50" fill="#fcf4f4"/>
<rect x="318.0" y="305.90" width="8.55" height="1.50" fill="#c9cee8"/>
<rect x="326.5" y="305.90" width="8.45" height="1.50" fill="#e2e4f3"/>
<rect x="271.2" y="307.35" width="6.35" height="1.50" fill="#c7cbe7"/>
<rect x="277.5" y="307.35" width="5.75" height="1.50" fill="#dee1f1"/>
<rect x="283.2" y="307.35" width="5.65" height="1.50" fill="#f9f9fc"/>
<rect x="288.8" y="307.35" width="5.45" height="1.50" fill="#d4d7ec"/>
<rect x="294.2" y="307.35" width="6.05" height="1.50" fill="#f5cccc"/>
<rect x="300.2" y="307.35" width="5.95" height="1.50" fill="#f6d3d3"/>
<rect x="306.1" y="307.35" width="5.95" height="1.50" fill="#f8f8fc"/>
<rect x="312.0" y="307.35" width="6.05" height="1.50" fill="#f5f6fb"/>
<rect x="318.0" y="307.35" width="8.55" height="1.50" fill="#c5cae6"/>
<rect x="326.5" y="307.35" width="8.45" height="1.50" fill="#daddef"/>
<rect x="271.2" y="308.80" width="6.35" height="1.50" fill="#b7bde0"/>
<rect x="277.5" y="308.80" width="5.75" height="1.50" fill="#e1e3f2"/>
<rect x="283.2" y="308.80" width="5.65" height="1.50" fill="#fdf6f6"/>
<rect x="288.8" y="308.80" width="5.45" height="1.50" fill="#dde0f0"/>
<rect x="294.2" y="308.80" width="6.05" height="1.50" fill="#fcf1f1"/>
<rect x="300.2" y="308.80" width="5.95" height="1.50" fill="#fbfbfd"/>
<rect x="306.1" y="308.80" width="5.95" height="1.50" fill="#fbeded"/>
<rect x="312.0" y="308.80" width="6.05" height="1.50" fill="#fdf9f9"/>
<rect x="318.0" y="308.80" width="8.55" height="1.50" fill="#eef0f8"/>
<rect x="326.5" y="308.80" width="8.45" height="1.50" fill="#f0f1f8"/>
<rect x="271.2" y="310.25" width="6.35" height="1.50" fill="#e5e7f4"/>
<rect x="277.5" y="310.25" width="5.75" height="1.50" fill="#dee1f1"/>
<rect x="283.2" y="310.25" width="5.65" height="1.50" fill="#dadeef"/>
<rect x="288.8" y="310.25" width="5.45" height="1.50" fill="#f2f3f9"/>
<rect x="294.2" y="310.25" width="6.05" height="1.50" fill="#fcf0f0"/>
<rect x="300.2" y="310.25" width="5.95" height="1.50" fill="#fbebeb"/>
<rect x="306.1" y="310.25" width="5.95" height="1.50" fill="#fcf1f1"/>
<rect x="312.0" y="310.25" width="6.05" height="1.50" fill="#fefdfd"/>
<rect x="318.0" y="310.25" width="8.55" height="1.50" fill="#daddef"/>
<rect x="326.5" y="310.25" width="8.45" height="1.50" fill="#fdf7f7"/>
<rect x="271.2" y="311.70" width="6.35" height="1.50" fill="#fefefe"/>
<rect x="277.5" y="311.70" width="5.75" height="1.50" fill="#e8eaf5"/>
<rect x="283.2" y="311.70" width="5.65" height="1.50" fill="#e7e9f5"/>
<rect x="288.8" y="311.70" width="5.45" height="1.50" fill="#fae9e9"/>
<rect x="294.2" y="311.70" width="6.05" height="1.50" fill="#fcf0f0"/>
<rect x="300.2" y="311.70" width="5.95" height="1.50" fill="#f8dede"/>
<rect x="306.1" y="311.70" width="5.95" height="1.50" fill="#fbecec"/>
<rect x="312.0" y="311.70" width="6.05" height="1.50" fill="#edeef7"/>
<rect x="318.0" y="311.70" width="8.55" height="1.50" fill="#e0e3f2"/>
<rect x="326.5" y="311.70" width="8.45" height="1.50" fill="#eaecf6"/>
<rect x="271.2" y="313.15" width="6.35" height="1.50" fill="#d4d8ed"/>
<rect x="277.5" y="313.15" width="5.75" height="1.50" fill="#fafbfd"/>
<rect x="283.2" y="313.15" width="5.65" height="1.50" fill="#fefcfc"/>
<rect x="288.8" y="313.15" width="5.45" height="1.50" fill="#fefefe"/>
<rect x="294.2" y="313.15" width="6.05" height="1.50" fill="#fefdfd"/>
<rect x="300.2" y="313.15" width="5.95" height="1.50" fill="#f9f9fc"/>
<rect x="306.1" y="313.15" width="5.95" height="1.50" fill="#f6f7fb"/>
<rect x="312.0" y="313.15" width="6.05" height="1.50" fill="#fcfcfe"/>
<rect x="318.0" y="313.15" width="8.55" height="1.50" fill="#a6aed9"/>
<rect x="326.5" y="313.15" width="8.45" height="1.50" fill="#d9ddef"/>
<rect x="271.2" y="314.60" width="6.35" height="1.50" fill="#d5d9ed"/>
<rect x="277.5" y="314.60" width="5.75" height="1.50" fill="#f2f3f9"/>
<rect x="283.2" y="314.60" width="5.65" height="1.50" fill="#eaecf6"/>
<rect x="288.8" y="314.60" width="5.45" height="1.50" fill="#f5f6fa"/>
<rect x="294.2" y="314.60" width="6.05" height="1.50" fill="#fbeeee"/>
<rect x="300.2" y="314.60" width="5.95" height="1.50" fill="#fcf2f2"/>
<rect x="306.1" y="314.60" width="5.95" height="1.50" fill="#fbeeee"/>
<rect x="312.0" y="314.60" width="6.05" height="1.50" fill="#f0f2f9"/>
<rect x="318.0" y="314.60" width="8.55" height="1.50" fill="#7e89c9"/>
<rect x="326.5" y="314.60" width="8.45" height="1.50" fill="#cacee8"/>
<rect x="271.2" y="316.05" width="6.35" height="1.50" fill="#c6cbe7"/>
<rect x="277.5" y="316.05" width="5.75" height="1.50" fill="#f5f6fb"/>
<rect x="283.2" y="316.05" width="5.65" height="1.50" fill="#fdf9f9"/>
<rect x="288.8" y="316.05" width="5.45" height="1.50" fill="#f1f2f9"/>
<rect x="294.2" y="316.05" width="6.05" height="1.50" fill="#fdf4f4"/>
<rect x="300.2" y="316.05" width="5.95" height="1.50" fill="#fbeded"/>
<rect x="306.1" y="316.05" width="5.95" height="1.50" fill="#fcf0f0"/>
<rect x="312.0" y="316.05" width="6.05" height="1.50" fill="#faeaea"/>
<rect x="318.0" y="316.05" width="8.55" height="1.50" fill="#6c79c1"/>
<rect x="326.5" y="316.05" width="8.45" height="1.50" fill="#bdc2e3"/>
<rect x="271.2" y="317.50" width="6.35" height="1.50" fill="#e6e8f4"/>
<rect x="277.5" y="317.50" width="5.75" height="1.50" fill="#fcf4f4"/>
<rect x="283.2" y="317.50" width="5.65" height="1.50" fill="#f4f5fa"/>
<rect x="288.8" y="317.50" width="5.45" height="1.50" fill="#f5f6fa"/>
<rect x="294.2" y="317.50" width="6.05" height="1.50" fill="#fefefe"/>
<rect x="300.2" y="317.50" width="5.95" height="1.50" fill="#fbecec"/>
<rect x="306.1" y="317.50" width="5.95" height="1.50" fill="#fafafc"/>
<rect x="312.0" y="317.50" width="6.05" height="1.50" fill="#faeaea"/>
<rect x="318.0" y="317.50" width="8.55" height="1.50" fill="#929cd1"/>
<rect x="326.5" y="317.50" width="8.45" height="1.50" fill="#c4c9e6"/>
<rect x="271.2" y="318.95" width="6.35" height="1.50" fill="#e2e5f3"/>
<rect x="277.5" y="318.95" width="5.75" height="1.50" fill="#f9f9fc"/>
<rect x="283.2" y="318.95" width="5.65" height="1.50" fill="#fdf9f9"/>
<rect x="288.8" y="318.95" width="5.45" height="1.50" fill="#eef0f8"/>
<rect x="294.2" y="318.95" width="6.05" height="1.50" fill="#fbeeee"/>
<rect x="300.2" y="318.95" width="5.95" height="1.50" fill="#fcfcfd"/>
<rect x="306.1" y="318.95" width="5.95" height="1.50" fill="#f9e2e2"/>
<rect x="312.0" y="318.95" width="6.05" height="1.50" fill="#fbebeb"/>
<rect x="318.0" y="318.95" width="8.55" height="1.50" fill="#838dca"/>
<rect x="326.5" y="318.95" width="8.45" height="1.50" fill="#c5cae6"/>
<rect x="271.2" y="320.40" width="6.35" height="1.50" fill="#e4e6f3"/>
<rect x="277.5" y="320.40" width="5.75" height="1.50" fill="#fefefe"/>
<rect x="283.2" y="320.40" width="5.65" height="1.50" fill="#f7f8fb"/>
<rect x="288.8" y="320.40" width="5.45" height="1.50" fill="#f9f9fc"/>
<rect x="294.2" y="320.40" width="6.05" height="1.50" fill="#f2f3f9"/>
<rect x="300.2" y="320.40" width="5.95" height="1.50" fill="#fdf5f5"/>
<rect x="306.1" y="320.40" width="5.95" height="1.50" fill="#fcfcfd"/>
<rect x="312.0" y="320.40" width="6.05" height="1.50" fill="#f6f7fb"/>
<rect x="318.0" y="320.40" width="8.55" height="1.50" fill="#9ea6d6"/>
<rect x="326.5" y="320.40" width="8.45" height="1.50" fill="#b8bee1"/>
<rect x="271.2" y="321.85" width="6.35" height="1.50" fill="#e8eaf5"/>
<rect x="277.5" y="321.85" width="5.75" height="1.50" fill="#f2f3f9"/>
<rect x="283.2" y="321.85" width="5.65" height="1.50" fill="#e5e7f4"/>
<rect x="288.8" y="321.85" width="5.45" height="1.50" fill="#e5e8f4"/>
<rect x="294.2" y="321.85" width="6.05" height="1.50" fill="#fdf5f5"/>
<rect x="300.2" y="321.85" width="5.95" height="1.50" fill="#e7e9f5"/>
<rect x="306.1" y="321.85" width="5.95" height="1.50" fill="#fcf0f0"/>
<rect x="312.0" y="321.85" width="6.05" height="1.50" fill="#fae9e9"/>
<rect x="318.0" y="321.85" width="8.55" height="1.50" fill="#6472be"/>
<rect x="326.5" y="321.85" width="8.45" height="1.50" fill="#b2b9de"/>
<rect x="271.2" y="323.30" width="6.35" height="1.50" fill="#e5e8f4"/>
<rect x="277.5" y="323.30" width="5.75" height="1.50" fill="#fdf9f9"/>
<rect x="283.2" y="323.30" width="5.65" height="1.50" fill="#f5f6fa"/>
<rect x="288.8" y="323.30" width="5.45" height="1.50" fill="#ebecf6"/>
<rect x="294.2" y="323.30" width="6.05" height="1.50" fill="#fefbfb"/>
<rect x="300.2" y="323.30" width="5.95" height="1.50" fill="#fcf2f2"/>
<rect x="306.1" y="323.30" width="5.95" height="1.50" fill="#f8dede"/>
<rect x="312.0" y="323.30" width="6.05" height="1.50" fill="#fdf9f9"/>
<rect x="318.0" y="323.30" width="8.55" height="1.50" fill="#6d7ac1"/>
<rect x="326.5" y="323.30" width="8.45" height="1.50" fill="#b6bce0"/>
<rect x="271.2" y="324.75" width="6.35" height="1.50" fill="#f9f9fc"/>
<rect x="277.5" y="324.75" width="5.75" height="1.50" fill="#e8eaf5"/>
<rect x="283.2" y="324.75" width="5.65" height="1.50" fill="#e9ebf6"/>
<rect x="288.8" y="324.75" width="5.45" height="1.50" fill="#dfe2f1"/>
<rect x="294.2" y="324.75" width="6.05" height="1.50" fill="#f2f3f9"/>
<rect x="300.2" y="324.75" width="5.95" height="1.50" fill="#fcf3f3"/>
<rect x="306.1" y="324.75" width="5.95" height="1.50" fill="#eff1f8"/>
<rect x="312.0" y="324.75" width="6.05" height="1.50" fill="#e9ebf5"/>
<rect x="318.0" y="324.75" width="8.55" height="1.50" fill="#d3d7ec"/>
<rect x="326.5" y="324.75" width="8.45" height="1.50" fill="#e4e7f4"/>
<rect x="271.2" y="326.20" width="6.35" height="1.50" fill="#e9ebf5"/>
<rect x="277.5" y="326.20" width="5.75" height="1.50" fill="#f4f5fa"/>
<rect x="283.2" y="326.20" width="5.65" height="1.50" fill="#e1e4f2"/>
<rect x="288.8" y="326.20" width="5.45" height="1.50" fill="#f2f3f9"/>
<rect x="294.2" y="326.20" width="6.05" height="1.50" fill="#fbeded"/>
<rect x="300.2" y="326.20" width="5.95" height="1.50" fill="#fefcfc"/>
<rect x="306.1" y="326.20" width="5.95" height="1.50" fill="#f5f6fa"/>
<rect x="312.0" y="326.20" width="6.05" height="1.50" fill="#f9e4e4"/>
<rect x="318.0" y="326.20" width="8.55" height="1.50" fill="#6d79c1"/>
<rect x="326.5" y="326.20" width="8.45" height="1.50" fill="#b8bee1"/>
<rect x="271.2" y="327.65" width="6.35" height="1.50" fill="#f1f2f9"/>
<rect x="277.5" y="327.65" width="5.75" height="1.50" fill="#f9f9fc"/>
<rect x="283.2" y="327.65" width="5.65" height="1.50" fill="#f0f1f8"/>
<rect x="288.8" y="327.65" width="5.45" height="1.50" fill="#fefefe"/>
<rect x="294.2" y="327.65" width="6.05" height="1.50" fill="#f7d6d6"/>
<rect x="300.2" y="327.65" width="5.95" height="1.50" fill="#f9e1e1"/>
<rect x="306.1" y="327.65" width="5.95" height="1.50" fill="#fbebeb"/>
<rect x="312.0" y="327.65" width="6.05" height="1.50" fill="#f8f9fc"/>
<rect x="318.0" y="327.65" width="8.55" height="1.50" fill="#b8bee1"/>
<rect x="326.5" y="327.65" width="8.45" height="1.50" fill="#b4badf"/>
<rect x="271.2" y="329.10" width="6.35" height="1.50" fill="#dbdef0"/>
<rect x="277.5" y="329.10" width="5.75" height="1.50" fill="#fcf0f0"/>
<rect x="283.2" y="329.10" width="5.65" height="1.50" fill="#fcfcfd"/>
<rect x="288.8" y="329.10" width="5.45" height="1.50" fill="#e2e4f2"/>
<rect x="294.2" y="329.10" width="6.05" height="1.50" fill="#fcf2f2"/>
<rect x="300.2" y="329.10" width="5.95" height="1.50" fill="#fbeeee"/>
<rect x="306.1" y="329.10" width="5.95" height="1.50" fill="#fefbfb"/>
<rect x="312.0" y="329.10" width="6.05" height="1.50" fill="#f6f6fb"/>
<rect x="318.0" y="329.10" width="8.55" height="1.50" fill="#8691cc"/>
<rect x="326.5" y="329.10" width="8.45" height="1.50" fill="#c6cae7"/>
<rect x="271.2" y="330.55" width="6.35" height="1.50" fill="#daddef"/>
<rect x="277.5" y="330.55" width="5.75" height="1.50" fill="#fefefe"/>
<rect x="283.2" y="330.55" width="5.65" height="1.50" fill="#e7e9f5"/>
<rect x="288.8" y="330.55" width="5.45" height="1.50" fill="#dcdff0"/>
<rect x="294.2" y="330.55" width="6.05" height="1.50" fill="#fefefe"/>
<rect x="300.2" y="330.55" width="5.95" height="1.50" fill="#f9e2e2"/>
<rect x="306.1" y="330.55" width="5.95" height="1.50" fill="#fefdfd"/>
<rect x="312.0" y="330.55" width="6.05" height="1.50" fill="#f6d3d3"/>
<rect x="318.0" y="330.55" width="8.55" height="1.50" fill="#8993cd"/>
<rect x="326.5" y="330.55" width="8.45" height="1.50" fill="#b4bbdf"/>
<rect x="271.2" y="332.00" width="6.35" height="1.50" fill="#f0b4b4"/>
<rect x="277.5" y="332.00" width="5.75" height="1.50" fill="#f5cfcf"/>
<rect x="283.2" y="332.00" width="5.65" height="1.50" fill="#eb9c9c"/>
<rect x="288.8" y="332.00" width="5.45" height="1.50" fill="#f6d4d4"/>
<rect x="294.2" y="332.00" width="6.05" height="1.50" fill="#fbeeee"/>
<rect x="300.2" y="332.00" width="5.95" height="1.50" fill="#f0f1f8"/>
<rect x="306.1" y="332.00" width="5.95" height="1.50" fill="#e8eaf5"/>
<rect x="312.0" y="332.00" width="6.05" height="1.50" fill="#e2e4f3"/>
<rect x="318.0" y="332.00" width="8.55" height="1.50" fill="#d0d4eb"/>
<rect x="326.5" y="332.00" width="8.45" height="1.50" fill="#eef0f8"/>
<rect x="271.2" y="333.45" width="6.35" height="1.50" fill="#e78585"/>
<rect x="277.5" y="333.45" width="5.75" height="1.50" fill="#eda6a6"/>
<rect x="283.2" y="333.45" width="5.65" height="1.50" fill="#e99292"/>
<rect x="288.8" y="333.45" width="5.45" height="1.50" fill="#eda8a8"/>
<rect x="294.2" y="333.45" width="6.05" height="1.50" fill="#ebedf6"/>
<rect x="300.2" y="333.45" width="5.95" height="1.50" fill="#b8bfe1"/>
<rect x="306.1" y="333.45" width="5.95" height="1.50" fill="#c6cbe7"/>
<rect x="312.0" y="333.45" width="6.05" height="1.50" fill="#eff0f8"/>
<rect x="318.0" y="333.45" width="8.55" height="1.50" fill="#d2d6ec"/>
<rect x="326.5" y="333.45" width="8.45" height="1.50" fill="#f5f6fa"/>
<rect x="271.2" y="334.90" width="6.35" height="1.50" fill="#f0b6b6"/>
<rect x="277.5" y="334.90" width="5.75" height="1.50" fill="#eeaeae"/>
<rect x="283.2" y="334.90" width="5.65" height="1.50" fill="#eda8a8"/>
<rect x="288.8" y="334.90" width="5.45" height="1.50" fill="#f3c5c5"/>
<rect x="294.2" y="334.90" width="6.05" height="1.50" fill="#fdf9f9"/>
<rect x="300.2" y="334.90" width="5.95" height="1.50" fill="#f7f7fb"/>
<rect x="306.1" y="334.90" width="5.95" height="1.50" fill="#e5e8f4"/>
<rect x="312.0" y="334.90" width="6.05" height="1.50" fill="#e8eaf5"/>
<rect x="318.0" y="334.90" width="8.55" height="1.50" fill="#d1d5eb"/>
<rect x="326.5" y="334.90" width="8.45" height="1.50" fill="#eff0f8"/>
<rect x="271.2" y="336.35" width="6.35" height="1.50" fill="#f5cdcd"/>
<rect x="277.5" y="336.35" width="5.75" height="1.50" fill="#fbfbfd"/>
<rect x="283.2" y="336.35" width="5.65" height="1.50" fill="#fdf5f5"/>
<rect x="288.8" y="336.35" width="5.45" height="1.50" fill="#f8dddd"/>
<rect x="294.2" y="336.35" width="6.05" height="1.50" fill="#ced2ea"/>
<rect x="300.2" y="336.35" width="5.95" height="1.50" fill="#c8cde8"/>
<rect x="306.1" y="336.35" width="5.95" height="1.50" fill="#b6bce0"/>
<rect x="312.0" y="336.35" width="6.05" height="1.50" fill="#b8bee1"/>
<rect x="318.0" y="336.35" width="8.55" height="1.50" fill="#f1bbbb"/>
<rect x="326.5" y="336.35" width="8.45" height="1.50" fill="#fdfdfe"/>
<rect x="271.2" y="337.80" width="6.35" height="1.50" fill="#eda5a5"/>
<rect x="277.5" y="337.80" width="5.75" height="1.50" fill="#fae7e7"/>
<rect x="283.2" y="337.80" width="5.65" height="1.50" fill="#f4caca"/>
<rect x="288.8" y="337.80" width="5.45" height="1.50" fill="#eff1f8"/>
<rect x="294.2" y="337.80" width="6.05" height="1.50" fill="#949ed2"/>
<rect x="300.2" y="337.80" width="5.95" height="1.50" fill="#7783c5"/>
<rect x="306.1" y="337.80" width="5.95" height="1.50" fill="#828dca"/>
<rect x="312.0" y="337.80" width="6.05" height="1.50" fill="#737fc4"/>
<rect x="318.0" y="337.80" width="8.55" height="1.50" fill="#e78585"/>
<rect x="326.5" y="337.80" width="8.45" height="1.50" fill="#dfe2f1"/>
<rect x="271.2" y="339.25" width="6.35" height="1.50" fill="#fae6e6"/>
<rect x="277.5" y="339.25" width="5.75" height="1.50" fill="#fdf6f6"/>
<rect x="283.2" y="339.25" width="5.65" height="1.50" fill="#fafafd"/>
<rect x="288.8" y="339.25" width="5.45" height="1.50" fill="#fefefe"/>
<rect x="294.2" y="339.25" width="6.05" height="1.50" fill="#c9cee8"/>
<rect x="300.2" y="339.25" width="5.95" height="1.50" fill="#d8dcee"/>
<rect x="306.1" y="339.25" width="5.95" height="1.50" fill="#ced2ea"/>
<rect x="312.0" y="339.25" width="6.05" height="1.50" fill="#daddef"/>
<rect x="318.0" y="339.25" width="8.55" height="1.50" fill="#f6d6d6"/>
<rect x="326.5" y="339.25" width="8.45" height="1.50" fill="#fae6e6"/>
<rect x="271.2" y="340.70" width="6.35" height="1.50" fill="#f3c6c6"/>
<rect x="277.5" y="340.70" width="5.75" height="1.50" fill="#fbefef"/>
<rect x="283.2" y="340.70" width="5.65" height="1.50" fill="#fcf3f3"/>
<rect x="288.8" y="340.70" width="5.45" height="1.50" fill="#fdf8f8"/>
<rect x="294.2" y="340.70" width="6.05" height="1.50" fill="#a3abd8"/>
<rect x="300.2" y="340.70" width="5.95" height="1.50" fill="#c7cbe7"/>
<rect x="306.1" y="340.70" width="5.95" height="1.50" fill="#adb4dc"/>
<rect x="312.0" y="340.70" width="6.05" height="1.50" fill="#a4acd9"/>
<rect x="318.0" y="340.70" width="8.55" height="1.50" fill="#f7d8d8"/>
<rect x="326.5" y="340.70" width="8.45" height="1.50" fill="#fae6e6"/>
<rect x="271.2" y="342.15" width="6.35" height="1.50" fill="#eda5a5"/>
<rect x="277.5" y="342.15" width="5.75" height="1.50" fill="#fae8e8"/>
<rect x="283.2" y="342.15" width="5.65" height="1.50" fill="#f8f9fc"/>
<rect x="288.8" y="342.15" width="5.45" height="1.50" fill="#f8f9fc"/>
<rect x="294.2" y="342.15" width="6.05" height="1.50" fill="#b7bde1"/>
<rect x="300.2" y="342.15" width="5.95" height="1.50" fill="#abb2db"/>
<rect x="306.1" y="342.15" width="5.95" height="1.50" fill="#9da5d5"/>
<rect x="312.0" y="342.15" width="6.05" height="1.50" fill="#a1a9d7"/>
<rect x="318.0" y="342.15" width="8.55" height="1.50" fill="#f1b8b8"/>
<rect x="326.5" y="342.15" width="8.45" height="1.50" fill="#f9fafc"/>
<rect x="271.2" y="343.60" width="6.35" height="1.50" fill="#f2c1c1"/>
<rect x="277.5" y="343.60" width="5.75" height="1.50" fill="#ebecf6"/>
<rect x="283.2" y="343.60" width="5.65" height="1.50" fill="#fae6e6"/>
<rect x="288.8" y="343.60" width="5.45" height="1.50" fill="#fcfcfd"/>
<rect x="294.2" y="343.60" width="6.05" height="1.50" fill="#c4c9e6"/>
<rect x="300.2" y="343.60" width="5.95" height="1.50" fill="#a9b1db"/>
<rect x="306.1" y="343.60" width="5.95" height="1.50" fill="#9ba3d5"/>
<rect x="312.0" y="343.60" width="6.05" height="1.50" fill="#bac0e2"/>
<rect x="318.0" y="343.60" width="8.55" height="1.50" fill="#f5d0d0"/>
<rect x="326.5" y="343.60" width="8.45" height="1.50" fill="#fefefe"/>
<rect x="271.2" y="345.05" width="6.35" height="1.50" fill="#eea9a9"/>
<rect x="277.5" y="345.05" width="5.75" height="1.50" fill="#fdfdfe"/>
<rect x="283.2" y="345.05" width="5.65" height="1.50" fill="#fae5e5"/>
<rect x="288.8" y="345.05" width="5.45" height="1.50" fill="#fdf6f6"/>
<rect x="294.2" y="345.05" width="6.05" height="1.50" fill="#acb3dc"/>
<rect x="300.2" y="345.05" width="5.95" height="1.50" fill="#adb4dc"/>
<rect x="306.1" y="345.05" width="5.95" height="1.50" fill="#c5cae6"/>
<rect x="312.0" y="345.05" width="6.05" height="1.50" fill="#7783c5"/>
<rect x="318.0" y="345.05" width="8.55" height="1.50" fill="#eda5a5"/>
<rect x="326.5" y="345.05" width="8.45" height="1.50" fill="#fafbfd"/>
<rect x="271.2" y="346.50" width="6.35" height="1.50" fill="#e88c8c"/>
<rect x="277.5" y="346.50" width="5.75" height="1.50" fill="#f7dada"/>
<rect x="283.2" y="346.50" width="5.65" height="1.50" fill="#fcf0f0"/>
<rect x="288.8" y="346.50" width="5.45" height="1.50" fill="#fefcfc"/>
<rect x="294.2" y="346.50" width="6.05" height="1.50" fill="#6e7bc2"/>
<rect x="300.2" y="346.50" width="5.95" height="1.50" fill="#b0b7de"/>
<rect x="306.1" y="346.50" width="5.95" height="1.50" fill="#929cd1"/>
<rect x="312.0" y="346.50" width="6.05" height="1.50" fill="#7b86c7"/>
<rect x="318.0" y="346.50" width="8.55" height="1.50" fill="#e88b8b"/>
<rect x="326.5" y="346.50" width="8.45" height="1.50" fill="#fae7e7"/>
<rect x="271.2" y="347.95" width="6.35" height="1.50" fill="#f0b3b3"/>
<rect x="277.5" y="347.95" width="5.75" height="1.50" fill="#fcf0f0"/>
<rect x="283.2" y="347.95" width="5.65" height="1.50" fill="#f9e3e3"/>
<rect x="288.8" y="347.95" width="5.45" height="1.50" fill="#fbeded"/>
<rect x="294.2" y="347.95" width="6.05" height="1.50" fill="#9da6d6"/>
<rect x="300.2" y="347.95" width="5.95" height="1.50" fill="#8e97cf"/>
<rect x="306.1" y="347.95" width="5.95" height="1.50" fill="#929bd1"/>
<rect x="312.0" y="347.95" width="6.05" height="1.50" fill="#a3abd8"/>
<rect x="318.0" y="347.95" width="8.55" height="1.50" fill="#e99292"/>
<rect x="326.5" y="347.95" width="8.45" height="1.50" fill="#fae6e6"/>
<rect x="271.2" y="349.40" width="6.35" height="1.50" fill="#eda8a8"/>
<rect x="277.5" y="349.40" width="5.75" height="1.50" fill="#f6d2d2"/>
<rect x="283.2" y="349.40" width="5.65" height="1.50" fill="#faeaea"/>
<rect x="288.8" y="349.40" width="5.45" height="1.50" fill="#f9e4e4"/>
<rect x="294.2" y="349.40" width="6.05" height="1.50" fill="#9da5d5"/>
<rect x="300.2" y="349.40" width="5.95" height="1.50" fill="#bbc1e2"/>
<rect x="306.1" y="349.40" width="5.95" height="1.50" fill="#b6bce0"/>
<rect x="312.0" y="349.40" width="6.05" height="1.50" fill="#959ed2"/>
<rect x="318.0" y="349.40" width="8.55" height="1.50" fill="#eca3a3"/>
<rect x="326.5" y="349.40" width="8.45" height="1.50" fill="#fefefe"/>
<rect x="271.2" y="350.85" width="6.35" height="1.50" fill="#f3c5c5"/>
<rect x="277.5" y="350.85" width="5.75" height="1.50" fill="#f6d4d4"/>
<rect x="283.2" y="350.85" width="5.65" height="1.50" fill="#fbecec"/>
<rect x="288.8" y="350.85" width="5.45" height="1.50" fill="#faeaea"/>
<rect x="294.2" y="350.85" width="6.05" height="1.50" fill="#b3badf"/>
<rect x="300.2" y="350.85" width="5.95" height="1.50" fill="#c6cbe7"/>
<rect x="306.1" y="350.85" width="5.95" height="1.50" fill="#adb4dc"/>
<rect x="312.0" y="350.85" width="6.05" height="1.50" fill="#aeb5dd"/>
<rect x="318.0" y="350.85" width="8.55" height="1.50" fill="#f1b9b9"/>
<rect x="326.5" y="350.85" width="8.45" height="1.50" fill="#fdf8f8"/>
<rect x="271.2" y="352.30" width="6.35" height="1.50" fill="#e99494"/>
<rect x="277.5" y="352.30" width="5.75" height="1.50" fill="#fae6e6"/>
<rect x="283.2" y="352.30" width="5.65" height="1.50" fill="#f5d1d1"/>
<rect x="288.8" y="352.30" width="5.45" height="1.50" fill="#fefafa"/>
<rect x="294.2" y="352.30" width="6.05" height="1.50" fill="#6e7ac2"/>
<rect x="300.2" y="352.30" width="5.95" height="1.50" fill="#a4acd8"/>
<rect x="306.1" y="352.30" width="5.95" height="1.50" fill="#8994cd"/>
<rect x="312.0" y="352.30" width="6.05" height="1.50" fill="#5765b8"/>
<rect x="318.0" y="352.30" width="8.55" height="1.50" fill="#e99191"/>
<rect x="326.5" y="352.30" width="8.45" height="1.50" fill="#fdf7f7"/>
<rect x="271.2" y="353.75" width="6.35" height="1.50" fill="#ea9595"/>
<rect x="277.5" y="353.75" width="5.75" height="1.50" fill="#faeaea"/>
<rect x="283.2" y="353.75" width="5.65" height="1.50" fill="#fbeeee"/>
<rect x="288.8" y="353.75" width="5.45" height="1.50" fill="#fefefe"/>
<rect x="294.2" y="353.75" width="6.05" height="1.50" fill="#727ec3"/>
<rect x="300.2" y="353.75" width="5.95" height="1.50" fill="#7682c5"/>
<rect x="306.1" y="353.75" width="5.95" height="1.50" fill="#6d7ac1"/>
<rect x="312.0" y="353.75" width="6.05" height="1.50" fill="#5665b8"/>
<rect x="318.0" y="353.75" width="8.55" height="1.50" fill="#eca0a0"/>
<rect x="326.5" y="353.75" width="8.45" height="1.50" fill="#f7f7fb"/>
<rect x="271.2" y="355.20" width="6.35" height="1.50" fill="#f4c8c8"/>
<rect x="277.5" y="355.20" width="5.75" height="1.50" fill="#fdfdfe"/>
<rect x="283.2" y="355.20" width="5.65" height="1.50" fill="#fae8e8"/>
<rect x="288.8" y="355.20" width="5.45" height="1.50" fill="#fdf7f7"/>
<rect x="294.2" y="355.20" width="6.05" height="1.50" fill="#b0b7de"/>
<rect x="300.2" y="355.20" width="5.95" height="1.50" fill="#b8bee1"/>
<rect x="306.1" y="355.20" width="5.95" height="1.50" fill="#cdd1ea"/>
<rect x="312.0" y="355.20" width="6.05" height="1.50" fill="#b2b8de"/>
<rect x="318.0" y="355.20" width="8.55" height="1.50" fill="#f0b7b7"/>
<rect x="326.5" y="355.20" width="8.45" height="1.50" fill="#e2e4f2"/>
<rect x="271.2" y="356.65" width="6.35" height="1.50" fill="#f9e0e0"/>
<rect x="277.5" y="356.65" width="5.75" height="1.50" fill="#fdf5f5"/>
<rect x="283.2" y="356.65" width="5.65" height="1.50" fill="#faeaea"/>
<rect x="288.8" y="356.65" width="5.45" height="1.50" fill="#fdfdfe"/>
<rect x="294.2" y="356.65" width="6.05" height="1.50" fill="#c1c6e5"/>
<rect x="300.2" y="356.65" width="5.95" height="1.50" fill="#b3b9df"/>
<rect x="306.1" y="356.65" width="5.95" height="1.50" fill="#c2c7e5"/>
<rect x="312.0" y="356.65" width="6.05" height="1.50" fill="#9ca4d5"/>
<rect x="318.0" y="356.65" width="8.55" height="1.50" fill="#f3c5c5"/>
<rect x="326.5" y="356.65" width="8.45" height="1.50" fill="#fcf1f1"/>
<rect x="271.2" y="358.10" width="6.35" height="1.50" fill="#eda8a8"/>
<rect x="277.5" y="358.10" width="5.75" height="1.50" fill="#f5cdcd"/>
<rect x="283.2" y="358.10" width="5.65" height="1.50" fill="#fbeeee"/>
<rect x="288.8" y="358.10" width="5.45" height="1.50" fill="#fefafa"/>
<rect x="294.2" y="358.10" width="6.05" height="1.50" fill="#7480c4"/>
<rect x="300.2" y="358.10" width="5.95" height="1.50" fill="#bfc5e4"/>
<rect x="306.1" y="358.10" width="5.95" height="1.50" fill="#969fd2"/>
<rect x="312.0" y="358.10" width="6.05" height="1.50" fill="#7f8ac9"/>
<rect x="318.0" y="358.10" width="8.55" height="1.50" fill="#e99393"/>
<rect x="326.5" y="358.10" width="8.45" height="1.50" fill="#f9e2e2"/>
<rect x="271.2" y="359.55" width="6.35" height="1.50" fill="#f3c4c4"/>
<rect x="277.5" y="359.55" width="5.75" height="1.50" fill="#f9e5e5"/>
<rect x="283.2" y="359.55" width="5.65" height="1.50" fill="#fcf4f4"/>
<rect x="288.8" y="359.55" width="5.45" height="1.50" fill="#f8f8fc"/>
<rect x="294.2" y="359.55" width="6.05" height="1.50" fill="#b5bbe0"/>
<rect x="300.2" y="359.55" width="5.95" height="1.50" fill="#919bd1"/>
<rect x="306.1" y="359.55" width="5.95" height="1.50" fill="#aeb5dd"/>
<rect x="312.0" y="359.55" width="6.05" height="1.50" fill="#a3abd8"/>
<rect x="318.0" y="359.55" width="8.55" height="1.50" fill="#e99393"/>
<rect x="326.5" y="359.55" width="8.45" height="1.50" fill="#fcf0f0"/>
<rect x="271.2" y="361.00" width="6.35" height="1.50" fill="#fbeded"/>
<rect x="277.5" y="361.00" width="5.75" height="1.50" fill="#fdf6f6"/>
<rect x="283.2" y="361.00" width="5.65" height="1.50" fill="#fcf2f2"/>
<rect x="288.8" y="361.00" width="5.45" height="1.50" fill="#fbeded"/>
<rect x="294.2" y="361.00" width="6.05" height="1.50" fill="#c2c7e5"/>
<rect x="300.2" y="361.00" width="5.95" height="1.50" fill="#dde0f0"/>
<rect x="306.1" y="361.00" width="5.95" height="1.50" fill="#ecedf7"/>
<rect x="312.0" y="361.00" width="6.05" height="1.50" fill="#f0f1f8"/>
<rect x="318.0" y="361.00" width="8.55" height="1.50" fill="#f3c7c7"/>
<rect x="326.5" y="361.00" width="8.45" height="1.50" fill="#fdfdfe"/>
<rect x="271.2" y="362.45" width="6.35" height="1.50" fill="#e68181"/>
<rect x="277.5" y="362.45" width="5.75" height="1.50" fill="#f6d4d4"/>
<rect x="283.2" y="362.45" width="5.65" height="1.50" fill="#f7dbdb"/>
<rect x="288.8" y="362.45" width="5.45" height="1.50" fill="#fae6e6"/>
<rect x="294.2" y="362.45" width="6.05" height="1.50" fill="#818cca"/>
<rect x="300.2" y="362.45" width="5.95" height="1.50" fill="#858fcb"/>
<rect x="306.1" y="362.45" width="5.95" height="1.50" fill="#9ba3d5"/>
<rect x="312.0" y="362.45" width="6.05" height="1.50" fill="#7b86c7"/>
<rect x="318.0" y="362.45" width="8.55" height="1.50" fill="#eb9a9a"/>
<rect x="326.5" y="362.45" width="8.45" height="1.50" fill="#fefafa"/>
<rect x="271.2" y="363.90" width="6.35" height="1.50" fill="#f1b8b8"/>
<rect x="277.5" y="363.90" width="5.75" height="1.50" fill="#fefcfc"/>
<rect x="283.2" y="363.90" width="5.65" height="1.50" fill="#fbeded"/>
<rect x="288.8" y="363.90" width="5.45" height="1.50" fill="#fcf3f3"/>
<rect x="294.2" y="363.90" width="6.05" height="1.50" fill="#b2b8de"/>
<rect x="300.2" y="363.90" width="5.95" height="1.50" fill="#b1b7de"/>
<rect x="306.1" y="363.90" width="5.95" height="1.50" fill="#bec4e3"/>
<rect x="312.0" y="363.90" width="6.05" height="1.50" fill="#c5cae6"/>
<rect x="318.0" y="363.90" width="8.55" height="1.50" fill="#f3c4c4"/>
<rect x="326.5" y="363.90" width="8.45" height="1.50" fill="#f9e4e4"/>
<rect x="271.2" y="365.35" width="6.35" height="1.50" fill="#f3c4c4"/>
<rect x="277.5" y="365.35" width="5.75" height="1.50" fill="#fcf1f1"/>
<rect x="283.2" y="365.35" width="5.65" height="1.50" fill="#fcefef"/>
<rect x="288.8" y="365.35" width="5.45" height="1.50" fill="#fae7e7"/>
<rect x="294.2" y="365.35" width="6.05" height="1.50" fill="#959ed2"/>
<rect x="300.2" y="365.35" width="5.95" height="1.50" fill="#a5add9"/>
<rect x="306.1" y="365.35" width="5.95" height="1.50" fill="#9ba4d5"/>
<rect x="312.0" y="365.35" width="6.05" height="1.50" fill="#7985c6"/>
<rect x="318.0" y="365.35" width="8.55" height="1.50" fill="#eda9a9"/>
<rect x="326.5" y="365.35" width="8.45" height="1.50" fill="#f9fafc"/>
<rect x="271.2" y="366.80" width="6.35" height="1.50" fill="#f1b8b8"/>
<rect x="277.5" y="366.80" width="5.75" height="1.50" fill="#faeaea"/>
<rect x="283.2" y="366.80" width="5.65" height="1.50" fill="#fdf7f7"/>
<rect x="288.8" y="366.80" width="5.45" height="1.50" fill="#fae9e9"/>
<rect x="294.2" y="366.80" width="6.05" height="1.50" fill="#bac0e2"/>
<rect x="300.2" y="366.80" width="5.95" height="1.50" fill="#ccd1e9"/>
<rect x="306.1" y="366.80" width="5.95" height="1.50" fill="#b7bee1"/>
<rect x="312.0" y="366.80" width="6.05" height="1.50" fill="#a7aeda"/>
<rect x="318.0" y="366.80" width="8.55" height="1.50" fill="#eeadad"/>
<rect x="326.5" y="366.80" width="8.45" height="1.50" fill="#fbeded"/>
<rect x="271.2" y="368.25" width="6.35" height="1.50" fill="#efafaf"/>
<rect x="277.5" y="368.25" width="5.75" height="1.50" fill="#f7d7d7"/>
<rect x="283.2" y="368.25" width="5.65" height="1.50" fill="#f6d3d3"/>
<rect x="288.8" y="368.25" width="5.45" height="1.50" fill="#fdf6f6"/>
<rect x="294.2" y="368.25" width="6.05" height="1.50" fill="#bec4e3"/>
<rect x="300.2" y="368.25" width="5.95" height="1.50" fill="#c7cce7"/>
<rect x="306.1" y="368.25" width="5.95" height="1.50" fill="#bac0e2"/>
<rect x="312.0" y="368.25" width="6.05" height="1.50" fill="#bbc1e2"/>
<rect x="318.0" y="368.25" width="8.55" height="1.50" fill="#f3c3c3"/>
<rect x="326.5" y="368.25" width="8.45" height="1.50" fill="#fefafa"/>
<rect x="271.2" y="369.70" width="6.35" height="1.50" fill="#e78888"/>
<rect x="277.5" y="369.70" width="5.75" height="1.50" fill="#f9e0e0"/>
<rect x="283.2" y="369.70" width="5.65" height="1.50" fill="#f6d5d5"/>
<rect x="288.8" y="369.70" width="5.45" height="1.50" fill="#fbeeee"/>
<rect x="294.2" y="369.70" width="6.05" height="1.50" fill="#808bc9"/>
<rect x="300.2" y="369.70" width="5.95" height="1.50" fill="#8993cd"/>
<rect x="306.1" y="369.70" width="5.95" height="1.50" fill="#6a77c0"/>
<rect x="312.0" y="369.70" width="6.05" height="1.50" fill="#6d79c1"/>
<rect x="318.0" y="369.70" width="8.55" height="1.50" fill="#eb9a9a"/>
<rect x="326.5" y="369.70" width="8.45" height="1.50" fill="#fbeded"/>
<rect x="271.2" y="371.15" width="6.35" height="1.50" fill="#f2c0c0"/>
<rect x="277.5" y="371.15" width="5.75" height="1.50" fill="#fae8e8"/>
<rect x="283.2" y="371.15" width="5.65" height="1.50" fill="#fbeeee"/>
<rect x="288.8" y="371.15" width="5.45" height="1.50" fill="#fefafa"/>
<rect x="294.2" y="371.15" width="6.05" height="1.50" fill="#cdd1ea"/>
<rect x="300.2" y="371.15" width="5.95" height="1.50" fill="#b1b8de"/>
<rect x="306.1" y="371.15" width="5.95" height="1.50" fill="#b8bee1"/>
<rect x="312.0" y="371.15" width="6.05" height="1.50" fill="#bfc4e4"/>
<rect x="318.0" y="371.15" width="8.55" height="1.50" fill="#f4c8c8"/>
<rect x="326.5" y="371.15" width="8.45" height="1.50" fill="#fef9f9"/>
<rect x="271.2" y="372.60" width="6.35" height="1.50" fill="#f4c7c7"/>
<rect x="277.5" y="372.60" width="5.75" height="1.50" fill="#fdf8f8"/>
<rect x="283.2" y="372.60" width="5.65" height="1.50" fill="#fdfdfe"/>
<rect x="288.8" y="372.60" width="5.45" height="1.50" fill="#fcf3f3"/>
<rect x="294.2" y="372.60" width="6.05" height="1.50" fill="#c0c5e4"/>
<rect x="300.2" y="372.60" width="5.95" height="1.50" fill="#dadeef"/>
<rect x="306.1" y="372.60" width="5.95" height="1.50" fill="#ccd1e9"/>
<rect x="312.0" y="372.60" width="6.05" height="1.50" fill="#c6cbe7"/>
<rect x="318.0" y="372.60" width="8.55" height="1.50" fill="#f3c5c5"/>
<rect x="326.5" y="372.60" width="8.45" height="1.50" fill="#f9fafc"/>
<rect x="271.2" y="374.05" width="6.35" height="1.50" fill="#f8dddd"/>
<rect x="277.5" y="374.05" width="5.75" height="1.50" fill="#f4c8c8"/>
<rect x="283.2" y="374.05" width="5.65" height="1.50" fill="#fdfdfe"/>
<rect x="288.8" y="374.05" width="5.45" height="1.50" fill="#fefbfb"/>
<rect x="294.2" y="374.05" width="6.05" height="1.50" fill="#bcc2e2"/>
<rect x="300.2" y="374.05" width="5.95" height="1.50" fill="#c4c9e6"/>
<rect x="306.1" y="374.05" width="5.95" height="1.50" fill="#b9bfe1"/>
<rect x="312.0" y="374.05" width="6.05" height="1.50" fill="#9fa8d6"/>
<rect x="318.0" y="374.05" width="8.55" height="1.50" fill="#f6d6d6"/>
<rect x="326.5" y="374.05" width="8.45" height="1.50" fill="#f1f3f9"/>
<rect x="271.2" y="375.50" width="6.35" height="1.50" fill="#c7cce7"/>
<rect x="277.5" y="375.50" width="5.75" height="1.50" fill="#d0d4eb"/>
<rect x="283.2" y="375.50" width="5.65" height="1.50" fill="#dde0f0"/>
<rect x="288.8" y="375.50" width="5.45" height="1.50" fill="#d2d5ec"/>
<rect x="294.2" y="375.50" width="6.05" height="1.50" fill="#b0b7de"/>
<rect x="300.2" y="375.50" width="5.95" height="1.50" fill="#9da6d6"/>
<rect x="306.1" y="375.50" width="5.95" height="1.50" fill="#949dd2"/>
<rect x="312.0" y="375.50" width="6.05" height="1.50" fill="#909ad0"/>
<rect x="318.0" y="375.50" width="8.55" height="1.50" fill="#f0b5b5"/>
<rect x="326.5" y="375.50" width="8.45" height="1.50" fill="#f5cdcd"/>
<rect x="271.2" y="376.95" width="6.35" height="0.90" fill="#ced2ea"/>
<rect x="277.5" y="376.95" width="5.75" height="0.90" fill="#d1d5eb"/>
<rect x="283.2" y="376.95" width="5.65" height="0.90" fill="#d7daee"/>
<rect x="288.8" y="376.95" width="5.45" height="0.90" fill="#ced2ea"/>
<rect x="294.2" y="376.95" width="6.05" height="0.90" fill="#a7aeda"/>
<rect x="300.2" y="376.95" width="5.95" height="0.90" fill="#a1a9d7"/>
<rect x="306.1" y="376.95" width="5.95" height="0.90" fill="#8590cb"/>
<rect x="312.0" y="376.95" width="6.05" height="0.90" fill="#838eca"/>
<rect x="318.0" y="376.95" width="8.55" height="0.90" fill="#f3c3c3"/>
<rect x="326.5" y="376.95" width="8.45" height="0.90" fill="#f4c8c8"/>
<text x="338" y="237.3" font-size="6.6" text-anchor="start" fill="#151515" stroke="#151515" stroke-width="0.12" font-weight="normal" >WWTR1</text>
<text x="338" y="242.55" font-size="6.6" text-anchor="start" fill="#151515" stroke="#151515" stroke-width="0.12" font-weight="normal" >NFKB1</text>
<text x="338" y="247.8" font-size="6.6" text-anchor="start" fill="#151515" stroke="#151515" stroke-width="0.12" font-weight="normal" >TNFAIP3</text>
<text x="338" y="253.05" font-size="6.6" text-anchor="start" fill="#151515" stroke="#151515" stroke-width="0.12" font-weight="normal" >SOD2</text>
<text x="338" y="258.3" font-size="6.6" text-anchor="start" fill="#151515" stroke="#151515" stroke-width="0.12" font-weight="normal" >NFKBIA</text>
<text x="338" y="263.55" font-size="6.6" text-anchor="start" fill="#151515" stroke="#151515" stroke-width="0.12" font-weight="normal" >L1CAM</text>
<text x="338" y="287.8" font-size="6.6" text-anchor="start" fill="#151515" stroke="#151515" stroke-width="0.12" font-weight="normal" >MSMO1</text>
<text x="338" y="292.9" font-size="6.6" text-anchor="start" fill="#151515" stroke="#151515" stroke-width="0.12" font-weight="normal" >HMGCS1</text>
<text x="338" y="298.0" font-size="6.6" text-anchor="start" fill="#151515" stroke="#151515" stroke-width="0.12" font-weight="normal" >HMGCR</text>
<text x="338" y="303.1" font-size="6.6" text-anchor="start" fill="#151515" stroke="#151515" stroke-width="0.12" font-weight="normal" >INSIG1</text>
<text x="338" y="308.2" font-size="6.6" text-anchor="start" fill="#151515" stroke="#151515" stroke-width="0.12" font-weight="normal" >FDFT1</text>
<text x="338" y="313.3" font-size="6.6" text-anchor="start" fill="#151515" stroke="#151515" stroke-width="0.12" font-weight="normal" >SCD</text>
<text x="338" y="318.4" font-size="6.6" text-anchor="start" fill="#151515" stroke="#151515" stroke-width="0.12" font-weight="normal" >SC5D</text>
<text x="338" y="323.5" font-size="6.6" text-anchor="start" fill="#151515" stroke="#151515" stroke-width="0.12" font-weight="normal" >LDLR</text>
<text x="338" y="328.6" font-size="6.6" text-anchor="start" fill="#151515" stroke="#151515" stroke-width="0.12" font-weight="normal" >ACSS2</text>
<rect x="275.6" y="382" width="5.2" height="4" fill="#c9c9cf"/>
<text x="282" y="386.4" font-size="6.9" text-anchor="start" fill="#222" stroke="#222" stroke-width="0" font-weight="normal" >IDH-WT-hGICs</text>
<rect x="275.6" y="389" width="5.2" height="3.6" fill="#22a04a"/>
<text x="282" y="394.3" font-size="6.9" fill="#222">MGT#1<tspan font-size="4.2" dy="-2.6">hi</tspan><tspan dy="2.6">+hMG</tspan></text>
<rect x="275.6" y="396.3" width="5.2" height="3.6" fill="#d23a32"/>
<text x="282" y="402" font-size="6.9" fill="#222">MGT#1<tspan font-size="4.2" dy="-2.6">hi</tspan><tspan dy="2.6">+TNFα</tspan></text>
<defs><linearGradient id="zg" x1="0" x2="1" y1="0" y2="0"><stop offset="0" stop-color="#2a3c9e"/><stop offset="0.5" stop-color="#f4f2f6"/><stop offset="1" stop-color="#d42a2a"/></linearGradient></defs>
<rect x="282.5" y="406.3" width="44" height="3.9" fill="url(#zg)"/>
<text x="281.5" y="410.2" font-size="6.9" text-anchor="end" fill="#222" stroke="#222" stroke-width="0" font-weight="normal" >−2</text>
<text x="327.2" y="410.2" font-size="6.9" text-anchor="start" fill="#222" stroke="#222" stroke-width="0" font-weight="normal" >2</text>
<text x="304" y="418.4" font-size="6.9" text-anchor="middle" fill="#222"><tspan font-style="italic">Z</tspan>-scores (log<tspan font-size="4.6" dy="1.6">2</tspan><tspan dy="-1.6">)</tspan></text>
<text x="396.4" y="266" font-size="10.6" text-anchor="start" fill="#111" stroke="#111" stroke-width="0" font-weight="bold" >F</text>
<line x1="454" y1="269.5" x2="447.5" y2="313.5" stroke="#b9dde0" stroke-width="0.6"/>
<line x1="454" y1="269.5" x2="452" y2="322.5" stroke="#f2d2b6" stroke-width="0.6"/>
<line x1="441.5" y1="275" x2="447.5" y2="313.5" stroke="#f2d2b6" stroke-width="0.6"/>
<line x1="441.5" y1="275" x2="452" y2="322.5" stroke="#b9dde0" stroke-width="0.6"/>
<line x1="461.7" y1="276.5" x2="447.5" y2="313.5" stroke="#b9dde0" stroke-width="0.6"/>
<line x1="461.7" y1="276.5" x2="452" y2="322.5" stroke="#b9dde0" stroke-width="0.6"/>
<line x1="470.4" y1="278.8" x2="447.5" y2="313.5" stroke="#f2d2b6" stroke-width="0.6"/>
<line x1="470.4" y1="278.8" x2="452" y2="322.5" stroke="#f2d2b6" stroke-width="0.6"/>
<line x1="432.3" y1="281.2" x2="447.5" y2="313.5" stroke="#b9dde0" stroke-width="0.6"/>
<line x1="432.3" y1="281.2" x2="452" y2="322.5" stroke="#b9dde0" stroke-width="0.6"/>
<line x1="481" y1="284" x2="447.5" y2="313.5" stroke="#f2d2b6" stroke-width="0.6"/>
<line x1="481" y1="284" x2="452" y2="322.5" stroke="#b9dde0" stroke-width="0.6"/>
<line x1="423.4" y1="285.8" x2="447.5" y2="313.5" stroke="#b9dde0" stroke-width="0.6"/>
<line x1="423.4" y1="285.8" x2="452" y2="322.5" stroke="#f2d2b6" stroke-width="0.6"/>
<line x1="488.8" y1="289" x2="447.5" y2="313.5" stroke="#f2d2b6" stroke-width="0.6"/>
<line x1="488.8" y1="289" x2="452" y2="322.5" stroke="#b9dde0" stroke-width="0.6"/>
<line x1="415.4" y1="292.4" x2="447.5" y2="313.5" stroke="#b9dde0" stroke-width="0.6"/>
<line x1="415.4" y1="292.4" x2="452" y2="322.5" stroke="#b9dde0" stroke-width="0.6"/>
<line x1="496.3" y1="296.7" x2="447.5" y2="313.5" stroke="#f2d2b6" stroke-width="0.6"/>
<line x1="496.3" y1="296.7" x2="452" y2="322.5" stroke="#f2d2b6" stroke-width="0.6"/>
<line x1="409.5" y1="301.5" x2="447.5" y2="313.5" stroke="#b9dde0" stroke-width="0.6"/>
<line x1="409.5" y1="301.5" x2="452" y2="322.5" stroke="#b9dde0" stroke-width="0.6"/>
<line x1="501.2" y1="306.2" x2="447.5" y2="313.5" stroke="#f2d2b6" stroke-width="0.6"/>
<line x1="501.2" y1="306.2" x2="452" y2="322.5" stroke="#b9dde0" stroke-width="0.6"/>
<line x1="406" y1="311.6" x2="447.5" y2="313.5" stroke="#b9dde0" stroke-width="0.6"/>
<line x1="406" y1="311.6" x2="452" y2="322.5" stroke="#f2d2b6" stroke-width="0.6"/>
<line x1="502.7" y1="317" x2="447.5" y2="313.5" stroke="#f2d2b6" stroke-width="0.6"/>
<line x1="502.7" y1="317" x2="452" y2="322.5" stroke="#b9dde0" stroke-width="0.6"/>
<line x1="404.6" y1="322.2" x2="447.5" y2="313.5" stroke="#b9dde0" stroke-width="0.6"/>
<line x1="404.6" y1="322.2" x2="452" y2="322.5" stroke="#b9dde0" stroke-width="0.6"/>
<line x1="502.7" y1="327.3" x2="447.5" y2="313.5" stroke="#f2d2b6" stroke-width="0.6"/>
<line x1="502.7" y1="327.3" x2="452" y2="322.5" stroke="#f2d2b6" stroke-width="0.6"/>
<line x1="406.5" y1="333" x2="447.5" y2="313.5" stroke="#b9dde0" stroke-width="0.6"/>
<line x1="406.5" y1="333" x2="452" y2="322.5" stroke="#b9dde0" stroke-width="0.6"/>
<line x1="501.2" y1="338" x2="447.5" y2="313.5" stroke="#f2d2b6" stroke-width="0.6"/>
<line x1="501.2" y1="338" x2="452" y2="322.5" stroke="#b9dde0" stroke-width="0.6"/>
<line x1="409.8" y1="342.9" x2="447.5" y2="313.5" stroke="#b9dde0" stroke-width="0.6"/>
<line x1="409.8" y1="342.9" x2="452" y2="322.5" stroke="#f2d2b6" stroke-width="0.6"/>
<line x1="496.9" y1="345.8" x2="447.5" y2="313.5" stroke="#f2d2b6" stroke-width="0.6"/>
<line x1="496.9" y1="345.8" x2="452" y2="322.5" stroke="#b9dde0" stroke-width="0.6"/>
<line x1="415.5" y1="351.5" x2="447.5" y2="313.5" stroke="#b9dde0" stroke-width="0.6"/>
<line x1="415.5" y1="351.5" x2="452" y2="322.5" stroke="#b9dde0" stroke-width="0.6"/>
<line x1="488.8" y1="356" x2="447.5" y2="313.5" stroke="#f2d2b6" stroke-width="0.6"/>
<line x1="488.8" y1="356" x2="452" y2="322.5" stroke="#f2d2b6" stroke-width="0.6"/>
<line x1="422" y1="359" x2="447.5" y2="313.5" stroke="#b9dde0" stroke-width="0.6"/>
<line x1="422" y1="359" x2="452" y2="322.5" stroke="#b9dde0" stroke-width="0.6"/>
<line x1="481" y1="361" x2="447.5" y2="313.5" stroke="#f2d2b6" stroke-width="0.6"/>
<line x1="481" y1="361" x2="452" y2="322.5" stroke="#b9dde0" stroke-width="0.6"/>
<line x1="432" y1="364" x2="447.5" y2="313.5" stroke="#b9dde0" stroke-width="0.6"/>
<line x1="432" y1="364" x2="452" y2="322.5" stroke="#f2d2b6" stroke-width="0.6"/>
<line x1="441.5" y1="369.5" x2="447.5" y2="313.5" stroke="#f2d2b6" stroke-width="0.6"/>
<line x1="441.5" y1="369.5" x2="452" y2="322.5" stroke="#b9dde0" stroke-width="0.6"/>
<line x1="452.2" y1="368.8" x2="447.5" y2="313.5" stroke="#b9dde0" stroke-width="0.6"/>
<line x1="452.2" y1="368.8" x2="452" y2="322.5" stroke="#b9dde0" stroke-width="0.6"/>
<line x1="473.3" y1="366.8" x2="447.5" y2="313.5" stroke="#f2d2b6" stroke-width="0.6"/>
<line x1="473.3" y1="366.8" x2="452" y2="322.5" stroke="#f2d2b6" stroke-width="0.6"/>
<line x1="447.5" y1="370" x2="447.5" y2="313.5" stroke="#b9dde0" stroke-width="0.6"/>
<line x1="447.5" y1="370" x2="452" y2="322.5" stroke="#b9dde0" stroke-width="0.6"/>
<circle cx="454" cy="269.5" r="0.8" fill="#3d8f9a"/>
<text x="453.5" y="266.5" font-size="5.4" text-anchor="middle" fill="#1e1e1e" stroke="#1e1e1e" stroke-width="0.1" font-weight="normal" >FBOX32</text>
<circle cx="441.5" cy="275" r="0.8" fill="#3d8f9a"/>
<text x="440" y="272.3" font-size="5.4" text-anchor="middle" fill="#1e1e1e" stroke="#1e1e1e" stroke-width="0.1" font-weight="normal" >FABP3</text>
<circle cx="461.7" cy="276.5" r="0.8" fill="#3d8f9a"/>
<text x="463.8" y="272.3" font-size="5.4" text-anchor="middle" fill="#1e1e1e" stroke="#1e1e1e" stroke-width="0.1" font-weight="normal" >FDFT1</text>
<circle cx="470.4" cy="278.8" r="0.8" fill="#3d8f9a"/>
<text x="480" y="274.8" font-size="5.4" text-anchor="middle" fill="#1e1e1e" stroke="#1e1e1e" stroke-width="0.1" font-weight="normal" >GPX3</text>
<circle cx="432.3" cy="281.2" r="0.8" fill="#3d8f9a"/>
<text x="421" y="279.7" font-size="5.4" text-anchor="middle" fill="#1e1e1e" stroke="#1e1e1e" stroke-width="0.1" font-weight="normal" >ELOVL6</text>
<circle cx="481" cy="284" r="0.8" fill="#3d8f9a"/>
<text x="490" y="280.8" font-size="5.4" text-anchor="middle" fill="#1e1e1e" stroke="#1e1e1e" stroke-width="0.1" font-weight="normal" >HMGCR</text>
<circle cx="423.4" cy="285.8" r="0.8" fill="#3d8f9a"/>
<text x="412.3" y="285" font-size="5.4" text-anchor="middle" fill="#1e1e1e" stroke="#1e1e1e" stroke-width="0.1" font-weight="normal" >DHCR7</text>
<circle cx="488.8" cy="289" r="0.8" fill="#3d8f9a"/>
<text x="498.5" y="288" font-size="5.4" text-anchor="middle" fill="#1e1e1e" stroke="#1e1e1e" stroke-width="0.1" font-weight="normal" >HMGCS1</text>
<circle cx="415.4" cy="292.4" r="0.8" fill="#3d8f9a"/>
<text x="413.5" y="292.7" font-size="5.4" text-anchor="end" fill="#1e1e1e" stroke="#1e1e1e" stroke-width="0.1" font-weight="normal" >ADGRG1</text>
<circle cx="496.3" cy="296.7" r="0.8" fill="#3d8f9a"/>
<text x="497" y="297.6" font-size="5.4" text-anchor="start" fill="#1e1e1e" stroke="#1e1e1e" stroke-width="0.1" font-weight="normal" >INSIG1</text>
<circle cx="409.5" cy="301.5" r="0.8" fill="#3d8f9a"/>
<text x="405" y="302.4" font-size="5.4" text-anchor="end" fill="#1e1e1e" stroke="#1e1e1e" stroke-width="0.1" font-weight="normal" >ACSS2</text>
<circle cx="501.2" cy="306.2" r="0.8" fill="#3d8f9a"/>
<text x="504.7" y="307.4" font-size="5.4" text-anchor="start" fill="#1e1e1e" stroke="#1e1e1e" stroke-width="0.1" font-weight="normal" >IRS2</text>
<circle cx="406" cy="311.6" r="0.8" fill="#3d8f9a"/>
<text x="401.2" y="313.2" font-size="5.4" text-anchor="end" fill="#1e1e1e" stroke="#1e1e1e" stroke-width="0.1" font-weight="normal" >ACSL4</text>
<circle cx="502.7" cy="317" r="0.8" fill="#3d8f9a"/>
<text x="505.6" y="319" font-size="5.4" text-anchor="start" fill="#1e1e1e" stroke="#1e1e1e" stroke-width="0.1" font-weight="normal" >LDLR</text>
<circle cx="404.6" cy="322.2" r="0.8" fill="#3d8f9a"/>
<text x="401.2" y="324.2" font-size="5.4" text-anchor="end" fill="#1e1e1e" stroke="#1e1e1e" stroke-width="0.1" font-weight="normal" >ABCD2</text>
<circle cx="502.7" cy="327.3" r="0.8" fill="#3d8f9a"/>
<text x="505" y="330" font-size="5.4" text-anchor="start" fill="#1e1e1e" stroke="#1e1e1e" stroke-width="0.1" font-weight="normal" >LPIN1</text>
<circle cx="406.5" cy="333" r="0.8" fill="#3d8f9a"/>
<text x="404.5" y="335.2" font-size="5.4" text-anchor="end" fill="#1e1e1e" stroke="#1e1e1e" stroke-width="0.1" font-weight="normal" >TMEM97</text>
<circle cx="501.2" cy="338" r="0.8" fill="#3d8f9a"/>
<text x="504.7" y="341.4" font-size="5.4" text-anchor="start" fill="#1e1e1e" stroke="#1e1e1e" stroke-width="0.1" font-weight="normal" >LSS</text>
<circle cx="409.8" cy="342.9" r="0.8" fill="#3d8f9a"/>
<text x="407.5" y="346.3" font-size="5.4" text-anchor="end" fill="#1e1e1e" stroke="#1e1e1e" stroke-width="0.1" font-weight="normal" >STARD4</text>
<circle cx="496.9" cy="345.8" r="0.8" fill="#3d8f9a"/>
<text x="494.6" y="352.4" font-size="5.4" text-anchor="start" fill="#1e1e1e" stroke="#1e1e1e" stroke-width="0.1" font-weight="normal" >MEF2C</text>
<circle cx="415.5" cy="351.5" r="0.8" fill="#3d8f9a"/>
<text x="414.5" y="356" font-size="5.4" text-anchor="end" fill="#1e1e1e" stroke="#1e1e1e" stroke-width="0.1" font-weight="normal" >SELENOF</text>
<circle cx="488.8" cy="356" r="0.8" fill="#3d8f9a"/>
<text x="487.7" y="361" font-size="5.4" text-anchor="start" fill="#1e1e1e" stroke="#1e1e1e" stroke-width="0.1" font-weight="normal" >MSMO1</text>
<circle cx="422" cy="359" r="0.8" fill="#3d8f9a"/>
<text x="421" y="362" font-size="5.4" text-anchor="end" fill="#1e1e1e" stroke="#1e1e1e" stroke-width="0.1" font-weight="normal" >SCD</text>
<circle cx="481" cy="361" r="0.8" fill="#3d8f9a"/>
<text x="481" y="366.8" font-size="5.4" text-anchor="start" fill="#1e1e1e" stroke="#1e1e1e" stroke-width="0.1" font-weight="normal" >MVD</text>
<circle cx="432" cy="364" r="0.8" fill="#3d8f9a"/>
<text x="431.5" y="367.5" font-size="5.4" text-anchor="end" fill="#1e1e1e" stroke="#1e1e1e" stroke-width="0.1" font-weight="normal" >SC5D</text>
<circle cx="441.5" cy="369.5" r="0.8" fill="#3d8f9a"/>
<text x="440.5" y="375.7" font-size="5.4" text-anchor="end" fill="#1e1e1e" stroke="#1e1e1e" stroke-width="0.1" font-weight="normal" >RETREG1</text>
<circle cx="452.2" cy="368.8" r="0.8" fill="#3d8f9a"/>
<text x="451" y="373.7" font-size="5.4" text-anchor="start" fill="#1e1e1e" stroke="#1e1e1e" stroke-width="0.1" font-weight="normal" >PLA2G6</text>
<circle cx="473.3" cy="366.8" r="0.8" fill="#3d8f9a"/>
<text x="473.8" y="373.7" font-size="5.4" text-anchor="start" fill="#1e1e1e" stroke="#1e1e1e" stroke-width="0.1" font-weight="normal" >NUPR1</text>
<circle cx="447.5" cy="370" r="0.8" fill="#3d8f9a"/>
<text x="450.6" y="378.6" font-size="5.4" text-anchor="middle" fill="#1e1e1e" stroke="#1e1e1e" stroke-width="0.1" font-weight="normal" >PNPLA3</text>
<ellipse cx="458.5" cy="316.5" rx="15" ry="6.5" fill="#e3f5e8" fill-opacity="0.75"/>
<ellipse cx="460.3" cy="327.5" rx="15" ry="6.5" fill="#e3f5e8" fill-opacity="0.75"/>
<text x="0" y="0" font-size="9.4" text-anchor="middle" fill="#6cc894" stroke="#6cc894" stroke-width="0.263" font-weight="normal" transform="translate(458.5 319.6) scale(0.7 1)">SREBF1</text>
<text x="0" y="0" font-size="9.4" text-anchor="middle" fill="#6cc894" stroke="#6cc894" stroke-width="0.263" font-weight="normal" transform="translate(460.3 330.6) scale(0.7 1)">SREBF2</text>
<text x="243.4" y="9.4" font-size="10.6" text-anchor="start" fill="#111" stroke="#111" stroke-width="0" font-weight="bold" >D</text>
<rect x="278.5" y="15.4" width="58.0" height="58.4" fill="#fff" stroke="#ccc" stroke-width="0.5"/>
<rect x="309.6" y="15.700000000000001" width="25.399999999999977" height="58.1" fill="#dcdcdc"/>
<rect x="339.3" y="15.4" width="58.39999999999998" height="58.4" fill="#fff" stroke="#ccc" stroke-width="0.5"/>
<rect x="370" y="15.700000000000001" width="26" height="58.1" fill="#f9d0e1"/>
<rect x="400.4" y="15.4" width="61.60000000000002" height="58.4" fill="#fff" stroke="#ccc" stroke-width="0.5"/>
<rect x="432.7" y="15.700000000000001" width="26.900000000000034" height="58.1" fill="#cdeedb"/>
<path d="M290.5,73.8 L290.5,72.9 L291.8,72.1 L293.0,70.7 L295.0,64.3 L297.0,49.7 L299.0,32.1 L300.5,22.9 L301.5,21.4 L302.5,25.5 L304.0,32.2 L306.0,42.0 L308.0,52.1 L310.0,60.1 L311.5,62.9 L313.0,66.5 L314.5,67.9 L316.0,70.5 L317.3,71.1 L318.7,71.1 L320.0,72.1 L321.3,72.6 L322.7,73.3 L324.0,73.0 L324.0,73.8 Z" fill="#a9a9a9" fill-opacity="1" stroke="#6a6a6a" stroke-width="0.6" />
<clipPath id="clipTg"><path d="M351.5,73.8 L351.5,73.8 L353.0,71.6 L355.0,66.2 L357.0,52.0 L359.0,35.4 L360.5,23.9 L361.4,21.7 L362.5,23.7 L364.0,33.5 L366.0,42.9 L368.0,50.7 L369.2,54.8 L370.5,59.1 L371.8,61.0 L373.0,63.9 L374.5,65.5 L376.0,67.6 L377.5,69.7 L379.0,71.7 L380.5,72.7 L382.0,73.8 L382.0,73.8 Z"/></clipPath>
<path d="M351.5,73.8 L351.5,73.8 L353.0,71.6 L355.0,66.2 L357.0,52.0 L359.0,35.4 L360.5,23.9 L361.4,21.7 L362.5,23.7 L364.0,33.5 L366.0,42.9 L368.0,50.7 L369.2,54.8 L370.5,59.1 L371.8,61.0 L373.0,63.9 L374.5,65.5 L376.0,67.6 L377.5,69.7 L379.0,71.7 L380.5,72.7 L382.0,73.8 L382.0,73.8 Z" fill="#a9a9a9" fill-opacity="1" stroke="#6a6a6a" stroke-width="0.6" />
<path d="M355.0,73.8 L355.0,73.8 L356.5,65.4 L357.5,52.0 L359.0,48.7 L360.5,48.7 L362.0,48.0 L363.5,48.5 L365.0,48.7 L367.0,47.4 L368.5,39.5 L370.0,31.7 L371.5,26.5 L373.0,23.2 L374.2,22.1 L375.5,23.7 L377.0,29.7 L378.5,41.9 L380.0,51.9 L382.0,60.7 L384.0,66.6 L385.2,70.4 L386.5,73.8 L386.5,73.8 Z" fill="#e4609e" fill-opacity="1" stroke="#b03a70" stroke-width="0.6" />
<path d="M355.0,73.8 L355.0,73.8 L356.5,65.4 L357.5,52.0 L359.0,48.7 L360.5,48.7 L362.0,48.0 L363.5,48.5 L365.0,48.7 L367.0,47.4 L368.5,39.5 L370.0,31.7 L371.5,26.5 L373.0,23.2 L374.2,22.1 L375.5,23.7 L377.0,29.7 L378.5,41.9 L380.0,51.9 L382.0,60.7 L384.0,66.6 L385.2,70.4 L386.5,73.8 L386.5,73.8 Z" fill="#a35a80" stroke="none" stroke-width="0.5" clip-path="url(#clipTg)"/>
<clipPath id="clipHg"><path d="M414.0,73.8 L414.0,73.8 L415.5,71.6 L417.5,66.1 L419.5,52.0 L421.5,35.5 L423.0,23.9 L424.0,21.8 L425.0,24.1 L426.5,32.9 L427.8,44.0 L429.5,52.4 L431.5,59.6 L432.8,62.3 L434.0,66.5 L435.4,69.9 L436.7,73.8 L436.7,73.8 Z"/></clipPath>
<path d="M414.0,73.8 L414.0,73.8 L415.5,71.6 L417.5,66.1 L419.5,52.0 L421.5,35.5 L423.0,23.9 L424.0,21.8 L425.0,24.1 L426.5,32.9 L427.8,44.0 L429.5,52.4 L431.5,59.6 L432.8,62.3 L434.0,66.5 L435.4,69.9 L436.7,73.8 L436.7,73.8 Z" fill="#a9a9a9" fill-opacity="1" stroke="#6a6a6a" stroke-width="0.6" />
<path d="M416.0,73.8 L416.0,73.4 L417.5,66.5 L419.0,52.6 L420.9,46.2 L422.4,46.1 L424.0,45.7 L425.3,45.4 L426.5,45.5 L427.8,45.9 L429.0,40.5 L430.5,32.2 L432.0,25.0 L433.2,22.4 L434.1,21.8 L435.0,24.2 L436.0,22.4 L437.2,27.0 L438.9,41.6 L440.5,49.1 L441.8,53.7 L443.1,59.1 L445.0,66.2 L447.3,73.8 L447.3,73.8 Z" fill="#55b585" fill-opacity="1" stroke="#2c7f55" stroke-width="0.6" />
<path d="M416.0,73.8 L416.0,73.4 L417.5,66.5 L419.0,52.6 L420.9,46.2 L422.4,46.1 L424.0,45.7 L425.3,45.4 L426.5,45.5 L427.8,45.9 L429.0,40.5 L430.5,32.2 L432.0,25.0 L433.2,22.4 L434.1,21.8 L435.0,24.2 L436.0,22.4 L437.2,27.0 L438.9,41.6 L440.5,49.1 L441.8,53.7 L443.1,59.1 L445.0,66.2 L447.3,73.8 L447.3,73.8 Z" fill="#618f70" stroke="none" stroke-width="0.5" clip-path="url(#clipHg)"/>
<rect x="278.5" y="6.5" width="58.0" height="8.9" fill="#fff" stroke="#999" stroke-width="0.6"/>
<text x="307.5" y="13.7" font-size="8.3" text-anchor="middle" fill="#222" stroke="#222" stroke-width="0.05" font-weight="normal" >Control</text>
<line x1="278.5" y1="15.4" x2="278.5" y2="73.8" stroke="#888" stroke-width="0.5" />
<line x1="278.5" y1="73.8" x2="336.5" y2="73.8" stroke="#888" stroke-width="0.5" />
<line x1="277.0" y1="73.8" x2="278.5" y2="73.8" stroke="#888" stroke-width="0.5" />
<line x1="277.0" y1="61.4" x2="278.5" y2="61.4" stroke="#888" stroke-width="0.5" />
<line x1="277.0" y1="49.0" x2="278.5" y2="49.0" stroke="#888" stroke-width="0.5" />
<line x1="277.0" y1="36.6" x2="278.5" y2="36.6" stroke="#888" stroke-width="0.5" />
<line x1="277.0" y1="24.2" x2="278.5" y2="24.2" stroke="#888" stroke-width="0.5" />
<line x1="280.4" y1="73.8" x2="280.4" y2="75.3" stroke="#888" stroke-width="0.5" />
<text x="280.4" y="80.8" font-size="4.6" text-anchor="middle" fill="#555">10<tspan font-size="3.2" dy="-1.8">1</tspan></text>
<line x1="292.1" y1="73.8" x2="292.1" y2="75.3" stroke="#888" stroke-width="0.5" />
<text x="292.1" y="80.8" font-size="4.6" text-anchor="middle" fill="#555">10<tspan font-size="3.2" dy="-1.8">2</tspan></text>
<line x1="303.8" y1="73.8" x2="303.8" y2="75.3" stroke="#888" stroke-width="0.5" />
<text x="303.8" y="80.8" font-size="4.6" text-anchor="middle" fill="#555">10<tspan font-size="3.2" dy="-1.8">3</tspan></text>
<line x1="315.5" y1="73.8" x2="315.5" y2="75.3" stroke="#888" stroke-width="0.5" />
<text x="315.5" y="80.8" font-size="4.6" text-anchor="middle" fill="#555">10<tspan font-size="3.2" dy="-1.8">4</tspan></text>
<line x1="327.2" y1="73.8" x2="327.2" y2="75.3" stroke="#888" stroke-width="0.5" />
<text x="327.2" y="80.8" font-size="4.6" text-anchor="middle" fill="#555">10<tspan font-size="3.2" dy="-1.8">5</tspan></text>
<text x="311.20000000000005" y="44.1" font-size="5.7" text-anchor="start" fill="#555" stroke="#555" stroke-width="0.06" font-weight="normal" >mVenus</text>
<text x="311.20000000000005" y="50.5" font-size="5.7" text-anchor="start" fill="#555" stroke="#555" stroke-width="0.06" font-weight="normal" >high</text>
<text x="333.6" y="59.3" font-size="7.1" text-anchor="end" fill="#555" stroke="#555" stroke-width="0.05" font-weight="normal" >9%</text>
<line x1="309.6" y1="61.5" x2="335" y2="61.5" stroke="#555" stroke-width="0.8" />
<line x1="335" y1="60" x2="335" y2="63" stroke="#555" stroke-width="0.6" />
<rect x="339.3" y="6.5" width="58.39999999999998" height="8.9" fill="#fff" stroke="#999" stroke-width="0.6"/>
<text x="368.5" y="13.7" font-size="8.3" text-anchor="middle" fill="#222" stroke="#222" stroke-width="0.05" font-weight="normal" >TNFα</text>
<line x1="339.3" y1="15.4" x2="339.3" y2="73.8" stroke="#888" stroke-width="0.5" />
<line x1="339.3" y1="73.8" x2="397.7" y2="73.8" stroke="#888" stroke-width="0.5" />
<line x1="337.8" y1="73.8" x2="339.3" y2="73.8" stroke="#888" stroke-width="0.5" />
<line x1="337.8" y1="61.4" x2="339.3" y2="61.4" stroke="#888" stroke-width="0.5" />
<line x1="337.8" y1="49.0" x2="339.3" y2="49.0" stroke="#888" stroke-width="0.5" />
<line x1="337.8" y1="36.6" x2="339.3" y2="36.6" stroke="#888" stroke-width="0.5" />
<line x1="337.8" y1="24.2" x2="339.3" y2="24.2" stroke="#888" stroke-width="0.5" />
<line x1="341.2" y1="73.8" x2="341.2" y2="75.3" stroke="#888" stroke-width="0.5" />
<text x="341.2" y="80.8" font-size="4.6" text-anchor="middle" fill="#555">10<tspan font-size="3.2" dy="-1.8">1</tspan></text>
<line x1="352.9" y1="73.8" x2="352.9" y2="75.3" stroke="#888" stroke-width="0.5" />
<text x="352.9" y="80.8" font-size="4.6" text-anchor="middle" fill="#555">10<tspan font-size="3.2" dy="-1.8">2</tspan></text>
<line x1="364.6" y1="73.8" x2="364.6" y2="75.3" stroke="#888" stroke-width="0.5" />
<text x="364.6" y="80.8" font-size="4.6" text-anchor="middle" fill="#555">10<tspan font-size="3.2" dy="-1.8">3</tspan></text>
<line x1="376.3" y1="73.8" x2="376.3" y2="75.3" stroke="#888" stroke-width="0.5" />
<text x="376.3" y="80.8" font-size="4.6" text-anchor="middle" fill="#555">10<tspan font-size="3.2" dy="-1.8">4</tspan></text>
<line x1="388.0" y1="73.8" x2="388.0" y2="75.3" stroke="#888" stroke-width="0.5" />
<text x="388.0" y="80.8" font-size="4.6" text-anchor="middle" fill="#555">10<tspan font-size="3.2" dy="-1.8">5</tspan></text>
<text x="371.6" y="44.1" font-size="5.7" text-anchor="start" fill="#d0407e" stroke="#d0407e" stroke-width="0.06" font-weight="normal" >mVenus</text>
<text x="371.6" y="50.5" font-size="5.7" text-anchor="start" fill="#d0407e" stroke="#d0407e" stroke-width="0.06" font-weight="normal" >high</text>
<text x="394.6" y="59.3" font-size="7.1" text-anchor="end" fill="#d0407e" stroke="#d0407e" stroke-width="0.05" font-weight="normal" >55%</text>
<line x1="370" y1="61.5" x2="396" y2="61.5" stroke="#d0407e" stroke-width="0.8" />
<line x1="396" y1="60" x2="396" y2="63" stroke="#d0407e" stroke-width="0.6" />
<rect x="400.4" y="6.5" width="61.60000000000002" height="8.9" fill="#fff" stroke="#999" stroke-width="0.6"/>
<text x="431.2" y="13.7" font-size="8.3" text-anchor="middle" fill="#222" stroke="#222" stroke-width="0.05" font-weight="normal" >hMG coculture</text>
<line x1="400.4" y1="15.4" x2="400.4" y2="73.8" stroke="#888" stroke-width="0.5" />
<line x1="400.4" y1="73.8" x2="462" y2="73.8" stroke="#888" stroke-width="0.5" />
<line x1="398.9" y1="73.8" x2="400.4" y2="73.8" stroke="#888" stroke-width="0.5" />
<line x1="398.9" y1="61.4" x2="400.4" y2="61.4" stroke="#888" stroke-width="0.5" />
<line x1="398.9" y1="49.0" x2="400.4" y2="49.0" stroke="#888" stroke-width="0.5" />
<line x1="398.9" y1="36.6" x2="400.4" y2="36.6" stroke="#888" stroke-width="0.5" />
<line x1="398.9" y1="24.2" x2="400.4" y2="24.2" stroke="#888" stroke-width="0.5" />
<line x1="402.3" y1="73.8" x2="402.3" y2="75.3" stroke="#888" stroke-width="0.5" />
<text x="402.3" y="80.8" font-size="4.6" text-anchor="middle" fill="#555">10<tspan font-size="3.2" dy="-1.8">1</tspan></text>
<line x1="414.0" y1="73.8" x2="414.0" y2="75.3" stroke="#888" stroke-width="0.5" />
<text x="414.0" y="80.8" font-size="4.6" text-anchor="middle" fill="#555">10<tspan font-size="3.2" dy="-1.8">2</tspan></text>
<line x1="425.7" y1="73.8" x2="425.7" y2="75.3" stroke="#888" stroke-width="0.5" />
<text x="425.7" y="80.8" font-size="4.6" text-anchor="middle" fill="#555">10<tspan font-size="3.2" dy="-1.8">3</tspan></text>
<line x1="437.4" y1="73.8" x2="437.4" y2="75.3" stroke="#888" stroke-width="0.5" />
<text x="437.4" y="80.8" font-size="4.6" text-anchor="middle" fill="#555">10<tspan font-size="3.2" dy="-1.8">4</tspan></text>
<line x1="449.1" y1="73.8" x2="449.1" y2="75.3" stroke="#888" stroke-width="0.5" />
<text x="449.1" y="80.8" font-size="4.6" text-anchor="middle" fill="#555">10<tspan font-size="3.2" dy="-1.8">5</tspan></text>
<text x="434.3" y="44.1" font-size="5.7" text-anchor="start" fill="#3c9c6c" stroke="#3c9c6c" stroke-width="0.06" font-weight="normal" >mVenus</text>
<text x="434.3" y="50.5" font-size="5.7" text-anchor="start" fill="#3c9c6c" stroke="#3c9c6c" stroke-width="0.06" font-weight="normal" >high</text>
<text x="458.20000000000005" y="59.3" font-size="7.1" text-anchor="end" fill="#3c9c6c" stroke="#3c9c6c" stroke-width="0.05" font-weight="normal" >48%</text>
<line x1="432.7" y1="61.5" x2="459.6" y2="61.5" stroke="#3c9c6c" stroke-width="0.8" />
<line x1="459.6" y1="60" x2="459.6" y2="63" stroke="#3c9c6c" stroke-width="0.6" />
<text x="275.6" y="75.4" font-size="4.6" text-anchor="end" fill="#555" stroke="#555" stroke-width="0" font-weight="normal" >0</text>
<text x="275.6" y="63.0" font-size="4.6" text-anchor="end" fill="#555" stroke="#555" stroke-width="0" font-weight="normal" >50</text>
<text x="275.6" y="50.6" font-size="4.6" text-anchor="end" fill="#555" stroke="#555" stroke-width="0" font-weight="normal" >100</text>
<text x="275.6" y="38.2" font-size="4.6" text-anchor="end" fill="#555" stroke="#555" stroke-width="0" font-weight="normal" >150</text>
<text x="275.6" y="25.8" font-size="4.6" text-anchor="end" fill="#555" stroke="#555" stroke-width="0" font-weight="normal" >200</text>
<path d="M265.2,64 L265.2,82.9 L285.4,82.9" stroke="#222" stroke-width="1.2" fill="none"/>
<text x="0" y="0" font-size="7" text-anchor="middle" fill="#222" stroke="#222" stroke-width="0.196" font-weight="normal" transform="translate(262.2 73.5) rotate(-90)">Count</text>
<text x="262" y="89" font-size="7.2" text-anchor="start" fill="#222" stroke="#222" stroke-width="0.202" font-weight="normal" >mVenus</text>
<line x1="381" y1="62.5" x2="306.5" y2="101" stroke="#d0407e" stroke-width="0.8" />
<path d="M304.8,102.3 L308.4,98.4 L309.9,101.2 Z" fill="#d0407e"/>
<line x1="444" y1="62" x2="461" y2="93" stroke="#2e7d5a" stroke-width="0.8" />
<path d="M462.2,95.5 L458.6,92 L461.6,90.6 Z" fill="#2e7d5a"/>
<g transform="translate(286 198.3) scale(195 -97)">
<ellipse cx="0" cy="0" rx="0.36" ry="0.205" transform="translate(0.348 0.518) rotate(135)" fill="#ee9fc2" fill-opacity="0.29" stroke="#d4d4d4" stroke-width="0.6" vector-effect="non-scaling-stroke"/>
<ellipse cx="0" cy="0" rx="0.36" ry="0.205" transform="translate(0.5 0.57) rotate(135)" fill="#efe3a6" fill-opacity="0.29" stroke="#d4d4d4" stroke-width="0.6" vector-effect="non-scaling-stroke"/>
<ellipse cx="0" cy="0" rx="0.36" ry="0.205" transform="translate(0.5 0.57) rotate(45)" fill="#bfe0b0" fill-opacity="0.29" stroke="#d4d4d4" stroke-width="0.6" vector-effect="non-scaling-stroke"/>
<ellipse cx="0" cy="0" rx="0.36" ry="0.205" transform="translate(0.652 0.518) rotate(45)" fill="#bfe2cc" fill-opacity="0.29" stroke="#d4d4d4" stroke-width="0.6" vector-effect="non-scaling-stroke"/>
</g>
<text x="358.7" y="124.8" font-size="10" text-anchor="middle" fill="#b4b4b4" stroke="#b4b4b4" stroke-width="0.12" font-weight="normal" >0</text>
<text x="407.5" y="124.8" font-size="10" text-anchor="middle" fill="#222" stroke="#222" stroke-width="0.12" font-weight="normal" >257</text>
<text x="343" y="135.6" font-size="10" text-anchor="middle" fill="#222" stroke="#222" stroke-width="0" font-weight="bold" text-decoration="underline">89</text>
<text x="382.5" y="132.3" font-size="10" text-anchor="middle" fill="#b4b4b4" stroke="#b4b4b4" stroke-width="0.12" font-weight="normal" >0</text>
<text x="425.8" y="135.6" font-size="10" text-anchor="middle" fill="#222" stroke="#222" stroke-width="0" font-weight="bold" text-decoration="underline">43</text>
<text x="321" y="146" font-size="10" text-anchor="middle" fill="#222" stroke="#222" stroke-width="0.12" font-weight="normal" >128</text>
<text x="402.5" y="145.6" font-size="10" text-anchor="middle" fill="#b4b4b4" stroke="#b4b4b4" stroke-width="0.12" font-weight="normal" >0</text>
<text x="446.3" y="145.6" font-size="10" text-anchor="middle" fill="#b4b4b4" stroke="#b4b4b4" stroke-width="0.12" font-weight="normal" >0</text>
<text x="383.3" y="156" font-size="10" text-anchor="middle" fill="#222" stroke="#222" stroke-width="0" font-weight="bold" text-decoration="underline">24</text>
<text x="350" y="161" font-size="10" text-anchor="middle" fill="#222" stroke="#222" stroke-width="0.12" font-weight="normal" >23</text>
<text x="368" y="164.8" font-size="10" text-anchor="middle" fill="#b4b4b4" stroke="#b4b4b4" stroke-width="0.12" font-weight="normal" >0</text>
<text x="398.8" y="164.8" font-size="10" text-anchor="middle" fill="#b4b4b4" stroke="#b4b4b4" stroke-width="0.12" font-weight="normal" >0</text>
<text x="418" y="161" font-size="10" text-anchor="middle" fill="#b4b4b4" stroke="#b4b4b4" stroke-width="0.12" font-weight="normal" >0</text>
<text x="382.5" y="174" font-size="10" text-anchor="middle" fill="#b4b4b4" stroke="#b4b4b4" stroke-width="0.12" font-weight="normal" >0</text>
<rect x="241" y="102.7" width="62" height="20.099999999999994" fill="#f9e0ea" stroke="#f2d0de" stroke-width="0.5"/>
<text x="272.0" y="112.2" font-size="7.4" text-anchor="middle" fill="#222">MGT#1<tspan font-size="4.4" dy="-2.8">hi</tspan><tspan dy="2.8">+TNFα/</tspan></text>
<text x="272.0" y="120.3" font-size="7.4" text-anchor="middle" fill="#222">hGICs</text>
<rect x="331.3" y="91.3" width="59.19999999999999" height="19.10000000000001" fill="#fbf7e2" stroke="#e9e1b8" stroke-width="0.5"/>
<text x="360.9" y="98.7" font-size="7.4" text-anchor="middle" fill="#222">NFkB-associated</text>
<text x="360.9" y="107.6" font-size="7.4" text-anchor="middle" fill="#222">MGT#1<tspan font-size="4.4" dy="-2.8">hi</tspan><tspan dy="2.8">+TNFα</tspan></text>
<rect x="439.7" y="95.7" width="60.69999999999999" height="19.299999999999997" fill="#e2f1e8" stroke="#d2e8da" stroke-width="0.5"/>
<text x="470.0" y="104.4" font-size="7.4" text-anchor="middle" fill="#222">MGT#1<tspan font-size="4.4" dy="-2.8">hi</tspan><tspan dy="2.8">+MG/</tspan></text>
<text x="470.0" y="112.5" font-size="7.4" text-anchor="middle" fill="#222">hGICs</text>
<rect x="421.2" y="174.7" width="59.80000000000001" height="25.80000000000001" fill="#e7f3e7" stroke="#d3e8d3" stroke-width="0.5"/>
<text x="451.1" y="185" font-size="7.4" text-anchor="middle" fill="#222">NFkB-associated</text>
<text x="451.1" y="194" font-size="7.4" text-anchor="middle" fill="#222">MGT#1<tspan font-size="4.4" dy="-2.8">hi</tspan><tspan dy="2.8">+hMG</tspan></text>
<text x="260.5" y="172.6" font-size="8.7" text-anchor="start" fill="#222" stroke="#222" stroke-width="0.08" font-weight="normal" text-decoration="underline">Private to TNFα</text>
<text x="344.2" y="186.8" font-size="8.6" text-anchor="start" fill="#222" stroke="#222" stroke-width="0.08" font-weight="normal" text-decoration="underline">Shared hMG/TNFα</text>
<text x="441.8" y="169" font-size="8.6" text-anchor="start" fill="#222" stroke="#222" stroke-width="0.08" font-weight="normal" text-decoration="underline">Private to hMG</text>
<line x1="312" y1="165.5" x2="322" y2="156" stroke="#bbb" stroke-width="0.5" />
<line x1="380" y1="180" x2="383" y2="174" stroke="#bbb" stroke-width="0.5" />
<line x1="440" y1="165" x2="432" y2="157" stroke="#bbb" stroke-width="0.5" />
<line x1="428" y1="174.6" x2="422" y2="162" stroke="#bbb" stroke-width="0.5" />
</svg></body></html>
